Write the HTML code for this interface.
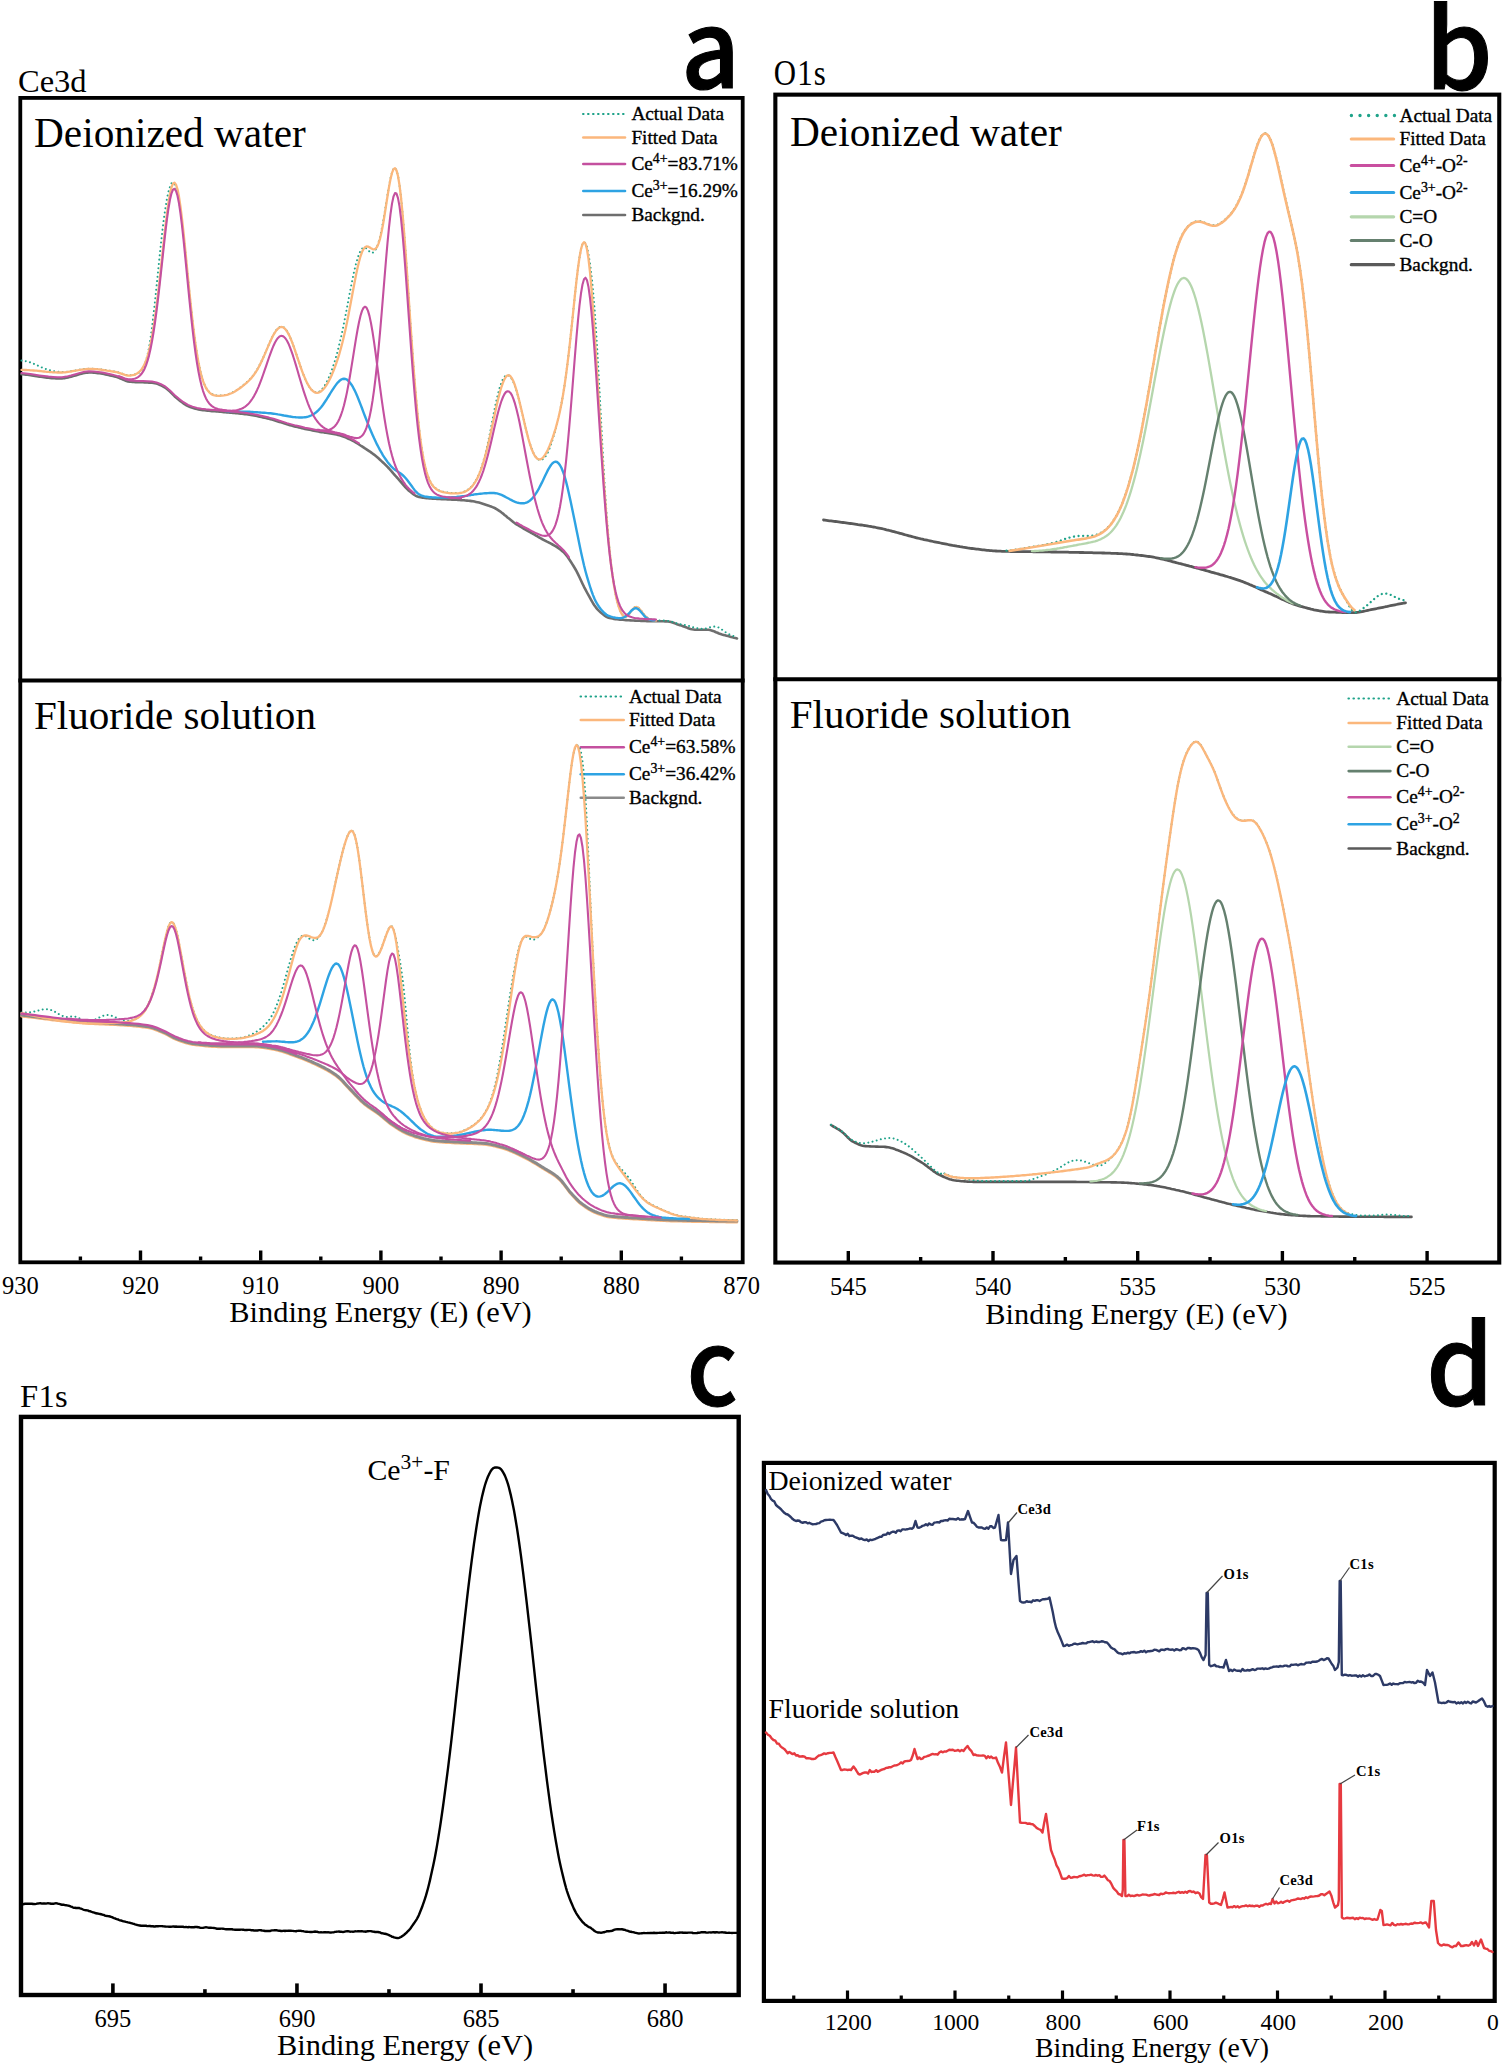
<!DOCTYPE html>
<html lang="en"><head><meta charset="utf-8"><title>XPS spectra</title>
<style>html,body{margin:0;padding:0;background:#fff}svg{display:block}text{fill:#000}</style></head>
<body>
<svg width="1503" height="2064" viewBox="0 0 1503 2064">
<rect width="1503" height="2064" fill="#fff"/>
<rect x="20.299999999999997" y="97.9" width="722.4000000000001" height="1164.4" fill="none" stroke="#000" stroke-width="3.8"/>
<line x1="18.4" y1="680.4" x2="744.6" y2="680.4" stroke="#000" stroke-width="4"/>
<text x="18" y="91.5" font-size="32.5" text-anchor="start" font-family="'Liberation Serif','Times New Roman',serif">Ce3d</text>
<text transform="translate(681.3,88.3) scale(0.93,0.98)" font-size="110" font-family="'Noto Sans CJK SC','Liberation Sans',sans-serif" font-weight="500" stroke="#000" stroke-width="1.2">a</text>
<text x="34" y="147.3" font-size="41.3" text-anchor="start" font-family="'Liberation Serif','Times New Roman',serif">Deionized water</text>
<text x="34" y="728.5" font-size="41.1" text-anchor="start" font-family="'Liberation Serif','Times New Roman',serif">Fluoride solution</text>
<line x1="140.5" y1="1260.5" x2="140.5" y2="1250.5" stroke="#000" stroke-width="3.4"/>
<line x1="260.7" y1="1260.5" x2="260.7" y2="1250.5" stroke="#000" stroke-width="3.4"/>
<line x1="380.9" y1="1260.5" x2="380.9" y2="1250.5" stroke="#000" stroke-width="3.4"/>
<line x1="501.09999999999997" y1="1260.5" x2="501.09999999999997" y2="1250.5" stroke="#000" stroke-width="3.4"/>
<line x1="621.3" y1="1260.5" x2="621.3" y2="1250.5" stroke="#000" stroke-width="3.4"/>
<line x1="80.39999999999999" y1="1260.5" x2="80.39999999999999" y2="1256.5" stroke="#000" stroke-width="3.4"/>
<line x1="200.6" y1="1260.5" x2="200.6" y2="1256.5" stroke="#000" stroke-width="3.4"/>
<line x1="320.8" y1="1260.5" x2="320.8" y2="1256.5" stroke="#000" stroke-width="3.4"/>
<line x1="441.0" y1="1260.5" x2="441.0" y2="1256.5" stroke="#000" stroke-width="3.4"/>
<line x1="561.1999999999999" y1="1260.5" x2="561.1999999999999" y2="1256.5" stroke="#000" stroke-width="3.4"/>
<line x1="681.4" y1="1260.5" x2="681.4" y2="1256.5" stroke="#000" stroke-width="3.4"/>
<text x="20.3" y="1294" font-size="24.5" text-anchor="middle" font-family="'Liberation Serif','Times New Roman',serif">930</text>
<text x="140.5" y="1294" font-size="24.5" text-anchor="middle" font-family="'Liberation Serif','Times New Roman',serif">920</text>
<text x="260.7" y="1294" font-size="24.5" text-anchor="middle" font-family="'Liberation Serif','Times New Roman',serif">910</text>
<text x="380.9" y="1294" font-size="24.5" text-anchor="middle" font-family="'Liberation Serif','Times New Roman',serif">900</text>
<text x="501.1" y="1294" font-size="24.5" text-anchor="middle" font-family="'Liberation Serif','Times New Roman',serif">890</text>
<text x="621.3" y="1294" font-size="24.5" text-anchor="middle" font-family="'Liberation Serif','Times New Roman',serif">880</text>
<text x="741.5" y="1294" font-size="24.5" text-anchor="middle" font-family="'Liberation Serif','Times New Roman',serif">870</text>
<text x="380.5" y="1322" font-size="30.4" text-anchor="middle" font-family="'Liberation Serif','Times New Roman',serif">Binding Energy (E) (eV)</text>
<line x1="583.0" y1="114" x2="626.3" y2="114" stroke="#1fa38a" stroke-width="2.0" stroke-dasharray="0.6 4.4" stroke-linecap="round"/>
<text x="631.4" y="120.1" font-size="19.3" text-anchor="start" font-family="'Liberation Serif','Times New Roman',serif" stroke="#000" stroke-width="0.35">Actual Data</text>
<line x1="583.3" y1="137.5" x2="625.0" y2="137.5" stroke="#fbb77c" stroke-width="2.6" stroke-linecap="round"/>
<text x="631.4" y="143.6" font-size="19.3" text-anchor="start" font-family="'Liberation Serif','Times New Roman',serif" stroke="#000" stroke-width="0.35">Fitted Data</text>
<line x1="583.3" y1="164" x2="625.0" y2="164" stroke="#c4509f" stroke-width="2.6" stroke-linecap="round"/>
<text x="631.4" y="170.1" font-size="19.3" text-anchor="start" font-family="'Liberation Serif','Times New Roman',serif" stroke="#000" stroke-width="0.35">Ce<tspan font-size="0.72em" dy="-0.5em">4+</tspan><tspan dy="0.36em" font-size="1em">&#8203;</tspan>=83.71%</text>
<line x1="583.3" y1="191" x2="625.0" y2="191" stroke="#2ea3e3" stroke-width="2.6" stroke-linecap="round"/>
<text x="631.4" y="197.1" font-size="19.3" text-anchor="start" font-family="'Liberation Serif','Times New Roman',serif" stroke="#000" stroke-width="0.35">Ce<tspan font-size="0.72em" dy="-0.5em">3+</tspan><tspan dy="0.36em" font-size="1em">&#8203;</tspan>=16.29%</text>
<line x1="583.3" y1="215" x2="625.0" y2="215" stroke="#6e6e6e" stroke-width="2.6" stroke-linecap="round"/>
<text x="631.4" y="221.1" font-size="19.3" text-anchor="start" font-family="'Liberation Serif','Times New Roman',serif" stroke="#000" stroke-width="0.35">Backgnd.</text>
<line x1="580.5" y1="696.5" x2="625" y2="696.5" stroke="#1fa38a" stroke-width="2.0" stroke-dasharray="0.6 4.4" stroke-linecap="round"/>
<text x="629" y="702.6" font-size="19.3" text-anchor="start" font-family="'Liberation Serif','Times New Roman',serif" stroke="#000" stroke-width="0.35">Actual Data</text>
<line x1="580.8" y1="720" x2="623.7" y2="720" stroke="#fbb77c" stroke-width="2.6" stroke-linecap="round"/>
<text x="629" y="726.1" font-size="19.3" text-anchor="start" font-family="'Liberation Serif','Times New Roman',serif" stroke="#000" stroke-width="0.35">Fitted Data</text>
<line x1="580.8" y1="747.2" x2="623.7" y2="747.2" stroke="#c4509f" stroke-width="2.6" stroke-linecap="round"/>
<text x="629" y="753.3000000000001" font-size="19.3" text-anchor="start" font-family="'Liberation Serif','Times New Roman',serif" stroke="#000" stroke-width="0.35">Ce<tspan font-size="0.72em" dy="-0.5em">4+</tspan><tspan dy="0.36em" font-size="1em">&#8203;</tspan>=63.58%</text>
<line x1="580.8" y1="774.2" x2="623.7" y2="774.2" stroke="#2ea3e3" stroke-width="2.6" stroke-linecap="round"/>
<text x="629" y="780.3000000000001" font-size="19.3" text-anchor="start" font-family="'Liberation Serif','Times New Roman',serif" stroke="#000" stroke-width="0.35">Ce<tspan font-size="0.72em" dy="-0.5em">3+</tspan><tspan dy="0.36em" font-size="1em">&#8203;</tspan>=36.42%</text>
<line x1="580.8" y1="797.7" x2="623.7" y2="797.7" stroke="#8a8a8a" stroke-width="2.6" stroke-linecap="round"/>
<text x="629" y="803.8000000000001" font-size="19.3" text-anchor="start" font-family="'Liberation Serif','Times New Roman',serif" stroke="#000" stroke-width="0.35">Backgnd.</text>
<path d="M21.5,374.1 L23.0,374.2 L24.5,374.4 L26.0,374.6 L27.5,374.8 L29.0,375.0 L30.5,375.2 L32.0,375.4 L33.5,375.7 L35.0,375.9 L36.5,376.1 L38.0,376.4 L39.5,376.6 L41.0,376.8 L42.5,377.0 L44.0,377.2 L45.5,377.4 L47.0,377.6 L48.5,377.8 L50.0,378.0 L51.5,378.1 L53.0,378.2 L54.5,378.3 L56.0,378.4 L57.5,378.5 L59.0,378.5 L60.5,378.5 L62.0,378.4 L63.5,378.3 L65.0,378.1 L66.5,377.8 L68.0,377.4 L69.5,377.1 L71.0,376.7 L72.5,376.2 L74.0,375.8 L75.5,375.4 L77.0,374.9 L78.5,374.5 L80.0,374.1 L81.5,373.7 L83.0,373.3 L84.5,373.0 L86.0,372.8 L87.5,372.6 L89.0,372.5 L90.5,372.5 L92.0,372.5 L93.5,372.6 L95.0,372.7 L96.5,372.9 L98.0,373.1 L99.5,373.3 L101.0,373.5 L102.5,373.8 L104.0,374.1 L105.5,374.4 L107.0,374.7 L108.5,375.0 L110.0,375.4 L111.5,375.7 L113.0,376.0 L114.5,376.4 L116.0,376.8 L117.5,377.2 L119.0,377.8 L120.5,378.5 L122.0,379.1 L123.5,379.8 L125.0,380.4 L126.5,380.9 L128.0,381.4 L129.5,381.6 L131.0,381.8 L132.5,381.9 L134.0,382.0 L135.5,382.1 L137.0,382.1 L138.5,382.2 L140.0,382.2 L141.5,382.3 L143.0,382.3 L144.5,382.4 L146.0,382.4 L147.5,382.5 L149.0,382.6 L150.5,382.7 L152.0,382.8 L153.5,382.9 L155.0,383.2 L156.5,383.6 L158.0,384.1 L159.5,384.7 L161.0,385.4 L162.5,386.2 L164.0,387.0 L165.5,387.9 L167.0,388.9 L168.5,390.2 L170.0,391.6 L171.5,393.2 L173.0,394.7 L174.5,396.2 L176.0,397.5 L177.5,398.7 L179.0,399.9 L180.5,401.2 L182.0,402.3 L183.5,403.4 L185.0,404.5 L186.5,405.4 L188.0,406.1 L189.5,406.7 L191.0,407.3 L192.5,407.8 L194.0,408.3 L195.5,408.8 L197.0,409.1 L198.5,409.5 L200.0,409.7 L201.5,409.9 L203.0,410.1 L204.5,410.3 L206.0,410.5 L207.5,410.7 L209.0,410.8 L210.5,410.9 L212.0,411.1 L213.5,411.2 L215.0,411.3 L216.5,411.4 L218.0,411.5 L219.5,411.7 L221.0,411.8 L222.5,411.9 L224.0,412.1 L225.5,412.2 L227.0,412.4 L228.5,412.5 L230.0,412.6 L231.5,412.8 L233.0,412.9 L234.5,413.0 L236.0,413.2 L237.5,413.3 L239.0,413.5 L240.5,413.6 L242.0,413.8 L243.5,413.9 L245.0,414.1 L246.5,414.3 L248.0,414.5 L249.5,414.8 L251.0,415.0 L252.5,415.3 L254.0,415.5 L255.5,415.8 L257.0,416.1 L258.5,416.4 L260.0,416.8 L261.5,417.1 L263.0,417.4 L264.5,417.8 L266.0,418.1 L267.5,418.5 L269.0,418.8 L270.5,419.2 L272.0,419.6 L273.5,420.0 L275.0,420.4 L276.5,420.9 L278.0,421.4 L279.5,421.9 L281.0,422.3 L282.5,422.8 L284.0,423.3 L285.5,423.8 L287.0,424.3 L288.5,424.7 L290.0,425.2 L291.5,425.6 L293.0,426.0 L294.5,426.4 L296.0,426.8 L297.5,427.1 L299.0,427.5 L300.5,427.8 L302.0,428.2 L303.5,428.5 L305.0,428.9 L306.5,429.2 L308.0,429.5 L309.5,429.8 L311.0,430.1 L312.5,430.4 L314.0,430.7 L315.5,431.0 L317.0,431.3 L318.5,431.6 L320.0,431.9 L321.5,432.1 L323.0,432.3 L324.5,432.6 L326.0,432.8 L327.5,433.0 L329.0,433.2 L330.5,433.5 L332.0,433.7 L333.5,434.0 L335.0,434.3 L336.5,434.6 L338.0,434.9 L339.5,435.3 L341.0,435.7 L342.5,436.2 L344.0,436.8 L345.5,437.4 L347.0,438.0 L348.5,438.7 L350.0,439.4 L351.5,440.1 L353.0,440.9 L354.5,441.7 L356.0,442.6 L357.5,443.5 L359.0,444.5 L360.5,445.5 L362.0,446.4 L363.5,447.4 L365.0,448.4 L366.5,449.3 L368.0,450.3 L369.5,451.3 L371.0,452.4 L372.5,453.5 L374.0,454.6 L375.5,455.8 L377.0,457.0 L378.5,458.3 L380.0,459.7 L381.5,461.1 L383.0,462.5 L384.5,463.9 L386.0,465.4 L387.5,466.9 L389.0,468.5 L390.5,470.2 L392.0,471.8 L393.5,473.6 L395.0,475.3 L396.5,477.0 L398.0,478.6 L399.5,480.3 L401.0,482.1 L402.5,483.9 L404.0,485.7 L405.5,487.4 L407.0,488.9 L408.5,490.4 L410.0,491.6 L411.5,492.8 L413.0,493.9 L414.5,495.0 L416.0,495.9 L417.5,496.6 L419.0,497.0 L420.5,497.3 L422.0,497.6 L423.5,497.8 L425.0,498.0 L426.5,498.1 L428.0,498.2 L429.5,498.4 L431.0,498.5 L432.5,498.6 L434.0,498.7 L435.5,498.8 L437.0,498.9 L438.5,498.9 L440.0,499.0 L441.5,499.1 L443.0,499.1 L444.5,499.2 L446.0,499.3 L447.5,499.4 L449.0,499.4 L450.5,499.5 L452.0,499.6 L453.5,499.7 L455.0,499.8 L456.5,499.8 L458.0,499.9 L459.5,500.0 L461.0,500.1 L462.5,500.2 L464.0,500.3 L465.5,500.5 L467.0,500.6 L468.5,500.8 L470.0,500.9 L471.5,501.1 L473.0,501.3 L474.5,501.6 L476.0,501.9 L477.5,502.2 L479.0,502.6 L480.5,503.0 L482.0,503.4 L483.5,503.9 L485.0,504.4 L486.5,504.9 L488.0,505.4 L489.5,506.0 L491.0,506.5 L492.5,507.1 L494.0,507.7 L495.5,508.5 L497.0,509.3 L498.5,510.3 L500.0,511.3 L501.5,512.5 L503.0,513.6 L504.5,514.9 L506.0,516.1 L507.5,517.4 L509.0,518.6 L510.5,519.8 L512.0,521.0 L513.5,522.2 L515.0,523.3 L516.5,524.3 L518.0,525.2 L519.5,526.1 L521.0,527.0 L522.5,527.9 L524.0,528.8 L525.5,529.7 L527.0,530.5 L528.5,531.4 L530.0,532.2 L531.5,533.0 L533.0,533.9 L534.5,534.7 L536.0,535.6 L537.5,536.4 L539.0,537.3 L540.5,538.2 L542.0,539.0 L543.5,539.8 L545.0,540.6 L546.5,541.4 L548.0,542.1 L549.5,542.9 L551.0,543.7 L552.5,544.5 L554.0,545.3 L555.5,546.2 L557.0,547.2 L558.5,548.2 L560.0,549.3 L561.5,550.4 L563.0,551.7 L564.5,553.2 L566.0,554.9 L567.5,556.8 L569.0,559.0 L570.5,561.2 L572.0,563.6 L573.5,566.0 L575.0,568.5 L576.5,571.2 L578.0,574.1 L579.5,577.3 L581.0,580.5 L582.5,583.7 L584.0,586.8 L585.5,589.7 L587.0,592.5 L588.5,595.2 L590.0,597.9 L591.5,600.6 L593.0,603.2 L594.5,605.5 L596.0,607.6 L597.5,609.4 L599.0,610.9 L600.5,612.3 L602.0,613.6 L603.5,614.8 L605.0,615.9 L606.5,616.8 L608.0,617.5 L609.5,618.0 L611.0,618.3 L612.5,618.6 L614.0,618.9 L615.5,619.1 L617.0,619.3 L618.5,619.4 L620.0,619.6 L621.5,619.7 L623.0,619.8 L624.5,620.0 L626.0,620.1 L627.5,620.2 L629.0,620.3 L630.5,620.4 L632.0,620.5 L633.5,620.5 L635.0,620.6 L636.5,620.7 L638.0,620.8 L639.5,620.8 L641.0,620.9 L642.5,620.9 L644.0,621.0 L645.5,621.0 L647.0,621.1 L648.5,621.1 L650.0,621.1 L651.5,621.1 L653.0,621.2 L654.5,621.2 L656.0,621.2 L657.5,621.2 L659.0,621.3 L660.5,621.3 L662.0,621.3 L663.5,621.3 L665.0,621.4 L666.5,621.4 L668.0,621.5 L669.5,621.7 L671.0,622.0 L672.5,622.5 L674.0,623.0 L675.5,623.6 L677.0,624.2 L678.5,624.7 L680.0,625.2 L681.5,625.6 L683.0,626.2 L684.5,626.8 L686.0,627.3 L687.5,627.9 L689.0,628.4 L690.5,628.9 L692.0,629.3 L693.5,629.5 L695.0,629.7 L696.5,629.7 L698.0,629.7 L699.5,629.7 L701.0,629.7 L702.5,629.7 L704.0,629.7 L705.5,629.7 L707.0,629.7 L708.5,629.8 L710.0,630.0 L711.5,630.4 L713.0,630.9 L714.5,631.5 L716.0,632.2 L717.5,632.8 L719.0,633.5 L720.5,634.0 L722.0,634.5 L723.5,634.9 L725.0,635.3 L726.5,635.7 L728.0,636.1 L729.5,636.5 L731.0,636.9 L732.5,637.3 L734.0,637.7 L735.5,638.0 L737.0,638.4" fill="none" stroke="#6e6e6e" stroke-width="2.6" stroke-linejoin="round" stroke-linecap="round"/>
<path d="M21.5,360.6 L23.0,360.7 L24.5,360.9 L26.0,361.2 L27.5,361.6 L29.0,362.0 L30.5,362.5 L32.0,363.1 L33.5,363.7 L35.0,364.4 L36.5,365.1 L38.0,365.7 L39.5,366.4 L41.0,367.1 L42.5,367.7 L44.0,368.3 L45.5,368.9 L47.0,369.4 L48.5,369.9 L50.0,370.3 L51.5,370.7 L53.0,371.0 L54.5,371.3 L56.0,371.5 L57.5,371.7 L59.0,371.8 L60.5,371.9 L62.0,372.0 L63.5,371.9 L65.0,371.8 L66.5,371.7 L68.0,371.5 L69.5,371.3 L71.0,371.1 L72.5,370.9 L74.0,370.6 L75.5,370.4 L77.0,370.1 L78.5,369.8 L80.0,369.6 L81.5,369.4 L83.0,369.2 L84.5,369.0 L86.0,368.8 L87.5,368.7 L89.0,368.7 L90.5,368.7 L92.0,368.7 L93.5,368.7 L95.0,368.8 L96.5,368.9 L98.0,369.1 L99.5,369.2 L101.0,369.4 L102.5,369.6 L104.0,369.8 L105.5,370.0 L107.0,370.3 L108.5,370.5 L110.0,370.7 L111.5,371.0 L113.0,371.2 L114.5,371.5 L116.0,371.7 L117.5,372.1 L119.0,372.6 L120.5,373.1 L122.0,373.6 L123.5,374.1 L125.0,374.6 L126.5,375.0 L128.0,375.2 L129.5,375.3 L131.0,375.2 L132.5,375.0 L134.0,374.7 L135.5,374.3 L137.0,373.8 L138.5,373.0 L140.0,372.0 L141.5,370.4 L143.0,368.2 L144.5,365.1 L146.0,360.8 L147.5,355.0 L149.0,347.5 L150.5,338.2 L152.0,327.2 L153.5,314.7 L155.0,301.1 L156.5,286.7 L158.0,272.0 L159.5,257.3 L161.0,243.1 L162.5,229.8 L164.0,217.7 L165.5,207.3 L167.0,198.5 L168.5,191.6 L170.0,186.5 L171.5,183.3 L173.0,182.5 L174.5,183.7 L176.0,187.1 L177.5,192.7 L179.0,200.4 L180.5,210.2 L182.0,221.8 L183.5,234.8 L185.0,248.9 L186.5,263.7 L188.0,278.5 L189.5,293.2 L191.0,307.4 L192.5,320.8 L194.0,333.1 L195.5,344.2 L197.0,354.0 L198.5,362.5 L200.0,369.7 L201.5,375.7 L203.0,380.6 L204.5,384.5 L206.0,387.6 L207.5,390.0 L209.0,391.8 L210.5,393.2 L212.0,394.1 L213.5,394.8 L215.0,395.2 L216.5,395.4 L218.0,395.5 L219.5,395.5 L221.0,395.4 L222.5,395.3 L224.0,395.1 L225.5,394.8 L227.0,394.5 L228.5,394.1 L230.0,393.5 L231.5,392.9 L233.0,392.2 L234.5,391.4 L236.0,390.5 L237.5,389.5 L239.0,388.5 L240.5,387.4 L242.0,386.3 L243.5,385.1 L245.0,383.9 L246.5,382.6 L248.0,381.2 L249.5,379.7 L251.0,378.1 L252.5,376.3 L254.0,374.4 L255.5,372.2 L257.0,369.8 L258.5,367.2 L260.0,364.3 L261.5,361.3 L263.0,358.0 L264.5,354.6 L266.0,351.1 L267.5,347.6 L269.0,344.1 L270.5,340.7 L272.0,337.5 L273.5,334.5 L275.0,332.0 L276.5,329.9 L278.0,328.3 L279.5,327.2 L281.0,326.7 L282.5,326.8 L284.0,327.6 L285.5,329.0 L287.0,331.1 L288.5,333.7 L290.0,336.9 L291.5,340.5 L293.0,344.4 L294.5,348.7 L296.0,353.1 L297.5,357.6 L299.0,362.1 L300.5,366.5 L302.0,370.7 L303.5,374.7 L305.0,378.4 L306.5,381.8 L308.0,384.7 L309.5,387.2 L311.0,389.2 L312.5,390.7 L314.0,391.8 L315.5,392.3 L317.0,392.4 L318.5,392.0 L320.0,391.2 L321.5,389.8 L323.0,388.1 L324.5,385.9 L326.0,383.4 L327.5,380.5 L329.0,377.2 L330.5,373.5 L332.0,369.5 L333.5,365.1 L335.0,360.4 L336.5,355.2 L338.0,349.6 L339.5,343.6 L341.0,337.2 L342.5,330.4 L344.0,323.1 L345.5,315.5 L347.0,307.7 L348.5,299.7 L350.0,291.7 L351.5,284.0 L353.0,276.6 L354.5,269.9 L356.0,263.8 L357.5,258.5 L359.0,254.2 L360.5,250.9 L362.0,248.7 L363.5,247.6 L365.0,247.6 L366.5,248.5 L368.0,250.0 L369.5,251.5 L371.0,252.6 L372.5,252.8 L374.0,251.9 L375.5,250.0 L377.0,246.8 L378.5,242.6 L380.0,237.1 L381.5,230.3 L383.0,222.5 L384.5,213.7 L386.0,204.3 L387.5,194.9 L389.0,186.1 L390.5,178.4 L392.0,172.4 L393.5,168.8 L395.0,167.9 L396.5,170.2 L398.0,175.8 L399.5,184.9 L401.0,197.4 L402.5,212.9 L404.0,230.9 L405.5,251.0 L407.0,272.4 L408.5,294.6 L410.0,316.8 L411.5,338.8 L413.0,359.9 L414.5,379.7 L416.0,397.7 L417.5,413.9 L419.0,427.9 L420.5,439.9 L422.0,450.1 L423.5,458.7 L425.0,465.8 L426.5,471.5 L428.0,476.2 L429.5,479.9 L431.0,482.8 L432.5,485.1 L434.0,486.9 L435.5,488.2 L437.0,489.3 L438.5,490.2 L440.0,490.8 L441.5,491.3 L443.0,491.8 L444.5,492.1 L446.0,492.4 L447.5,492.6 L449.0,492.8 L450.5,493.0 L452.0,493.1 L453.5,493.1 L455.0,493.1 L456.5,493.1 L458.0,493.0 L459.5,492.8 L461.0,492.6 L462.5,492.2 L464.0,491.8 L465.5,491.1 L467.0,490.3 L468.5,489.3 L470.0,488.1 L471.5,486.6 L473.0,484.9 L474.5,482.8 L476.0,480.3 L477.5,477.5 L479.0,474.1 L480.5,470.3 L482.0,465.8 L483.5,460.9 L485.0,455.3 L486.5,449.1 L488.0,442.3 L489.5,435.1 L491.0,427.4 L492.5,419.6 L494.0,411.9 L495.5,404.6 L497.0,397.8 L498.5,391.7 L500.0,386.5 L501.5,382.2 L503.0,379.0 L504.5,376.7 L506.0,375.4 L507.5,375.1 L509.0,375.6 L510.5,377.0 L512.0,379.2 L513.5,382.3 L515.0,386.2 L516.5,390.8 L518.0,396.0 L519.5,401.8 L521.0,408.0 L522.5,414.4 L524.0,420.8 L525.5,427.1 L527.0,433.2 L528.5,438.8 L530.0,443.9 L531.5,448.3 L533.0,452.1 L534.5,455.1 L536.0,457.3 L537.5,458.9 L539.0,459.8 L540.5,460.0 L542.0,459.7 L543.5,458.7 L545.0,457.2 L546.5,455.0 L548.0,452.1 L549.5,448.5 L551.0,444.4 L552.5,439.8 L554.0,434.8 L555.5,429.5 L557.0,423.8 L558.5,417.6 L560.0,410.8 L561.5,403.3 L563.0,394.8 L564.5,385.4 L566.0,374.9 L567.5,363.4 L569.0,350.9 L570.5,337.4 L572.0,323.2 L573.5,308.6 L575.0,294.1 L576.5,280.3 L578.0,267.9 L579.5,257.4 L581.0,249.3 L582.5,244.2 L584.0,242.1 L585.5,243.1 L587.0,247.1 L588.5,253.9 L590.0,263.3 L591.5,275.3 L593.0,290.0 L594.5,308.0 L596.0,329.3 L597.5,353.8 L599.0,380.7 L600.5,409.0 L602.0,437.5 L603.5,464.8 L605.0,490.1 L606.5,512.6 L608.0,532.2 L609.5,549.0 L611.0,563.2 L612.5,575.1 L614.0,585.2 L615.5,593.5 L617.0,600.4 L618.5,605.8 L620.0,610.1 L621.5,613.3 L623.0,615.4 L624.5,616.4 L626.0,616.4 L627.5,615.6 L629.0,614.0 L630.5,611.9 L632.0,609.8 L633.5,608.1 L635.0,607.0 L636.5,606.7 L638.0,607.3 L639.5,608.7 L641.0,610.5 L642.5,612.5 L644.0,614.4 L645.5,616.1 L647.0,617.4 L648.5,618.4 L650.0,619.1 L651.5,619.6 L653.0,619.9 L654.5,620.1 L656.0,620.3 L657.5,620.3 L659.0,620.4 L660.5,620.5 L662.0,620.6 L663.5,620.6 L665.0,620.7 L666.5,620.8 L668.0,620.9 L669.5,621.1 L671.0,621.4 L672.5,621.9 L674.0,622.4 L675.5,622.9 L677.0,623.4 L678.5,623.9 L680.0,624.2 L681.5,624.4 L683.0,624.7 L684.5,625.0 L686.0,625.3 L687.5,625.6 L689.0,626.0 L690.5,626.4 L692.0,626.9 L693.5,627.4 L695.0,627.8 L696.5,628.1 L698.0,628.4 L699.5,628.6 L701.0,628.7 L702.5,628.8 L704.0,628.7 L705.5,628.5 L707.0,628.2 L708.5,627.7 L710.0,627.3 L711.5,627.0 L713.0,626.7 L714.5,626.6 L716.0,626.7 L717.5,627.0 L719.0,627.7 L720.5,628.6 L722.0,629.6 L723.5,630.7 L725.0,631.8 L726.5,632.8 L728.0,633.8 L729.5,634.5 L731.0,635.2 L732.5,635.7 L734.0,636.2 L735.5,636.6 L737.0,637.0" fill="none" stroke="#1fa38a" stroke-width="2.0" stroke-linejoin="round" stroke-linecap="round" stroke-dasharray="0.01 4.3"/>
<path d="M21.5,369.9 L23.0,369.9 L24.5,370.0 L26.0,370.0 L27.5,370.1 L29.0,370.2 L30.5,370.3 L32.0,370.4 L33.5,370.5 L35.0,370.6 L36.5,370.7 L38.0,370.9 L39.5,371.0 L41.0,371.2 L42.5,371.4 L44.0,371.5 L45.5,371.7 L47.0,371.8 L48.5,371.9 L50.0,372.1 L51.5,372.2 L53.0,372.3 L54.5,372.4 L56.0,372.4 L57.5,372.5 L59.0,372.5 L60.5,372.5 L62.0,372.5 L63.5,372.4 L65.0,372.3 L66.5,372.1 L68.0,371.9 L69.5,371.7 L71.0,371.5 L72.5,371.2 L74.0,370.9 L75.5,370.7 L77.0,370.4 L78.5,370.2 L80.0,369.9 L81.5,369.7 L83.0,369.5 L84.5,369.3 L86.0,369.1 L87.5,369.0 L89.0,369.0 L90.5,369.0 L92.0,369.0 L93.5,369.0 L95.0,369.1 L96.5,369.2 L98.0,369.4 L99.5,369.5 L101.0,369.7 L102.5,369.9 L104.0,370.1 L105.5,370.3 L107.0,370.6 L108.5,370.8 L110.0,371.0 L111.5,371.3 L113.0,371.5 L114.5,371.8 L116.0,372.0 L117.5,372.4 L119.0,372.9 L120.5,373.4 L122.0,373.9 L123.5,374.4 L125.0,374.9 L126.5,375.3 L128.0,375.5 L129.5,375.6 L131.0,375.4 L132.5,375.2 L134.0,374.8 L135.5,374.3 L137.0,373.5 L138.5,372.5 L140.0,371.2 L141.5,369.5 L143.0,367.2 L144.5,364.4 L146.0,360.8 L147.5,356.3 L149.0,350.9 L150.5,344.3 L152.0,336.6 L153.5,327.6 L155.0,317.5 L156.5,306.3 L158.0,294.1 L159.5,281.0 L161.0,267.2 L162.5,253.2 L164.0,239.2 L165.5,225.7 L167.0,213.3 L168.5,202.5 L170.0,193.7 L171.5,187.3 L173.0,183.6 L174.5,182.6 L176.0,184.6 L177.5,189.3 L179.0,196.8 L180.5,206.8 L182.0,218.9 L183.5,232.5 L185.0,247.2 L186.5,262.5 L188.0,277.8 L189.5,292.8 L191.0,307.2 L192.5,320.8 L194.0,333.2 L195.5,344.4 L197.0,354.2 L198.5,362.8 L200.0,370.0 L201.5,376.0 L203.0,380.9 L204.5,384.8 L206.0,387.9 L207.5,390.3 L209.0,392.1 L210.5,393.5 L212.0,394.4 L213.5,395.1 L215.0,395.5 L216.5,395.7 L218.0,395.8 L219.5,395.8 L221.0,395.7 L222.5,395.6 L224.0,395.4 L225.5,395.1 L227.0,394.8 L228.5,394.4 L230.0,393.8 L231.5,393.2 L233.0,392.5 L234.5,391.7 L236.0,390.8 L237.5,389.8 L239.0,388.8 L240.5,387.7 L242.0,386.6 L243.5,385.4 L245.0,384.2 L246.5,382.9 L248.0,381.5 L249.5,380.0 L251.0,378.4 L252.5,376.6 L254.0,374.7 L255.5,372.5 L257.0,370.1 L258.5,367.5 L260.0,364.6 L261.5,361.6 L263.0,358.3 L264.5,354.9 L266.0,351.4 L267.5,347.9 L269.0,344.4 L270.5,341.0 L272.0,337.8 L273.5,334.8 L275.0,332.3 L276.5,330.2 L278.0,328.6 L279.5,327.5 L281.0,327.0 L282.5,327.1 L284.0,327.9 L285.5,329.3 L287.0,331.4 L288.5,334.0 L290.0,337.1 L291.5,340.7 L293.0,344.7 L294.5,348.9 L296.0,353.3 L297.5,357.8 L299.0,362.2 L300.5,366.6 L302.0,370.8 L303.5,374.8 L305.0,378.4 L306.5,381.7 L308.0,384.6 L309.5,387.1 L311.0,389.2 L312.5,390.8 L314.0,391.9 L315.5,392.6 L317.0,392.8 L318.5,392.6 L320.0,392.0 L321.5,391.0 L323.0,389.6 L324.5,387.9 L326.0,385.8 L327.5,383.4 L329.0,380.7 L330.5,377.7 L332.0,374.4 L333.5,370.8 L335.0,366.9 L336.5,362.7 L338.0,358.2 L339.5,353.3 L341.0,347.9 L342.5,342.2 L344.0,336.0 L345.5,329.4 L347.0,322.3 L348.5,314.8 L350.0,306.9 L351.5,298.8 L353.0,290.7 L354.5,282.7 L356.0,275.1 L357.5,268.0 L359.0,261.7 L360.5,256.3 L362.0,252.1 L363.5,249.1 L365.0,247.2 L366.5,246.4 L368.0,246.6 L369.5,247.3 L371.0,248.3 L372.5,249.1 L374.0,249.4 L375.5,248.8 L377.0,247.0 L378.5,243.6 L380.0,238.8 L381.5,232.3 L383.0,224.5 L384.5,215.5 L386.0,205.9 L387.5,196.2 L389.0,187.1 L390.5,179.1 L392.0,172.9 L393.5,169.1 L395.0,168.1 L396.5,170.4 L398.0,176.0 L399.5,185.1 L401.0,197.5 L402.5,213.0 L404.0,231.1 L405.5,251.1 L407.0,272.6 L408.5,294.8 L410.0,317.1 L411.5,339.0 L413.0,360.2 L414.5,379.9 L416.0,398.0 L417.5,414.2 L419.0,428.2 L420.5,440.2 L422.0,450.4 L423.5,459.0 L425.0,466.1 L426.5,471.8 L428.0,476.5 L429.5,480.2 L431.0,483.1 L432.5,485.4 L434.0,487.2 L435.5,488.5 L437.0,489.6 L438.5,490.5 L440.0,491.1 L441.5,491.6 L443.0,492.1 L444.5,492.4 L446.0,492.7 L447.5,492.9 L449.0,493.1 L450.5,493.3 L452.0,493.4 L453.5,493.4 L455.0,493.4 L456.5,493.4 L458.0,493.3 L459.5,493.1 L461.0,492.9 L462.5,492.5 L464.0,492.1 L465.5,491.4 L467.0,490.6 L468.5,489.6 L470.0,488.4 L471.5,487.0 L473.0,485.2 L474.5,483.1 L476.0,480.7 L477.5,477.9 L479.0,474.6 L480.5,470.9 L482.0,466.6 L483.5,461.9 L485.0,456.7 L486.5,451.1 L488.0,445.0 L489.5,438.5 L491.0,431.7 L492.5,424.7 L494.0,417.7 L495.5,410.7 L497.0,404.0 L498.5,397.7 L500.0,391.9 L501.5,386.8 L503.0,382.5 L504.5,379.1 L506.0,376.7 L507.5,375.4 L509.0,375.3 L510.5,376.3 L512.0,378.4 L513.5,381.5 L515.0,385.5 L516.5,390.3 L518.0,395.7 L519.5,401.7 L521.0,408.0 L522.5,414.5 L524.0,421.0 L525.5,427.4 L527.0,433.4 L528.5,439.1 L530.0,444.2 L531.5,448.6 L533.0,452.3 L534.5,455.3 L536.0,457.4 L537.5,458.8 L539.0,459.4 L540.5,459.3 L542.0,458.5 L543.5,457.0 L545.0,454.9 L546.5,452.4 L548.0,449.4 L549.5,446.0 L551.0,442.2 L552.5,438.1 L554.0,433.6 L555.5,428.8 L557.0,423.4 L558.5,417.5 L560.0,410.9 L561.5,403.5 L563.0,395.1 L564.5,385.7 L566.0,375.2 L567.5,363.7 L569.0,351.2 L570.5,337.7 L572.0,323.5 L573.5,308.9 L575.0,294.3 L576.5,280.5 L578.0,268.0 L579.5,257.4 L581.0,249.3 L582.5,244.0 L584.0,242.1 L585.5,243.8 L587.0,249.3 L588.5,258.8 L590.0,272.2 L591.5,289.1 L593.0,309.0 L594.5,331.1 L596.0,354.9 L597.5,379.5 L599.0,404.4 L600.5,429.1 L602.0,453.2 L603.5,476.2 L605.0,497.7 L606.5,517.3 L608.0,535.0 L609.5,550.5 L611.0,564.1 L612.5,575.7 L614.0,585.6 L615.5,593.9 L617.0,600.7 L618.5,606.1 L620.0,610.4 L621.5,613.6 L623.0,615.7 L624.5,616.7 L626.0,616.7 L627.5,615.9 L629.0,614.3 L630.5,612.2 L632.0,610.1 L633.5,608.4 L635.0,607.3 L636.5,607.0 L638.0,607.6 L639.5,609.0 L641.0,610.8 L642.5,612.8 L644.0,614.7 L645.5,616.4 L647.0,617.7 L648.5,618.7 L650.0,619.4 L651.5,619.9 L653.0,620.2 L654.5,620.4 L656.0,620.6" fill="none" stroke="#fbb77c" stroke-width="2.3" stroke-linejoin="round" stroke-linecap="round"/>
<path d="M225.5,411.1 L227.0,411.1 L228.5,411.2 L230.0,411.3 L231.5,411.3 L233.0,411.4 L234.5,411.4 L236.0,411.4 L237.5,411.5 L239.0,411.5 L240.5,411.6 L242.0,411.6 L243.5,411.6 L245.0,411.7 L246.5,411.7 L248.0,411.8 L249.5,411.8 L251.0,411.9 L252.5,412.0 L254.0,412.1 L255.5,412.1 L257.0,412.2 L258.5,412.4 L260.0,412.5 L261.5,412.6 L263.0,412.7 L264.5,412.8 L266.0,412.9 L267.5,413.1 L269.0,413.2 L270.5,413.3 L272.0,413.5 L273.5,413.7 L275.0,413.9 L276.5,414.1 L278.0,414.4 L279.5,414.6 L281.0,414.9 L282.5,415.2 L284.0,415.5 L285.5,415.7 L287.0,416.0 L288.5,416.3 L290.0,416.5 L291.5,416.8 L293.0,417.0 L294.5,417.1 L296.0,417.3 L297.5,417.4 L299.0,417.5 L300.5,417.5 L302.0,417.5 L303.5,417.4 L305.0,417.2 L306.5,417.0 L308.0,416.6 L309.5,416.1 L311.0,415.5 L312.5,414.8 L314.0,413.9 L315.5,412.8 L317.0,411.5 L318.5,410.1 L320.0,408.5 L321.5,406.7 L323.0,404.7 L324.5,402.5 L326.0,400.3 L327.5,397.9 L329.0,395.5 L330.5,393.0 L332.0,390.6 L333.5,388.3 L335.0,386.1 L336.5,384.1 L338.0,382.3 L339.5,380.8 L341.0,379.7 L342.5,379.0 L344.0,378.8 L345.5,379.0 L347.0,379.7 L348.5,381.0 L350.0,382.6 L351.5,384.7 L353.0,387.2 L354.5,390.1 L356.0,393.3 L357.5,396.8 L359.0,400.5 L360.5,404.4 L362.0,408.3 L363.5,412.3 L365.0,416.2 L366.5,420.1 L368.0,423.9 L369.5,427.7 L371.0,431.3 L372.5,434.7 L374.0,438.1 L375.5,441.3 L377.0,444.4 L378.5,447.3 L380.0,450.1 L381.5,452.7 L383.0,455.3 L384.5,457.6 L386.0,459.8 L387.5,461.9 L389.0,463.8 L390.5,465.6 L392.0,467.2 L393.5,468.6 L395.0,469.8 L396.5,470.8 L398.0,471.8 L399.5,472.7 L401.0,473.8 L402.5,475.0 L404.0,476.4 L405.5,478.0 L407.0,479.8 L408.5,481.7 L410.0,483.7 L411.5,485.7 L413.0,487.9 L414.5,489.9 L416.0,491.7 L417.5,493.2 L419.0,494.3 L420.5,495.1 L422.0,495.7 L423.5,496.2 L425.0,496.6 L426.5,496.8 L428.0,497.0 L429.5,497.2 L431.0,497.3 L432.5,497.4 L434.0,497.5 L435.5,497.5 L437.0,497.6 L438.5,497.6 L440.0,497.6 L441.5,497.6 L443.0,497.6 L444.5,497.6 L446.0,497.5 L447.5,497.5 L449.0,497.5 L450.5,497.4 L452.0,497.3 L453.5,497.2 L455.0,497.1 L456.5,497.0 L458.0,496.8 L459.5,496.7 L461.0,496.5 L462.5,496.3 L464.0,496.1 L465.5,495.9 L467.0,495.7 L468.5,495.4 L470.0,495.2 L471.5,494.9 L473.0,494.7 L474.5,494.4 L476.0,494.2 L477.5,494.1 L479.0,493.9 L480.5,493.7 L482.0,493.6 L483.5,493.4 L485.0,493.3 L486.5,493.2 L488.0,493.1 L489.5,493.0 L491.0,493.0 L492.5,493.0 L494.0,493.0 L495.5,493.2 L497.0,493.4 L498.5,493.8 L500.0,494.3 L501.5,494.9 L503.0,495.6 L504.5,496.4 L506.0,497.2 L507.5,498.0 L509.0,498.8 L510.5,499.7 L512.0,500.4 L513.5,501.2 L515.0,501.8 L516.5,502.4 L518.0,502.8 L519.5,503.1 L521.0,503.3 L522.5,503.3 L524.0,503.2 L525.5,502.9 L527.0,502.3 L528.5,501.6 L530.0,500.5 L531.5,499.2 L533.0,497.5 L534.5,495.6 L536.0,493.4 L537.5,491.0 L539.0,488.3 L540.5,485.4 L542.0,482.4 L543.5,479.2 L545.0,476.0 L546.5,472.9 L548.0,469.9 L549.5,467.3 L551.0,465.0 L552.5,463.3 L554.0,462.1 L555.5,461.7 L557.0,462.0 L558.5,463.2 L560.0,465.2 L561.5,468.0 L563.0,471.7 L564.5,476.1 L566.0,481.4 L567.5,487.4 L569.0,493.9 L570.5,500.8 L572.0,507.9 L573.5,515.2 L575.0,522.5 L576.5,529.9 L578.0,537.3 L579.5,544.7 L581.0,551.9 L582.5,558.8 L584.0,565.3 L585.5,571.2 L587.0,576.6 L588.5,581.7 L590.0,586.5 L591.5,591.0 L593.0,595.1 L594.5,598.7 L596.0,601.9 L597.5,604.5 L599.0,606.7 L600.5,608.7 L602.0,610.5 L603.5,612.1 L605.0,613.5 L606.5,614.7 L608.0,615.6 L609.5,616.2 L611.0,616.7 L612.5,617.1 L614.0,617.4 L615.5,617.7 L617.0,617.9 L618.5,618.1 L620.0,618.1 L621.5,618.0 L623.0,617.6 L624.5,617.0 L626.0,616.1 L627.5,614.9 L629.0,613.4 L630.5,611.7 L632.0,610.2 L633.5,609.0 L635.0,608.3 L636.5,608.3 L638.0,609.0 L639.5,610.3 L641.0,612.0 L642.5,613.8 L644.0,615.6 L645.5,617.1 L647.0,618.2 L648.5,619.1 L650.0,619.6 L651.5,620.0 L653.0,620.2 L654.5,620.3" fill="none" stroke="#2ea3e3" stroke-width="2.4" stroke-linejoin="round" stroke-linecap="round"/>
<path d="M21.5,372.9 L26.0,373.4 L30.5,374.0 L35.0,374.7 L39.5,375.4 L44.0,376.0 L48.5,376.6 L53.0,377.0 L57.5,377.3 L62.0,377.2 L66.5,376.6 L71.0,375.5 L75.5,374.2 L80.0,372.9 L84.5,371.8 L89.0,371.3 L93.5,371.4 L98.0,371.9 L102.5,372.6 L107.0,373.5 L111.5,374.5 L116.0,375.6 L120.5,377.3 L125.0,379.2 L129.5,380.4 L134.0,380.8 L138.5,381.0 L143.0,381.1 L147.5,381.3 L152.0,381.6 L156.5,382.4 L161.0,384.2 L165.5,386.7 L170.0,390.4 L174.5,395.0 L179.0,398.7 L183.5,402.2 L188.0,404.9 L192.5,406.6 L197.0,407.9 L201.5,408.7 L206.0,409.3 L210.5,409.7 L215.0,410.1 L219.5,410.5 L224.0,410.9 L228.5,411.3 L233.0,411.7 L237.5,412.1 L242.0,412.6 L246.5,413.1 L251.0,413.8 L255.5,414.6 L260.0,415.6 L264.5,416.6 L269.0,417.6 L273.5,418.8 L278.0,420.2 L282.5,421.6 L287.0,423.1 L291.5,424.4 L296.0,425.6 L300.5,426.6 L305.0,427.7 L309.5,428.6 L314.0,429.5 L318.5,430.4 L323.0,431.1 L327.5,431.8 L332.0,432.5 L336.5,433.4 L341.0,434.5 L345.5,436.2 L350.0,438.2 L354.5,440.5 L359.0,443.3" fill="none" stroke="#c4509f" stroke-width="2.0" stroke-linejoin="round" stroke-linecap="round"/>
<path d="M119.0,376.1 L120.5,376.7 L122.0,377.3 L123.5,377.9 L125.0,378.5 L126.5,378.9 L128.0,379.2 L129.5,379.4 L131.0,379.3 L132.5,379.1 L134.0,378.8 L135.5,378.4 L137.0,377.7 L138.5,376.8 L140.0,375.5 L141.5,373.8 L143.0,371.7 L144.5,368.9 L146.0,365.3 L147.5,360.9 L149.0,355.6 L150.5,349.1 L152.0,341.4 L153.5,332.5 L155.0,322.5 L156.5,311.3 L158.0,299.2 L159.5,286.2 L161.0,272.5 L162.5,258.6 L164.0,244.7 L165.5,231.2 L167.0,218.9 L168.5,208.2 L170.0,199.6 L171.5,193.3 L173.0,189.6 L174.5,188.8 L176.0,190.9 L177.5,195.7 L179.0,203.4 L180.5,213.5 L182.0,225.7 L183.5,239.5 L185.0,254.4 L186.5,269.9 L188.0,285.4 L189.5,300.6 L191.0,315.2 L192.5,329.0 L194.0,341.6 L195.5,353.0 L197.0,363.1 L198.5,371.9 L200.0,379.3 L201.5,385.6 L203.0,390.8 L204.5,395.0 L206.0,398.4 L207.5,401.1 L209.0,403.2 L210.5,404.9 L212.0,406.1 L213.5,407.1 L215.0,407.9 L216.5,408.4 L218.0,408.9 L219.5,409.3 L221.0,409.6 L222.5,409.9 L224.0,410.1 L225.5,410.3 L227.0,410.6 L228.5,410.7 L230.0,410.9 L231.5,411.1" fill="none" stroke="#c4509f" stroke-width="2.1" stroke-linejoin="round" stroke-linecap="round"/>
<path d="M225.5,410.6 L227.0,410.7 L228.5,410.7 L230.0,410.7 L231.5,410.7 L233.0,410.6 L234.5,410.5 L236.0,410.3 L237.5,410.0 L239.0,409.6 L240.5,409.1 L242.0,408.5 L243.5,407.7 L245.0,406.8 L246.5,405.6 L248.0,404.2 L249.5,402.6 L251.0,400.7 L252.5,398.5 L254.0,396.1 L255.5,393.3 L257.0,390.2 L258.5,386.8 L260.0,383.1 L261.5,379.2 L263.0,375.0 L264.5,370.7 L266.0,366.3 L267.5,361.9 L269.0,357.5 L270.5,353.3 L272.0,349.3 L273.5,345.7 L275.0,342.5 L276.5,339.9 L278.0,337.9 L279.5,336.5 L281.0,335.9 L282.5,336.0 L284.0,336.9 L285.5,338.5 L287.0,340.8 L288.5,343.7 L290.0,347.3 L291.5,351.3 L293.0,355.7 L294.5,360.5 L296.0,365.4 L297.5,370.5 L299.0,375.7 L300.5,380.8 L302.0,385.8 L303.5,390.6 L305.0,395.2 L306.5,399.5 L308.0,403.6 L309.5,407.3 L311.0,410.7 L312.5,413.7 L314.0,416.5 L315.5,418.9 L317.0,421.0 L318.5,422.9 L320.0,424.5 L321.5,425.9 L323.0,427.1 L324.5,428.1 L326.0,428.9 L327.5,429.7 L329.0,430.3 L330.5,430.9 L332.0,431.4 L333.5,431.9 L335.0,432.4 L336.5,432.8 L338.0,433.2 L339.5,433.7" fill="none" stroke="#c4509f" stroke-width="2.1" stroke-linejoin="round" stroke-linecap="round"/>
<path d="M317.0,429.7 L318.5,429.9 L320.0,430.1 L321.5,430.2 L323.0,430.3 L324.5,430.3 L326.0,430.2 L327.5,430.0 L329.0,429.7 L330.5,429.2 L332.0,428.5 L333.5,427.4 L335.0,426.0 L336.5,424.1 L338.0,421.7 L339.5,418.7 L341.0,415.0 L342.5,410.5 L344.0,405.2 L345.5,399.1 L347.0,392.1 L348.5,384.3 L350.0,375.8 L351.5,366.7 L353.0,357.3 L354.5,347.8 L356.0,338.6 L357.5,330.0 L359.0,322.2 L360.5,315.8 L362.0,310.9 L363.5,307.8 L365.0,306.7 L366.5,307.7 L368.0,310.9 L369.5,316.1 L371.0,323.2 L372.5,331.8 L374.0,341.6 L375.5,352.4 L377.0,363.8 L378.5,375.4 L380.0,386.9 L381.5,398.1 L383.0,408.7 L384.5,418.5 L386.0,427.6 L387.5,435.8 L389.0,443.2 L390.5,449.7 L392.0,455.5 L393.5,460.6 L395.0,465.0 L396.5,468.8 L398.0,472.1 L399.5,475.1 L401.0,477.9 L402.5,480.4 L404.0,482.7 L405.5,484.8 L407.0,486.7 L408.5,488.3 L410.0,489.7 L411.5,491.0 L413.0,492.3 L414.5,493.4" fill="none" stroke="#c4509f" stroke-width="2.1" stroke-linejoin="round" stroke-linecap="round"/>
<path d="M330.5,431.8 L332.0,432.0 L333.5,432.2 L335.0,432.5 L336.5,432.7 L338.0,433.0 L339.5,433.3 L341.0,433.7 L342.5,434.1 L344.0,434.6 L345.5,435.1 L347.0,435.7 L348.5,436.2 L350.0,436.7 L351.5,437.1 L353.0,437.5 L354.5,437.9 L356.0,438.1 L357.5,438.0 L359.0,437.7 L360.5,437.0 L362.0,435.8 L363.5,434.0 L365.0,431.3 L366.5,427.7 L368.0,423.1 L369.5,417.1 L371.0,409.8 L372.5,400.9 L374.0,390.4 L375.5,378.3 L377.0,364.5 L378.5,349.2 L380.0,332.6 L381.5,315.0 L383.0,296.7 L384.5,278.2 L386.0,260.0 L387.5,242.9 L389.0,227.3 L390.5,214.1 L392.0,203.6 L393.5,196.5 L395.0,193.1 L396.5,193.6 L398.0,198.1 L399.5,206.4 L401.0,218.4 L402.5,233.5 L404.0,251.1 L405.5,270.6 L407.0,291.3 L408.5,312.6 L410.0,333.7 L411.5,354.4 L413.0,374.2 L414.5,392.7 L416.0,409.6 L417.5,424.6 L419.0,437.7 L420.5,448.9 L422.0,458.5 L423.5,466.5 L425.0,473.1 L426.5,478.5 L428.0,482.8 L429.5,486.2 L431.0,488.8 L432.5,490.9 L434.0,492.5 L435.5,493.7 L437.0,494.6 L438.5,495.3 L440.0,495.8 L441.5,496.2 L443.0,496.5 L444.5,496.7 L446.0,497.0 L447.5,497.2 L449.0,497.3 L450.5,497.5 L452.0,497.6 L453.5,497.8 L455.0,497.9 L456.5,498.0 L458.0,498.1 L459.5,498.3 L461.0,498.4" fill="none" stroke="#c4509f" stroke-width="2.1" stroke-linejoin="round" stroke-linecap="round"/>
<path d="M449.0,497.8 L450.5,497.8 L452.0,497.9 L453.5,497.8 L455.0,497.8 L456.5,497.8 L458.0,497.7 L459.5,497.5 L461.0,497.3 L462.5,497.0 L464.0,496.6 L465.5,496.1 L467.0,495.5 L468.5,494.7 L470.0,493.7 L471.5,492.5 L473.0,491.0 L474.5,489.2 L476.0,487.1 L477.5,484.6 L479.0,481.7 L480.5,478.3 L482.0,474.5 L483.5,470.3 L485.0,465.5 L486.5,460.3 L488.0,454.7 L489.5,448.7 L491.0,442.4 L492.5,435.9 L494.0,429.3 L495.5,422.9 L497.0,416.6 L498.5,410.8 L500.0,405.5 L501.5,400.8 L503.0,397.0 L504.5,394.0 L506.0,392.0 L507.5,391.2 L509.0,391.5 L510.5,392.9 L512.0,395.4 L513.5,399.1 L515.0,403.7 L516.5,409.2 L518.0,415.4 L519.5,422.3 L521.0,429.8 L522.5,437.6 L524.0,445.6 L525.5,453.7 L527.0,461.7 L528.5,469.6 L530.0,477.2 L531.5,484.4 L533.0,491.3 L534.5,497.7 L536.0,503.6 L537.5,509.0 L539.0,513.9 L540.5,518.4 L542.0,522.3 L543.5,525.8 L545.0,528.9 L546.5,531.6 L548.0,534.0 L549.5,536.1 L551.0,538.0 L552.5,539.7 L554.0,541.2 L555.5,542.7 L557.0,544.1 L558.5,545.5 L560.0,546.8 L561.5,548.2 L563.0,549.7 L564.5,551.3 L566.0,553.1 L567.5,555.1 L569.0,557.3" fill="none" stroke="#c4509f" stroke-width="2.1" stroke-linejoin="round" stroke-linecap="round"/>
<path d="M516.5,522.6 L518.0,523.5 L519.5,524.4 L521.0,525.2 L522.5,526.1 L524.0,526.9 L525.5,527.7 L527.0,528.5 L528.5,529.3 L530.0,530.1 L531.5,530.9 L533.0,531.6 L534.5,532.4 L536.0,533.1 L537.5,533.8 L539.0,534.4 L540.5,535.0 L542.0,535.5 L543.5,535.8 L545.0,535.9 L546.5,535.7 L548.0,535.3 L549.5,534.4 L551.0,533.0 L552.5,531.0 L554.0,528.3 L555.5,524.6 L557.0,519.9 L558.5,514.0 L560.0,506.7 L561.5,497.8 L563.0,487.3 L564.5,475.2 L566.0,461.6 L567.5,446.4 L569.0,429.8 L570.5,412.0 L572.0,393.4 L573.5,374.2 L575.0,355.1 L576.5,336.8 L578.0,320.1 L579.5,305.4 L581.0,293.3 L582.5,284.5 L584.0,279.2 L585.5,277.7 L587.0,280.3 L588.5,287.1 L590.0,298.0 L591.5,312.5 L593.0,330.1 L594.5,350.2 L596.0,371.9 L597.5,394.6 L599.0,417.6 L600.5,440.6 L602.0,463.0 L603.5,484.4 L605.0,504.2 L606.5,522.4 L608.0,538.6 L609.5,552.8 L611.0,565.0 L612.5,575.4 L614.0,584.2 L615.5,591.4 L617.0,597.4 L618.5,602.1 L620.0,605.9 L621.5,608.9 L623.0,611.2 L624.5,613.0 L626.0,614.4 L627.5,615.4 L629.0,616.2 L630.5,616.8 L632.0,617.3 L633.5,617.7 L635.0,618.0 L636.5,618.2 L638.0,618.4 L639.5,618.6 L641.0,618.7 L642.5,618.8 L644.0,619.0 L645.5,619.1 L647.0,619.1 L648.5,619.2 L650.0,619.3 L651.5,619.3 L653.0,619.4 L654.5,619.4 L656.0,619.5" fill="none" stroke="#c4509f" stroke-width="2.1" stroke-linejoin="round" stroke-linecap="round"/>
<path d="M21.5,1016.3 L23.0,1016.5 L24.5,1016.7 L26.0,1016.8 L27.5,1017.0 L29.0,1017.2 L30.5,1017.4 L32.0,1017.6 L33.5,1017.7 L35.0,1017.9 L36.5,1018.1 L38.0,1018.3 L39.5,1018.5 L41.0,1018.7 L42.5,1018.9 L44.0,1019.1 L45.5,1019.3 L47.0,1019.4 L48.5,1019.6 L50.0,1019.8 L51.5,1020.0 L53.0,1020.2 L54.5,1020.3 L56.0,1020.5 L57.5,1020.7 L59.0,1020.8 L60.5,1021.0 L62.0,1021.2 L63.5,1021.3 L65.0,1021.5 L66.5,1021.7 L68.0,1021.8 L69.5,1022.0 L71.0,1022.1 L72.5,1022.3 L74.0,1022.5 L75.5,1022.6 L77.0,1022.7 L78.5,1022.9 L80.0,1023.0 L81.5,1023.1 L83.0,1023.3 L84.5,1023.4 L86.0,1023.5 L87.5,1023.6 L89.0,1023.7 L90.5,1023.8 L92.0,1023.8 L93.5,1023.9 L95.0,1024.0 L96.5,1024.1 L98.0,1024.1 L99.5,1024.2 L101.0,1024.3 L102.5,1024.3 L104.0,1024.4 L105.5,1024.5 L107.0,1024.5 L108.5,1024.6 L110.0,1024.7 L111.5,1024.7 L113.0,1024.8 L114.5,1024.9 L116.0,1024.9 L117.5,1025.0 L119.0,1025.1 L120.5,1025.2 L122.0,1025.3 L123.5,1025.4 L125.0,1025.5 L126.5,1025.6 L128.0,1025.7 L129.5,1025.8 L131.0,1025.9 L132.5,1026.0 L134.0,1026.2 L135.5,1026.3 L137.0,1026.5 L138.5,1026.6 L140.0,1026.8 L141.5,1027.0 L143.0,1027.2 L144.5,1027.4 L146.0,1027.6 L147.5,1027.8 L149.0,1028.1 L150.5,1028.4 L152.0,1028.8 L153.5,1029.2 L155.0,1029.8 L156.5,1030.3 L158.0,1030.9 L159.5,1031.6 L161.0,1032.2 L162.5,1032.8 L164.0,1033.5 L165.5,1034.2 L167.0,1035.0 L168.5,1035.8 L170.0,1036.6 L171.5,1037.5 L173.0,1038.3 L174.5,1039.0 L176.0,1039.7 L177.5,1040.2 L179.0,1040.8 L180.5,1041.3 L182.0,1041.9 L183.5,1042.4 L185.0,1042.9 L186.5,1043.3 L188.0,1043.7 L189.5,1044.1 L191.0,1044.4 L192.5,1044.7 L194.0,1044.9 L195.5,1045.1 L197.0,1045.3 L198.5,1045.4 L200.0,1045.6 L201.5,1045.8 L203.0,1045.9 L204.5,1046.1 L206.0,1046.2 L207.5,1046.3 L209.0,1046.5 L210.5,1046.6 L212.0,1046.7 L213.5,1046.8 L215.0,1046.8 L216.5,1046.9 L218.0,1047.0 L219.5,1047.0 L221.0,1047.1 L222.5,1047.1 L224.0,1047.1 L225.5,1047.1 L227.0,1047.1 L228.5,1047.1 L230.0,1047.1 L231.5,1047.1 L233.0,1047.1 L234.5,1047.1 L236.0,1047.1 L237.5,1047.1 L239.0,1047.1 L240.5,1047.1 L242.0,1047.1 L243.5,1047.1 L245.0,1047.1 L246.5,1047.1 L248.0,1047.1 L249.5,1047.1 L251.0,1047.1 L252.5,1047.1 L254.0,1047.1 L255.5,1047.2 L257.0,1047.3 L258.5,1047.4 L260.0,1047.5 L261.5,1047.7 L263.0,1047.9 L264.5,1048.1 L266.0,1048.3 L267.5,1048.6 L269.0,1048.8 L270.5,1049.1 L272.0,1049.4 L273.5,1049.6 L275.0,1049.9 L276.5,1050.2 L278.0,1050.6 L279.5,1051.0 L281.0,1051.4 L282.5,1051.9 L284.0,1052.4 L285.5,1052.9 L287.0,1053.4 L288.5,1053.9 L290.0,1054.5 L291.5,1055.0 L293.0,1055.6 L294.5,1056.1 L296.0,1056.7 L297.5,1057.2 L299.0,1057.8 L300.5,1058.4 L302.0,1058.9 L303.5,1059.5 L305.0,1060.1 L306.5,1060.7 L308.0,1061.4 L309.5,1062.0 L311.0,1062.6 L312.5,1063.3 L314.0,1064.0 L315.5,1064.7 L317.0,1065.4 L318.5,1066.1 L320.0,1066.8 L321.5,1067.6 L323.0,1068.3 L324.5,1069.1 L326.0,1069.9 L327.5,1070.7 L329.0,1071.6 L330.5,1072.5 L332.0,1073.4 L333.5,1074.4 L335.0,1075.4 L336.5,1076.5 L338.0,1077.7 L339.5,1079.0 L341.0,1080.5 L342.5,1082.0 L344.0,1083.6 L345.5,1085.3 L347.0,1086.9 L348.5,1088.5 L350.0,1090.1 L351.5,1091.6 L353.0,1093.2 L354.5,1094.8 L356.0,1096.3 L357.5,1097.9 L359.0,1099.5 L360.5,1101.0 L362.0,1102.4 L363.5,1103.7 L365.0,1105.0 L366.5,1106.1 L368.0,1107.2 L369.5,1108.2 L371.0,1109.2 L372.5,1110.2 L374.0,1111.2 L375.5,1112.2 L377.0,1113.3 L378.5,1114.4 L380.0,1115.5 L381.5,1116.7 L383.0,1118.0 L384.5,1119.3 L386.0,1120.6 L387.5,1121.8 L389.0,1123.0 L390.5,1124.2 L392.0,1125.3 L393.5,1126.3 L395.0,1127.3 L396.5,1128.3 L398.0,1129.2 L399.5,1130.1 L401.0,1131.0 L402.5,1131.9 L404.0,1132.7 L405.5,1133.4 L407.0,1134.1 L408.5,1134.7 L410.0,1135.3 L411.5,1135.9 L413.0,1136.4 L414.5,1137.0 L416.0,1137.5 L417.5,1137.9 L419.0,1138.4 L420.5,1138.8 L422.0,1139.2 L423.5,1139.6 L425.0,1139.9 L426.5,1140.3 L428.0,1140.6 L429.5,1140.9 L431.0,1141.2 L432.5,1141.5 L434.0,1141.7 L435.5,1141.9 L437.0,1142.0 L438.5,1142.1 L440.0,1142.3 L441.5,1142.4 L443.0,1142.5 L444.5,1142.6 L446.0,1142.7 L447.5,1142.8 L449.0,1142.8 L450.5,1142.9 L452.0,1143.0 L453.5,1143.1 L455.0,1143.2 L456.5,1143.2 L458.0,1143.3 L459.5,1143.4 L461.0,1143.5 L462.5,1143.5 L464.0,1143.6 L465.5,1143.6 L467.0,1143.7 L468.5,1143.7 L470.0,1143.8 L471.5,1143.8 L473.0,1143.9 L474.5,1144.0 L476.0,1144.0 L477.5,1144.1 L479.0,1144.2 L480.5,1144.3 L482.0,1144.4 L483.5,1144.5 L485.0,1144.6 L486.5,1144.8 L488.0,1145.0 L489.5,1145.3 L491.0,1145.6 L492.5,1145.9 L494.0,1146.2 L495.5,1146.6 L497.0,1147.0 L498.5,1147.4 L500.0,1147.8 L501.5,1148.2 L503.0,1148.6 L504.5,1149.1 L506.0,1149.5 L507.5,1150.1 L509.0,1150.6 L510.5,1151.3 L512.0,1151.9 L513.5,1152.6 L515.0,1153.2 L516.5,1154.0 L518.0,1154.7 L519.5,1155.4 L521.0,1156.2 L522.5,1156.9 L524.0,1157.7 L525.5,1158.4 L527.0,1159.2 L528.5,1160.0 L530.0,1160.8 L531.5,1161.7 L533.0,1162.6 L534.5,1163.4 L536.0,1164.3 L537.5,1165.3 L539.0,1166.2 L540.5,1167.1 L542.0,1168.1 L543.5,1169.0 L545.0,1169.9 L546.5,1170.8 L548.0,1171.7 L549.5,1172.6 L551.0,1173.5 L552.5,1174.5 L554.0,1175.5 L555.5,1176.6 L557.0,1177.7 L558.5,1179.0 L560.0,1180.4 L561.5,1182.0 L563.0,1183.9 L564.5,1185.9 L566.0,1187.9 L567.5,1189.9 L569.0,1191.9 L570.5,1193.6 L572.0,1195.3 L573.5,1196.9 L575.0,1198.5 L576.5,1200.1 L578.0,1201.6 L579.5,1203.0 L581.0,1204.2 L582.5,1205.3 L584.0,1206.4 L585.5,1207.5 L587.0,1208.5 L588.5,1209.4 L590.0,1210.3 L591.5,1211.1 L593.0,1211.9 L594.5,1212.6 L596.0,1213.2 L597.5,1213.8 L599.0,1214.4 L600.5,1214.9 L602.0,1215.4 L603.5,1215.9 L605.0,1216.3 L606.5,1216.7 L608.0,1217.0 L609.5,1217.2 L611.0,1217.4 L612.5,1217.6 L614.0,1217.7 L615.5,1217.9 L617.0,1218.0 L618.5,1218.2 L620.0,1218.3 L621.5,1218.4 L623.0,1218.5 L624.5,1218.6 L626.0,1218.7 L627.5,1218.8 L629.0,1218.9 L630.5,1219.0 L632.0,1219.1 L633.5,1219.2 L635.0,1219.3 L636.5,1219.3 L638.0,1219.4 L639.5,1219.5 L641.0,1219.6 L642.5,1219.7 L644.0,1219.8 L645.5,1219.9 L647.0,1220.0 L648.5,1220.1 L650.0,1220.1 L651.5,1220.2 L653.0,1220.3 L654.5,1220.4 L656.0,1220.5 L657.5,1220.6 L659.0,1220.6 L660.5,1220.7 L662.0,1220.8 L663.5,1220.9 L665.0,1220.9 L666.5,1221.0 L668.0,1221.0 L669.5,1221.1 L671.0,1221.2 L672.5,1221.2 L674.0,1221.3 L675.5,1221.3 L677.0,1221.3 L678.5,1221.4 L680.0,1221.4 L681.5,1221.4 L683.0,1221.5 L684.5,1221.5 L686.0,1221.5 L687.5,1221.6 L689.0,1221.6 L690.5,1221.6 L692.0,1221.7 L693.5,1221.7 L695.0,1221.7 L696.5,1221.7 L698.0,1221.8 L699.5,1221.8 L701.0,1221.8 L702.5,1221.9 L704.0,1221.9 L705.5,1221.9 L707.0,1221.9 L708.5,1221.9 L710.0,1222.0 L711.5,1222.0 L713.0,1222.0 L714.5,1222.0 L716.0,1222.1 L717.5,1222.1 L719.0,1222.1 L720.5,1222.1 L722.0,1222.1 L723.5,1222.1 L725.0,1222.1 L726.5,1222.2 L728.0,1222.2 L729.5,1222.2 L731.0,1222.2 L732.5,1222.2 L734.0,1222.2 L735.5,1222.2 L737.0,1222.2" fill="none" stroke="#fbb77c" stroke-width="2.4" stroke-linejoin="round" stroke-linecap="round"/>
<path d="M21.5,1015.1 L23.0,1015.3 L24.5,1015.5 L26.0,1015.6 L27.5,1015.8 L29.0,1016.0 L30.5,1016.2 L32.0,1016.4 L33.5,1016.5 L35.0,1016.7 L36.5,1016.9 L38.0,1017.1 L39.5,1017.3 L41.0,1017.5 L42.5,1017.7 L44.0,1017.9 L45.5,1018.1 L47.0,1018.2 L48.5,1018.4 L50.0,1018.6 L51.5,1018.8 L53.0,1019.0 L54.5,1019.1 L56.0,1019.3 L57.5,1019.5 L59.0,1019.6 L60.5,1019.8 L62.0,1020.0 L63.5,1020.1 L65.0,1020.3 L66.5,1020.5 L68.0,1020.6 L69.5,1020.8 L71.0,1020.9 L72.5,1021.1 L74.0,1021.3 L75.5,1021.4 L77.0,1021.5 L78.5,1021.7 L80.0,1021.8 L81.5,1021.9 L83.0,1022.1 L84.5,1022.2 L86.0,1022.3 L87.5,1022.4 L89.0,1022.5 L90.5,1022.6 L92.0,1022.6 L93.5,1022.7 L95.0,1022.8 L96.5,1022.9 L98.0,1022.9 L99.5,1023.0 L101.0,1023.1 L102.5,1023.1 L104.0,1023.2 L105.5,1023.3 L107.0,1023.3 L108.5,1023.4 L110.0,1023.5 L111.5,1023.5 L113.0,1023.6 L114.5,1023.7 L116.0,1023.7 L117.5,1023.8 L119.0,1023.9 L120.5,1024.0 L122.0,1024.1 L123.5,1024.2 L125.0,1024.3 L126.5,1024.4 L128.0,1024.5 L129.5,1024.6 L131.0,1024.7 L132.5,1024.8 L134.0,1025.0 L135.5,1025.1 L137.0,1025.3 L138.5,1025.4 L140.0,1025.6 L141.5,1025.8 L143.0,1026.0 L144.5,1026.2 L146.0,1026.4 L147.5,1026.6 L149.0,1026.9 L150.5,1027.2 L152.0,1027.6 L153.5,1028.0 L155.0,1028.6 L156.5,1029.1 L158.0,1029.7 L159.5,1030.4 L161.0,1031.0 L162.5,1031.6 L164.0,1032.3 L165.5,1033.0 L167.0,1033.8 L168.5,1034.6 L170.0,1035.4 L171.5,1036.3 L173.0,1037.1 L174.5,1037.8 L176.0,1038.5 L177.5,1039.0 L179.0,1039.6 L180.5,1040.1 L182.0,1040.7 L183.5,1041.2 L185.0,1041.7 L186.5,1042.1 L188.0,1042.5 L189.5,1042.9 L191.0,1043.2 L192.5,1043.5 L194.0,1043.7 L195.5,1043.9 L197.0,1044.1 L198.5,1044.2 L200.0,1044.4 L201.5,1044.6 L203.0,1044.7 L204.5,1044.9 L206.0,1045.0 L207.5,1045.1 L209.0,1045.3 L210.5,1045.4 L212.0,1045.5 L213.5,1045.6 L215.0,1045.6 L216.5,1045.7 L218.0,1045.8 L219.5,1045.8 L221.0,1045.9 L222.5,1045.9 L224.0,1045.9 L225.5,1045.9 L227.0,1045.9 L228.5,1045.9 L230.0,1045.9 L231.5,1045.9 L233.0,1045.9 L234.5,1045.9 L236.0,1045.9 L237.5,1045.9 L239.0,1045.9 L240.5,1045.9 L242.0,1045.9 L243.5,1045.9 L245.0,1045.9 L246.5,1045.9 L248.0,1045.9 L249.5,1045.9 L251.0,1045.9 L252.5,1045.9 L254.0,1045.9 L255.5,1046.0 L257.0,1046.1 L258.5,1046.2 L260.0,1046.3 L261.5,1046.5 L263.0,1046.7 L264.5,1046.9 L266.0,1047.1 L267.5,1047.4 L269.0,1047.6 L270.5,1047.9 L272.0,1048.2 L273.5,1048.4 L275.0,1048.7 L276.5,1049.0 L278.0,1049.4 L279.5,1049.8 L281.0,1050.2 L282.5,1050.7 L284.0,1051.2 L285.5,1051.7 L287.0,1052.2 L288.5,1052.7 L290.0,1053.3 L291.5,1053.8 L293.0,1054.4 L294.5,1054.9 L296.0,1055.5 L297.5,1056.0 L299.0,1056.6 L300.5,1057.2 L302.0,1057.7 L303.5,1058.3 L305.0,1058.9 L306.5,1059.5 L308.0,1060.2 L309.5,1060.8 L311.0,1061.4 L312.5,1062.1 L314.0,1062.8 L315.5,1063.5 L317.0,1064.2 L318.5,1064.9 L320.0,1065.6 L321.5,1066.4 L323.0,1067.1 L324.5,1067.9 L326.0,1068.7 L327.5,1069.5 L329.0,1070.4 L330.5,1071.3 L332.0,1072.2 L333.5,1073.2 L335.0,1074.2 L336.5,1075.3 L338.0,1076.5 L339.5,1077.8 L341.0,1079.3 L342.5,1080.8 L344.0,1082.4 L345.5,1084.1 L347.0,1085.7 L348.5,1087.3 L350.0,1088.9 L351.5,1090.4 L353.0,1092.0 L354.5,1093.6 L356.0,1095.1 L357.5,1096.7 L359.0,1098.3 L360.5,1099.8 L362.0,1101.2 L363.5,1102.5 L365.0,1103.8 L366.5,1104.9 L368.0,1106.0 L369.5,1107.0 L371.0,1108.0 L372.5,1109.0 L374.0,1110.0 L375.5,1111.0 L377.0,1112.1 L378.5,1113.2 L380.0,1114.3 L381.5,1115.5 L383.0,1116.8 L384.5,1118.1 L386.0,1119.4 L387.5,1120.6 L389.0,1121.8 L390.5,1123.0 L392.0,1124.1 L393.5,1125.1 L395.0,1126.1 L396.5,1127.1 L398.0,1128.0 L399.5,1128.9 L401.0,1129.8 L402.5,1130.7 L404.0,1131.5 L405.5,1132.2 L407.0,1132.9 L408.5,1133.5 L410.0,1134.1 L411.5,1134.7 L413.0,1135.2 L414.5,1135.8 L416.0,1136.3 L417.5,1136.7 L419.0,1137.2 L420.5,1137.6 L422.0,1138.0 L423.5,1138.4 L425.0,1138.7 L426.5,1139.1 L428.0,1139.4 L429.5,1139.7 L431.0,1140.0 L432.5,1140.3 L434.0,1140.5 L435.5,1140.7 L437.0,1140.8 L438.5,1140.9 L440.0,1141.1 L441.5,1141.2 L443.0,1141.3 L444.5,1141.4 L446.0,1141.5 L447.5,1141.6 L449.0,1141.6 L450.5,1141.7 L452.0,1141.8 L453.5,1141.9 L455.0,1142.0 L456.5,1142.0 L458.0,1142.1 L459.5,1142.2 L461.0,1142.3 L462.5,1142.3 L464.0,1142.4 L465.5,1142.4 L467.0,1142.5 L468.5,1142.5 L470.0,1142.6 L471.5,1142.6 L473.0,1142.7 L474.5,1142.8 L476.0,1142.8 L477.5,1142.9 L479.0,1143.0 L480.5,1143.1 L482.0,1143.2 L483.5,1143.3 L485.0,1143.4 L486.5,1143.6 L488.0,1143.8 L489.5,1144.1 L491.0,1144.4 L492.5,1144.7 L494.0,1145.0 L495.5,1145.4 L497.0,1145.8 L498.5,1146.2 L500.0,1146.6 L501.5,1147.0 L503.0,1147.4 L504.5,1147.9 L506.0,1148.3 L507.5,1148.9 L509.0,1149.4 L510.5,1150.1 L512.0,1150.7 L513.5,1151.4 L515.0,1152.0 L516.5,1152.8 L518.0,1153.5 L519.5,1154.2 L521.0,1155.0 L522.5,1155.7 L524.0,1156.5 L525.5,1157.2 L527.0,1158.0 L528.5,1158.8 L530.0,1159.6 L531.5,1160.5 L533.0,1161.4 L534.5,1162.2 L536.0,1163.1 L537.5,1164.1 L539.0,1165.0 L540.5,1165.9 L542.0,1166.9 L543.5,1167.8 L545.0,1168.7 L546.5,1169.6 L548.0,1170.5 L549.5,1171.4 L551.0,1172.3 L552.5,1173.3 L554.0,1174.3 L555.5,1175.4 L557.0,1176.5 L558.5,1177.8 L560.0,1179.2 L561.5,1180.8 L563.0,1182.7 L564.5,1184.7 L566.0,1186.7 L567.5,1188.7 L569.0,1190.7 L570.5,1192.4 L572.0,1194.1 L573.5,1195.7 L575.0,1197.3 L576.5,1198.9 L578.0,1200.4 L579.5,1201.8 L581.0,1203.0 L582.5,1204.1 L584.0,1205.2 L585.5,1206.3 L587.0,1207.3 L588.5,1208.2 L590.0,1209.1 L591.5,1209.9 L593.0,1210.7 L594.5,1211.4 L596.0,1212.0 L597.5,1212.6 L599.0,1213.2 L600.5,1213.7 L602.0,1214.2 L603.5,1214.7 L605.0,1215.1 L606.5,1215.5 L608.0,1215.8 L609.5,1216.0 L611.0,1216.2 L612.5,1216.4 L614.0,1216.5 L615.5,1216.7 L617.0,1216.8 L618.5,1217.0 L620.0,1217.1 L621.5,1217.2 L623.0,1217.3 L624.5,1217.4 L626.0,1217.5 L627.5,1217.6 L629.0,1217.7 L630.5,1217.8 L632.0,1217.9 L633.5,1218.0 L635.0,1218.1 L636.5,1218.1 L638.0,1218.2 L639.5,1218.3 L641.0,1218.4 L642.5,1218.5 L644.0,1218.6 L645.5,1218.7 L647.0,1218.8 L648.5,1218.9 L650.0,1218.9 L651.5,1219.0 L653.0,1219.1 L654.5,1219.2 L656.0,1219.3 L657.5,1219.4 L659.0,1219.4 L660.5,1219.5 L662.0,1219.6 L663.5,1219.7 L665.0,1219.7 L666.5,1219.8 L668.0,1219.8 L669.5,1219.9 L671.0,1220.0 L672.5,1220.0 L674.0,1220.1 L675.5,1220.1 L677.0,1220.1 L678.5,1220.2 L680.0,1220.2 L681.5,1220.2 L683.0,1220.3 L684.5,1220.3 L686.0,1220.3 L687.5,1220.4 L689.0,1220.4 L690.5,1220.4 L692.0,1220.5 L693.5,1220.5 L695.0,1220.5 L696.5,1220.5 L698.0,1220.6 L699.5,1220.6 L701.0,1220.6 L702.5,1220.7 L704.0,1220.7 L705.5,1220.7 L707.0,1220.7 L708.5,1220.7 L710.0,1220.8 L711.5,1220.8 L713.0,1220.8 L714.5,1220.8 L716.0,1220.9 L717.5,1220.9 L719.0,1220.9 L720.5,1220.9 L722.0,1220.9 L723.5,1220.9 L725.0,1220.9 L726.5,1221.0 L728.0,1221.0 L729.5,1221.0 L731.0,1221.0 L732.5,1221.0 L734.0,1221.0 L735.5,1221.0 L737.0,1221.0" fill="none" stroke="#8a8a8a" stroke-width="3.0" stroke-linejoin="round" stroke-linecap="round"/>
<path d="M21.5,1012.4 L23.0,1012.5 L24.5,1012.6 L26.0,1012.6 L27.5,1012.6 L29.0,1012.5 L30.5,1012.3 L32.0,1012.1 L33.5,1011.8 L35.0,1011.4 L36.5,1011.0 L38.0,1010.6 L39.5,1010.2 L41.0,1009.8 L42.5,1009.5 L44.0,1009.2 L45.5,1009.1 L47.0,1009.2 L48.5,1009.3 L50.0,1009.7 L51.5,1010.2 L53.0,1010.8 L54.5,1011.6 L56.0,1012.4 L57.5,1013.3 L59.0,1014.2 L60.5,1015.0 L62.0,1015.7 L63.5,1016.3 L65.0,1016.7 L66.5,1016.9 L68.0,1016.9 L69.5,1016.7 L71.0,1016.5 L72.5,1016.4 L74.0,1016.4 L75.5,1016.7 L77.0,1017.2 L78.5,1017.9 L80.0,1018.7 L81.5,1019.6 L83.0,1020.4 L84.5,1020.9 L86.0,1021.3 L87.5,1021.5 L89.0,1021.5 L90.5,1021.2 L92.0,1020.8 L93.5,1020.3 L95.0,1019.6 L96.5,1018.9 L98.0,1018.2 L99.5,1017.4 L101.0,1016.7 L102.5,1016.0 L104.0,1015.5 L105.5,1015.2 L107.0,1015.0 L108.5,1015.1 L110.0,1015.3 L111.5,1015.7 L113.0,1016.3 L114.5,1016.9 L116.0,1017.6 L117.5,1018.3 L119.0,1018.9 L120.5,1019.5 L122.0,1019.9 L123.5,1020.3 L125.0,1020.6 L126.5,1020.7 L128.0,1020.7 L129.5,1020.6 L131.0,1020.3 L132.5,1019.9 L134.0,1019.4 L135.5,1018.8 L137.0,1018.0 L138.5,1017.0 L140.0,1015.9 L141.5,1014.5 L143.0,1012.9 L144.5,1011.0 L146.0,1008.7 L147.5,1005.9 L149.0,1002.8 L150.5,999.1 L152.0,994.9 L153.5,990.3 L155.0,985.0 L156.5,979.2 L158.0,972.9 L159.5,966.1 L161.0,958.9 L162.5,951.6 L164.0,944.3 L165.5,937.5 L167.0,931.4 L168.5,926.5 L170.0,923.2 L171.5,921.8 L173.0,922.5 L174.5,925.2 L176.0,929.8 L177.5,935.8 L179.0,943.0 L180.5,950.9 L182.0,959.2 L183.5,967.5 L185.0,975.5 L186.5,983.2 L188.0,990.4 L189.5,996.9 L191.0,1002.8 L192.5,1008.0 L194.0,1012.5 L195.5,1016.5 L197.0,1019.9 L198.5,1022.8 L200.0,1025.2 L201.5,1027.3 L203.0,1029.1 L204.5,1030.6 L206.0,1031.9 L207.5,1033.0 L209.0,1033.9 L210.5,1034.7 L212.0,1035.4 L213.5,1036.0 L215.0,1036.5 L216.5,1036.9 L218.0,1037.3 L219.5,1037.6 L221.0,1037.9 L222.5,1038.1 L224.0,1038.3 L225.5,1038.4 L227.0,1038.5 L228.5,1038.6 L230.0,1038.6 L231.5,1038.6 L233.0,1038.6 L234.5,1038.5 L236.0,1038.4 L237.5,1038.3 L239.0,1038.1 L240.5,1037.9 L242.0,1037.6 L243.5,1037.3 L245.0,1036.9 L246.5,1036.5 L248.0,1036.0 L249.5,1035.4 L251.0,1034.7 L252.5,1034.0 L254.0,1033.2 L255.5,1032.3 L257.0,1031.3 L258.5,1030.3 L260.0,1029.2 L261.5,1028.0 L263.0,1026.7 L264.5,1025.2 L266.0,1023.7 L267.5,1022.0 L269.0,1020.0 L270.5,1017.8 L272.0,1015.4 L273.5,1012.5 L275.0,1009.3 L276.5,1005.7 L278.0,1001.8 L279.5,997.5 L281.0,992.9 L282.5,988.0 L284.0,982.8 L285.5,977.5 L287.0,972.1 L288.5,966.8 L290.0,961.6 L291.5,956.6 L293.0,951.9 L294.5,947.7 L296.0,943.9 L297.5,940.9 L299.0,938.6 L300.5,936.9 L302.0,936.0 L303.5,935.7 L305.0,935.9 L306.5,936.6 L308.0,937.6 L309.5,938.8 L311.0,939.8 L312.5,940.3 L314.0,940.3 L315.5,939.8 L317.0,938.9 L318.5,937.5 L320.0,935.6 L321.5,933.1 L323.0,929.9 L324.5,926.1 L326.0,921.6 L327.5,916.6 L329.0,910.9 L330.5,904.9 L332.0,898.4 L333.5,891.7 L335.0,884.8 L336.5,877.8 L338.0,871.0 L339.5,864.4 L341.0,858.0 L342.5,852.0 L344.0,846.5 L345.5,841.4 L347.0,837.1 L348.5,833.6 L350.0,831.3 L351.5,830.4 L353.0,831.4 L354.5,834.6 L356.0,840.1 L357.5,847.8 L359.0,857.5 L360.5,868.8 L362.0,881.0 L363.5,893.7 L365.0,906.2 L366.5,918.0 L368.0,928.8 L369.5,938.1 L371.0,945.6 L372.5,951.2 L374.0,954.8 L375.5,956.2 L377.0,956.0 L378.5,954.3 L380.0,951.5 L381.5,948.0 L383.0,943.9 L384.5,939.6 L386.0,935.4 L387.5,931.4 L389.0,928.1 L390.5,926.2 L392.0,926.4 L393.5,929.1 L395.0,934.2 L396.5,941.2 L398.0,949.3 L399.5,957.8 L401.0,967.2 L402.5,978.1 L404.0,991.2 L405.5,1006.7 L407.0,1023.5 L408.5,1039.8 L410.0,1054.6 L411.5,1067.1 L413.0,1077.5 L414.5,1086.1 L416.0,1093.3 L417.5,1099.3 L419.0,1104.5 L420.5,1108.9 L422.0,1112.8 L423.5,1116.0 L425.0,1118.9 L426.5,1121.3 L428.0,1123.4 L429.5,1125.2 L431.0,1126.8 L432.5,1128.1 L434.0,1129.2 L435.5,1130.1 L437.0,1130.8 L438.5,1131.5 L440.0,1132.0 L441.5,1132.4 L443.0,1132.7 L444.5,1133.0 L446.0,1133.2 L447.5,1133.3 L449.0,1133.3 L450.5,1133.3 L452.0,1133.3 L453.5,1133.1 L455.0,1132.9 L456.5,1132.7 L458.0,1132.4 L459.5,1132.0 L461.0,1131.5 L462.5,1131.0 L464.0,1130.4 L465.5,1129.8 L467.0,1129.1 L468.5,1128.3 L470.0,1127.5 L471.5,1126.5 L473.0,1125.5 L474.5,1124.4 L476.0,1123.2 L477.5,1121.9 L479.0,1120.5 L480.5,1118.8 L482.0,1117.0 L483.5,1114.9 L485.0,1112.6 L486.5,1109.9 L488.0,1106.9 L489.5,1103.4 L491.0,1099.3 L492.5,1094.6 L494.0,1089.3 L495.5,1083.1 L497.0,1076.2 L498.5,1068.4 L500.0,1060.0 L501.5,1050.9 L503.0,1041.3 L504.5,1031.4 L506.0,1021.4 L507.5,1011.4 L509.0,1001.5 L510.5,991.9 L512.0,982.6 L513.5,973.8 L515.0,965.6 L516.5,958.1 L518.0,951.5 L519.5,945.9 L521.0,941.7 L522.5,938.7 L524.0,937.1 L525.5,936.6 L527.0,937.0 L528.5,937.8 L530.0,938.8 L531.5,939.5 L533.0,939.7 L534.5,939.5 L536.0,938.7 L537.5,937.7 L539.0,936.3 L540.5,934.7 L542.0,932.6 L543.5,930.0 L545.0,926.7 L546.5,922.8 L548.0,918.3 L549.5,913.3 L551.0,907.8 L552.5,901.8 L554.0,895.2 L555.5,887.9 L557.0,879.8 L558.5,870.8 L560.0,860.8 L561.5,849.9 L563.0,838.1 L564.5,825.4 L566.0,812.2 L567.5,798.7 L569.0,785.5 L570.5,773.0 L572.0,762.2 L573.5,753.7 L575.0,748.2 L576.5,745.6 L578.0,745.4 L579.5,747.4 L581.0,752.1 L582.5,761.0 L584.0,775.3 L585.5,796.4 L587.0,824.7 L588.5,857.2 L590.0,891.0 L591.5,924.1 L593.0,955.4 L594.5,984.5 L596.0,1011.3 L597.5,1035.9 L599.0,1058.2 L600.5,1078.0 L602.0,1095.3 L603.5,1110.1 L605.0,1122.5 L606.5,1132.7 L608.0,1140.8 L609.5,1147.3 L611.0,1152.4 L612.5,1156.3 L614.0,1159.5 L615.5,1162.0 L617.0,1164.1 L618.5,1166.0 L620.0,1167.7 L621.5,1169.3 L623.0,1170.9 L624.5,1172.6 L626.0,1174.3 L627.5,1176.2 L629.0,1178.2 L630.5,1180.3 L632.0,1182.5 L633.5,1184.8 L635.0,1187.2 L636.5,1189.5 L638.0,1191.8 L639.5,1193.9 L641.0,1195.9 L642.5,1197.6 L644.0,1199.2 L645.5,1200.6 L647.0,1201.8 L648.5,1202.9 L650.0,1203.8 L651.5,1204.7 L653.0,1205.4 L654.5,1206.2 L656.0,1206.9 L657.5,1207.5 L659.0,1208.2 L660.5,1208.9 L662.0,1209.6 L663.5,1210.2 L665.0,1210.9 L666.5,1211.5 L668.0,1212.1 L669.5,1212.7 L671.0,1213.3 L672.5,1213.8 L674.0,1214.3 L675.5,1214.7 L677.0,1215.1 L678.5,1215.5 L680.0,1215.8 L681.5,1216.0 L683.0,1216.3 L684.5,1216.5 L686.0,1216.7 L687.5,1216.9 L689.0,1217.1 L690.5,1217.3 L692.0,1217.5 L693.5,1217.7 L695.0,1217.9 L696.5,1218.1 L698.0,1218.2 L699.5,1218.4 L701.0,1218.5 L702.5,1218.7 L704.0,1218.8 L705.5,1218.9 L707.0,1219.0 L708.5,1219.1 L710.0,1219.2 L711.5,1219.3 L713.0,1219.4 L714.5,1219.4 L716.0,1219.5 L717.5,1219.6 L719.0,1219.7 L720.5,1219.7 L722.0,1219.8 L723.5,1219.8 L725.0,1219.9 L726.5,1219.9 L728.0,1220.0 L729.5,1220.0 L731.0,1220.1 L732.5,1220.1 L734.0,1220.1 L735.5,1220.2 L737.0,1220.2" fill="none" stroke="#1fa38a" stroke-width="2.0" stroke-linejoin="round" stroke-linecap="round" stroke-dasharray="0.01 4.3"/>
<path d="M21.5,1013.2 L23.0,1013.4 L24.5,1013.7 L26.0,1014.0 L27.5,1014.3 L29.0,1014.7 L30.5,1015.0 L32.0,1015.3 L33.5,1015.7 L35.0,1016.0 L36.5,1016.3 L38.0,1016.6 L39.5,1016.9 L41.0,1017.2 L42.5,1017.5 L44.0,1017.8 L45.5,1018.1 L47.0,1018.4 L48.5,1018.6 L50.0,1018.9 L51.5,1019.2 L53.0,1019.4 L54.5,1019.7 L56.0,1019.9 L57.5,1020.1 L59.0,1020.3 L60.5,1020.6 L62.0,1020.8 L63.5,1021.0 L65.0,1021.2 L66.5,1021.4 L68.0,1021.6 L69.5,1021.7 L71.0,1021.9 L72.5,1022.1 L74.0,1022.3 L75.5,1022.4 L77.0,1022.6 L78.5,1022.7 L80.0,1022.8 L81.5,1022.9 L83.0,1023.0 L84.5,1023.1 L86.0,1023.2 L87.5,1023.3 L89.0,1023.3 L90.5,1023.4 L92.0,1023.4 L93.5,1023.4 L95.0,1023.5 L96.5,1023.5 L98.0,1023.5 L99.5,1023.5 L101.0,1023.5 L102.5,1023.4 L104.0,1023.4 L105.5,1023.4 L107.0,1023.3 L108.5,1023.3 L110.0,1023.2 L111.5,1023.2 L113.0,1023.1 L114.5,1023.0 L116.0,1022.9 L117.5,1022.8 L119.0,1022.7 L120.5,1022.6 L122.0,1022.4 L123.5,1022.3 L125.0,1022.1 L126.5,1021.9 L128.0,1021.6 L129.5,1021.3 L131.0,1020.9 L132.5,1020.4 L134.0,1019.8 L135.5,1019.1 L137.0,1018.3 L138.5,1017.4 L140.0,1016.2 L141.5,1014.8 L143.0,1013.2 L144.5,1011.3 L146.0,1009.0 L147.5,1006.2 L149.0,1003.1 L150.5,999.4 L152.0,995.2 L153.5,990.6 L155.0,985.3 L156.5,979.5 L158.0,973.2 L159.5,966.4 L161.0,959.2 L162.5,951.9 L164.0,944.6 L165.5,937.8 L167.0,931.7 L168.5,926.8 L170.0,923.5 L171.5,922.1 L173.0,922.8 L174.5,925.5 L176.0,930.1 L177.5,936.1 L179.0,943.3 L180.5,951.2 L182.0,959.5 L183.5,967.8 L185.0,975.8 L186.5,983.5 L188.0,990.7 L189.5,997.2 L191.0,1003.1 L192.5,1008.3 L194.0,1012.8 L195.5,1016.8 L197.0,1020.2 L198.5,1023.1 L200.0,1025.5 L201.5,1027.6 L203.0,1029.4 L204.5,1030.9 L206.0,1032.2 L207.5,1033.3 L209.0,1034.2 L210.5,1035.0 L212.0,1035.7 L213.5,1036.3 L215.0,1036.8 L216.5,1037.2 L218.0,1037.6 L219.5,1037.9 L221.0,1038.2 L222.5,1038.4 L224.0,1038.6 L225.5,1038.7 L227.0,1038.8 L228.5,1038.9 L230.0,1038.9 L231.5,1038.9 L233.0,1038.9 L234.5,1038.8 L236.0,1038.7 L237.5,1038.6 L239.0,1038.4 L240.5,1038.3 L242.0,1038.1 L243.5,1037.8 L245.0,1037.5 L246.5,1037.2 L248.0,1036.9 L249.5,1036.5 L251.0,1036.1 L252.5,1035.6 L254.0,1035.1 L255.5,1034.5 L257.0,1033.9 L258.5,1033.3 L260.0,1032.6 L261.5,1031.8 L263.0,1030.9 L264.5,1029.8 L266.0,1028.6 L267.5,1027.2 L269.0,1025.6 L270.5,1023.7 L272.0,1021.5 L273.5,1019.0 L275.0,1016.2 L276.5,1013.0 L278.0,1009.5 L279.5,1005.7 L281.0,1001.5 L282.5,996.9 L284.0,992.0 L285.5,986.8 L287.0,981.4 L288.5,975.7 L290.0,970.0 L291.5,964.3 L293.0,958.7 L294.5,953.4 L296.0,948.6 L297.5,944.4 L299.0,940.9 L300.5,938.4 L302.0,936.7 L303.5,935.8 L305.0,935.4 L306.5,935.5 L308.0,935.8 L309.5,936.4 L311.0,937.1 L312.5,937.5 L314.0,937.9 L315.5,938.0 L317.0,937.7 L318.5,936.9 L320.0,935.4 L321.5,933.2 L323.0,930.2 L324.5,926.4 L326.0,922.0 L327.5,916.9 L329.0,911.3 L330.5,905.2 L332.0,898.7 L333.5,892.0 L335.0,885.1 L336.5,878.1 L338.0,871.3 L339.5,864.7 L341.0,858.3 L342.5,852.3 L344.0,846.8 L345.5,841.7 L347.0,837.4 L348.5,833.9 L350.0,831.6 L351.5,830.7 L353.0,831.7 L354.5,834.9 L356.0,840.4 L357.5,848.1 L359.0,857.8 L360.5,869.1 L362.0,881.3 L363.5,894.0 L365.0,906.5 L366.5,918.3 L368.0,929.1 L369.5,938.4 L371.0,945.9 L372.5,951.5 L374.0,955.1 L375.5,956.5 L377.0,956.3 L378.5,954.6 L380.0,951.8 L381.5,948.3 L383.0,944.2 L384.5,939.9 L386.0,935.7 L387.5,931.7 L389.0,928.4 L390.5,926.5 L392.0,926.7 L393.5,929.5 L395.0,935.3 L396.5,943.9 L398.0,955.1 L399.5,968.0 L401.0,982.0 L402.5,996.3 L404.0,1010.6 L405.5,1024.3 L407.0,1037.2 L408.5,1049.3 L410.0,1060.3 L411.5,1070.2 L413.0,1079.1 L414.5,1086.9 L416.0,1093.7 L417.5,1099.7 L419.0,1104.8 L420.5,1109.2 L422.0,1113.1 L423.5,1116.3 L425.0,1119.2 L426.5,1121.6 L428.0,1123.7 L429.5,1125.5 L431.0,1127.1 L432.5,1128.4 L434.0,1129.5 L435.5,1130.4 L437.0,1131.1 L438.5,1131.8 L440.0,1132.3 L441.5,1132.7 L443.0,1133.0 L444.5,1133.3 L446.0,1133.5 L447.5,1133.6 L449.0,1133.6 L450.5,1133.6 L452.0,1133.6 L453.5,1133.4 L455.0,1133.2 L456.5,1133.0 L458.0,1132.7 L459.5,1132.3 L461.0,1131.8 L462.5,1131.3 L464.0,1130.7 L465.5,1130.1 L467.0,1129.4 L468.5,1128.6 L470.0,1127.8 L471.5,1126.8 L473.0,1125.8 L474.5,1124.7 L476.0,1123.5 L477.5,1122.2 L479.0,1120.8 L480.5,1119.2 L482.0,1117.4 L483.5,1115.3 L485.0,1113.0 L486.5,1110.5 L488.0,1107.6 L489.5,1104.3 L491.0,1100.6 L492.5,1096.4 L494.0,1091.7 L495.5,1086.4 L497.0,1080.4 L498.5,1073.8 L500.0,1066.5 L501.5,1058.6 L503.0,1050.0 L504.5,1040.7 L506.0,1031.0 L507.5,1020.9 L509.0,1010.6 L510.5,1000.1 L512.0,989.7 L513.5,979.5 L515.0,970.0 L516.5,961.3 L518.0,953.6 L519.5,947.3 L521.0,942.4 L522.5,939.0 L524.0,937.0 L525.5,936.0 L527.0,935.8 L528.5,936.0 L530.0,936.4 L531.5,936.8 L533.0,937.1 L534.5,937.2 L536.0,937.1 L537.5,936.7 L539.0,935.9 L540.5,934.6 L542.0,932.7 L543.5,930.2 L545.0,926.9 L546.5,923.1 L548.0,918.6 L549.5,913.6 L551.0,908.1 L552.5,902.1 L554.0,895.5 L555.5,888.2 L557.0,880.1 L558.5,871.1 L560.0,861.1 L561.5,850.2 L563.0,838.4 L564.5,825.7 L566.0,812.5 L567.5,799.0 L569.0,785.7 L570.5,773.1 L572.0,762.0 L573.5,753.2 L575.0,747.3 L576.5,745.0 L578.0,746.8 L579.5,752.8 L581.0,763.3 L582.5,778.1 L584.0,796.9 L585.5,819.2 L587.0,844.4 L588.5,871.6 L590.0,900.1 L591.5,929.1 L593.0,957.8 L594.5,985.6 L596.0,1011.9 L597.5,1036.3 L599.0,1058.5 L600.5,1078.3 L602.0,1095.6 L603.5,1110.4 L605.0,1122.8 L606.5,1133.0 L608.0,1141.2 L609.5,1147.7 L611.0,1152.8 L612.5,1156.9 L614.0,1160.1 L615.5,1162.8 L617.0,1165.2 L618.5,1167.4 L620.0,1169.5 L621.5,1171.5 L623.0,1173.5 L624.5,1175.5 L626.0,1177.5 L627.5,1179.5 L629.0,1181.4 L630.5,1183.4 L632.0,1185.3 L633.5,1187.3 L635.0,1189.3 L636.5,1191.2 L638.0,1193.1 L639.5,1194.9 L641.0,1196.6 L642.5,1198.3 L644.0,1199.7 L645.5,1201.0 L647.0,1202.2 L648.5,1203.2 L650.0,1204.1 L651.5,1205.0 L653.0,1205.7 L654.5,1206.5 L656.0,1207.2 L657.5,1207.8 L659.0,1208.5 L660.5,1209.2 L662.0,1209.9 L663.5,1210.5 L665.0,1211.2 L666.5,1211.8 L668.0,1212.4 L669.5,1213.0 L671.0,1213.6 L672.5,1214.1 L674.0,1214.6 L675.5,1215.0 L677.0,1215.4 L678.5,1215.8 L680.0,1216.1 L681.5,1216.3 L683.0,1216.6 L684.5,1216.8 L686.0,1217.0 L687.5,1217.2 L689.0,1217.4 L690.5,1217.6 L692.0,1217.8 L693.5,1218.0 L695.0,1218.2 L696.5,1218.4 L698.0,1218.5 L699.5,1218.7 L701.0,1218.8 L702.5,1219.0 L704.0,1219.1 L705.5,1219.2 L707.0,1219.3 L708.5,1219.4 L710.0,1219.5 L711.5,1219.6 L713.0,1219.7 L714.5,1219.7 L716.0,1219.8 L717.5,1219.9 L719.0,1220.0 L720.5,1220.0 L722.0,1220.1 L723.5,1220.1 L725.0,1220.2 L726.5,1220.2 L728.0,1220.3 L729.5,1220.3 L731.0,1220.4 L732.5,1220.4 L734.0,1220.4 L735.5,1220.5 L737.0,1220.5" fill="none" stroke="#fbb77c" stroke-width="2.3" stroke-linejoin="round" stroke-linecap="round"/>
<path d="M263.0,1041.7 L264.5,1041.6 L266.0,1041.6 L267.5,1041.5 L269.0,1041.5 L270.5,1041.5 L272.0,1041.4 L273.5,1041.4 L275.0,1041.4 L276.5,1041.3 L278.0,1041.4 L279.5,1041.5 L281.0,1041.6 L282.5,1041.7 L284.0,1041.8 L285.5,1042.0 L287.0,1042.1 L288.5,1042.2 L290.0,1042.3 L291.5,1042.3 L293.0,1042.3 L294.5,1042.1 L296.0,1041.8 L297.5,1041.4 L299.0,1040.8 L300.5,1040.1 L302.0,1039.1 L303.5,1037.9 L305.0,1036.4 L306.5,1034.6 L308.0,1032.5 L309.5,1030.1 L311.0,1027.3 L312.5,1024.1 L314.0,1020.6 L315.5,1016.7 L317.0,1012.5 L318.5,1008.0 L320.0,1003.3 L321.5,998.4 L323.0,993.4 L324.5,988.4 L326.0,983.6 L327.5,978.9 L329.0,974.7 L330.5,970.9 L332.0,967.8 L333.5,965.5 L335.0,964.0 L336.5,963.5 L338.0,964.1 L339.5,965.9 L341.0,968.8 L342.5,972.8 L344.0,977.7 L345.5,983.4 L347.0,989.8 L348.5,996.6 L350.0,1003.7 L351.5,1011.1 L353.0,1018.6 L354.5,1026.2 L356.0,1033.6 L357.5,1040.9 L359.0,1047.9 L360.5,1054.6 L362.0,1060.8 L363.5,1066.5 L365.0,1071.7 L366.5,1076.3 L368.0,1080.5 L369.5,1084.1 L371.0,1087.3 L372.5,1090.1 L374.0,1092.5 L375.5,1094.6 L377.0,1096.4 L378.5,1098.0 L380.0,1099.3 L381.5,1100.6 L383.0,1101.7 L384.5,1102.6 L386.0,1103.5 L387.5,1104.3 L389.0,1105.0 L390.5,1105.7 L392.0,1106.4 L393.5,1107.0 L395.0,1107.7 L396.5,1108.5 L398.0,1109.4 L399.5,1110.4 L401.0,1111.5 L402.5,1112.7 L404.0,1114.0 L405.5,1115.3 L407.0,1116.6 L408.5,1118.0 L410.0,1119.5 L411.5,1121.0 L413.0,1122.4 L414.5,1123.9 L416.0,1125.3 L417.5,1126.7 L419.0,1128.0 L420.5,1129.2 L422.0,1130.3 L423.5,1131.3 L425.0,1132.3 L426.5,1133.2 L428.0,1134.0 L429.5,1134.6 L431.0,1135.2 L432.5,1135.7 L434.0,1136.1 L435.5,1136.4 L437.0,1136.6 L438.5,1136.7 L440.0,1136.8 L441.5,1136.8 L443.0,1136.8 L444.5,1136.8 L446.0,1136.7 L447.5,1136.6 L449.0,1136.5 L450.5,1136.3 L452.0,1136.1 L453.5,1135.9 L455.0,1135.7 L456.5,1135.5 L458.0,1135.2 L459.5,1135.0 L461.0,1134.7 L462.5,1134.4 L464.0,1134.1 L465.5,1133.8 L467.0,1133.4 L468.5,1133.1 L470.0,1132.8 L471.5,1132.4 L473.0,1132.1 L474.5,1131.8 L476.0,1131.5 L477.5,1131.2 L479.0,1130.9 L480.5,1130.6 L482.0,1130.4 L483.5,1130.2 L485.0,1130.0 L486.5,1129.9 L488.0,1129.8 L489.5,1129.8 L491.0,1129.8 L492.5,1129.9 L494.0,1130.0 L495.5,1130.1 L497.0,1130.2 L498.5,1130.4 L500.0,1130.5 L501.5,1130.7 L503.0,1130.8 L504.5,1130.9 L506.0,1130.9 L507.5,1130.9 L509.0,1130.8 L510.5,1130.5 L512.0,1130.1 L513.5,1129.5 L515.0,1128.7 L516.5,1127.5 L518.0,1126.0 L519.5,1124.1 L521.0,1121.7 L522.5,1118.7 L524.0,1115.2 L525.5,1111.1 L527.0,1106.4 L528.5,1101.1 L530.0,1095.2 L531.5,1088.7 L533.0,1081.6 L534.5,1074.1 L536.0,1066.2 L537.5,1058.0 L539.0,1049.7 L540.5,1041.4 L542.0,1033.3 L543.5,1025.6 L545.0,1018.4 L546.5,1012.1 L548.0,1006.8 L549.5,1002.8 L551.0,1000.3 L552.5,999.4 L554.0,1000.2 L555.5,1002.7 L557.0,1007.0 L558.5,1012.8 L560.0,1020.2 L561.5,1028.9 L563.0,1038.8 L564.5,1049.6 L566.0,1060.9 L567.5,1072.4 L569.0,1084.0 L570.5,1095.3 L572.0,1106.3 L573.5,1116.9 L575.0,1127.0 L576.5,1136.5 L578.0,1145.3 L579.5,1153.3 L581.0,1160.6 L582.5,1167.1 L584.0,1172.8 L585.5,1177.9 L587.0,1182.3 L588.5,1186.0 L590.0,1189.1 L591.5,1191.7 L593.0,1193.6 L594.5,1195.0 L596.0,1196.0 L597.5,1196.5 L599.0,1196.6 L600.5,1196.4 L602.0,1195.9 L603.5,1195.1 L605.0,1194.0 L606.5,1192.8 L608.0,1191.4 L609.5,1189.9 L611.0,1188.4 L612.5,1187.0 L614.0,1185.7 L615.5,1184.7 L617.0,1183.9 L618.5,1183.4 L620.0,1183.3 L621.5,1183.6 L623.0,1184.2 L624.5,1185.2 L626.0,1186.5 L627.5,1188.1 L629.0,1189.9 L630.5,1191.9 L632.0,1194.0 L633.5,1196.2 L635.0,1198.3 L636.5,1200.4 L638.0,1202.5 L639.5,1204.4 L641.0,1206.2 L642.5,1207.9 L644.0,1209.4 L645.5,1210.7 L647.0,1211.9 L648.5,1212.9 L650.0,1213.8 L651.5,1214.5 L653.0,1215.2 L654.5,1215.7 L656.0,1216.2 L657.5,1216.5 L659.0,1216.9 L660.5,1217.1 L662.0,1217.4 L663.5,1217.6 L665.0,1217.7 L666.5,1217.9 L668.0,1218.0 L669.5,1218.1 L671.0,1218.2 L672.5,1218.3 L674.0,1218.4 L675.5,1218.5 L677.0,1218.6 L678.5,1218.7 L680.0,1218.7 L681.5,1218.8 L683.0,1218.8 L684.5,1218.9 L686.0,1218.9 L687.5,1219.0 L689.0,1219.1" fill="none" stroke="#2ea3e3" stroke-width="2.4" stroke-linejoin="round" stroke-linecap="round"/>
<path d="M21.5,1013.6 L26.0,1014.1 L30.5,1014.7 L35.0,1015.2 L39.5,1015.8 L44.0,1016.4 L48.5,1016.9 L53.0,1017.5 L57.5,1018.0 L62.0,1018.5 L66.5,1019.0 L71.0,1019.4 L75.5,1019.9 L80.0,1020.3 L84.5,1020.7 L89.0,1021.0 L93.5,1021.2 L98.0,1021.4 L102.5,1021.6 L107.0,1021.8 L111.5,1022.0 L116.0,1022.2 L120.5,1022.5 L125.0,1022.8 L129.5,1023.1 L134.0,1023.5 L138.5,1023.9 L143.0,1024.5 L147.5,1025.1 L152.0,1026.1 L156.5,1027.6 L161.0,1029.5 L165.5,1031.5 L170.0,1033.9 L174.5,1036.3 L179.0,1038.1 L183.5,1039.7 L188.0,1041.0 L192.5,1042.0 L197.0,1042.6 L201.5,1043.1 L206.0,1043.5 L210.5,1043.9 L215.0,1044.1 L219.5,1044.3 L224.0,1044.4 L228.5,1044.4 L233.0,1044.4 L237.5,1044.4 L242.0,1044.4 L246.5,1044.4 L251.0,1044.4 L255.5,1044.5 L260.0,1044.8 L264.5,1045.4 L269.0,1046.1 L273.5,1046.9 L278.0,1047.9 L282.5,1049.2 L287.0,1050.7 L291.5,1052.3 L296.0,1054.0" fill="none" stroke="#c4509f" stroke-width="2.2" stroke-linejoin="round" stroke-linecap="round"/>
<path d="M66.5,1018.5 L68.0,1018.7 L69.5,1018.8 L71.0,1018.9 L72.5,1019.0 L74.0,1019.2 L75.5,1019.3 L77.0,1019.4 L78.5,1019.5 L80.0,1019.6 L81.5,1019.7 L83.0,1019.7 L84.5,1019.8 L86.0,1019.9 L87.5,1019.9 L89.0,1020.0 L90.5,1020.0 L92.0,1020.0 L93.5,1020.0 L95.0,1020.1 L96.5,1020.1 L98.0,1020.1 L99.5,1020.1 L101.0,1020.0 L102.5,1020.0 L104.0,1020.0 L105.5,1020.0 L107.0,1019.9 L108.5,1019.9 L110.0,1019.8 L111.5,1019.8 L113.0,1019.7 L114.5,1019.6 L116.0,1019.5 L117.5,1019.5 L119.0,1019.4 L120.5,1019.3 L122.0,1019.1 L123.5,1019.0 L125.0,1018.8 L126.5,1018.7 L128.0,1018.5 L129.5,1018.2 L131.0,1017.9 L132.5,1017.6 L134.0,1017.2 L135.5,1016.7 L137.0,1016.1 L138.5,1015.4 L140.0,1014.6 L141.5,1013.5 L143.0,1012.1 L144.5,1010.5 L146.0,1008.5 L147.5,1006.2 L149.0,1003.3 L150.5,1000.0 L152.0,996.2 L153.5,991.8 L155.0,986.9 L156.5,981.4 L158.0,975.3 L159.5,968.8 L161.0,962.0 L162.5,954.9 L164.0,947.8 L165.5,941.1 L167.0,935.3 L168.5,930.5 L170.0,927.3 L171.5,926.0 L173.0,926.7 L174.5,929.5 L176.0,934.0 L177.5,940.1 L179.0,947.3 L180.5,955.1 L182.0,963.4 L183.5,971.6 L185.0,979.6 L186.5,987.3 L188.0,994.4 L189.5,1000.8 L191.0,1006.7 L192.5,1011.8 L194.0,1016.3 L195.5,1020.1 L197.0,1023.4 L198.5,1026.2 L200.0,1028.6 L201.5,1030.6 L203.0,1032.3 L204.5,1033.8 L206.0,1035.0 L207.5,1036.0 L209.0,1036.8 L210.5,1037.6 L212.0,1038.2 L213.5,1038.8 L215.0,1039.2 L216.5,1039.7 L218.0,1040.0 L219.5,1040.4 L221.0,1040.7 L222.5,1040.9 L224.0,1041.2 L225.5,1041.3 L227.0,1041.5 L228.5,1041.7 L230.0,1041.9 L231.5,1042.0 L233.0,1042.1 L234.5,1042.3 L236.0,1042.4 L237.5,1042.5 L239.0,1042.6 L240.5,1042.7 L242.0,1042.8 L243.5,1042.9 L245.0,1042.9 L246.5,1043.0 L248.0,1043.1 L249.5,1043.2 L251.0,1043.2 L252.5,1043.3 L254.0,1043.4 L255.5,1043.5 L257.0,1043.6 L258.5,1043.8 L260.0,1044.0 L261.5,1044.2 L263.0,1044.4 L264.5,1044.7 L266.0,1044.9 L267.5,1045.2 L269.0,1045.5 L270.5,1045.8 L272.0,1046.1 L273.5,1046.4 L275.0,1046.7 L276.5,1047.0 L278.0,1047.4" fill="none" stroke="#c4509f" stroke-width="2.1" stroke-linejoin="round" stroke-linecap="round"/>
<path d="M198.5,1042.3 L200.0,1042.4 L201.5,1042.6 L203.0,1042.7 L204.5,1042.8 L206.0,1042.9 L207.5,1043.0 L209.0,1043.1 L210.5,1043.2 L212.0,1043.2 L213.5,1043.3 L215.0,1043.3 L216.5,1043.4 L218.0,1043.4 L219.5,1043.4 L221.0,1043.3 L222.5,1043.3 L224.0,1043.3 L225.5,1043.2 L227.0,1043.1 L228.5,1043.1 L230.0,1043.0 L231.5,1042.9 L233.0,1042.8 L234.5,1042.8 L236.0,1042.7 L237.5,1042.6 L239.0,1042.4 L240.5,1042.3 L242.0,1042.2 L243.5,1042.1 L245.0,1041.9 L246.5,1041.8 L248.0,1041.6 L249.5,1041.4 L251.0,1041.2 L252.5,1040.9 L254.0,1040.7 L255.5,1040.4 L257.0,1040.1 L258.5,1039.8 L260.0,1039.4 L261.5,1039.0 L263.0,1038.4 L264.5,1037.8 L266.0,1037.0 L267.5,1036.0 L269.0,1034.9 L270.5,1033.5 L272.0,1031.8 L273.5,1029.8 L275.0,1027.5 L276.5,1024.9 L278.0,1021.9 L279.5,1018.6 L281.0,1015.0 L282.5,1011.1 L284.0,1006.8 L285.5,1002.3 L287.0,997.6 L288.5,992.7 L290.0,987.8 L291.5,983.0 L293.0,978.4 L294.5,974.3 L296.0,970.7 L297.5,967.9 L299.0,966.1 L300.5,965.4 L302.0,965.8 L303.5,967.5 L305.0,970.2 L306.5,974.0 L308.0,978.6 L309.5,983.9 L311.0,989.6 L312.5,995.5 L314.0,1001.7 L315.5,1007.8 L317.0,1013.8 L318.5,1019.6 L320.0,1025.1 L321.5,1030.3 L323.0,1035.2 L324.5,1039.7 L326.0,1043.9 L327.5,1047.7 L329.0,1051.3 L330.5,1054.5 L332.0,1057.4 L333.5,1060.1 L335.0,1062.6 L336.5,1064.9 L338.0,1067.2 L339.5,1069.4 L341.0,1071.6 L342.5,1073.8 L344.0,1075.9 L345.5,1078.0 L347.0,1080.1 L348.5,1082.0 L350.0,1083.9 L351.5,1085.6 L353.0,1087.4 L354.5,1089.2 L356.0,1091.0 L357.5,1092.7 L359.0,1094.4 L360.5,1096.0 L362.0,1097.6 L363.5,1099.1 L365.0,1100.4 L366.5,1101.7 L368.0,1102.8 L369.5,1104.0 L371.0,1105.0 L372.5,1106.1 L374.0,1107.2 L375.5,1108.2 L377.0,1109.3 L378.5,1110.5 L380.0,1111.7 L381.5,1113.0 L383.0,1114.3 L384.5,1115.7 L386.0,1117.0 L387.5,1118.3 L389.0,1119.5 L390.5,1120.7 L392.0,1121.9 L393.5,1122.9 L395.0,1124.0 L396.5,1125.0 L398.0,1126.0 L399.5,1126.9 L401.0,1127.8 L402.5,1128.7 L404.0,1129.5 L405.5,1130.3" fill="none" stroke="#c4509f" stroke-width="2.1" stroke-linejoin="round" stroke-linecap="round"/>
<path d="M242.0,1044.0 L243.5,1043.9 L245.0,1043.9 L246.5,1043.9 L248.0,1043.8 L249.5,1043.8 L251.0,1043.8 L252.5,1043.8 L254.0,1043.7 L255.5,1043.8 L257.0,1043.8 L258.5,1043.9 L260.0,1044.0 L261.5,1044.1 L263.0,1044.3 L264.5,1044.5 L266.0,1044.6 L267.5,1044.8 L269.0,1045.0 L270.5,1045.2 L272.0,1045.5 L273.5,1045.7 L275.0,1045.9 L276.5,1046.1 L278.0,1046.4 L279.5,1046.7 L281.0,1047.1 L282.5,1047.4 L284.0,1047.8 L285.5,1048.2 L287.0,1048.7 L288.5,1049.1 L290.0,1049.6 L291.5,1050.0 L293.0,1050.4 L294.5,1050.8 L296.0,1051.2 L297.5,1051.6 L299.0,1052.0 L300.5,1052.3 L302.0,1052.7 L303.5,1053.1 L305.0,1053.4 L306.5,1053.8 L308.0,1054.1 L309.5,1054.4 L311.0,1054.7 L312.5,1055.0 L314.0,1055.2 L315.5,1055.3 L317.0,1055.4 L318.5,1055.3 L320.0,1055.0 L321.5,1054.6 L323.0,1054.0 L324.5,1053.0 L326.0,1051.7 L327.5,1050.0 L329.0,1047.8 L330.5,1045.1 L332.0,1041.7 L333.5,1037.6 L335.0,1032.8 L336.5,1027.3 L338.0,1021.0 L339.5,1014.1 L341.0,1006.6 L342.5,998.6 L344.0,990.2 L345.5,981.6 L347.0,973.1 L348.5,965.0 L350.0,957.6 L351.5,951.6 L353.0,947.4 L354.5,945.3 L356.0,945.8 L357.5,948.8 L359.0,954.3 L360.5,961.8 L362.0,971.0 L363.5,981.4 L365.0,992.5 L366.5,1003.8 L368.0,1015.1 L369.5,1026.1 L371.0,1036.6 L372.5,1046.5 L374.0,1055.6 L375.5,1063.9 L377.0,1071.5 L378.5,1078.3 L380.0,1084.4 L381.5,1089.9 L383.0,1094.7 L384.5,1098.9 L386.0,1102.7 L387.5,1106.0 L389.0,1108.9 L390.5,1111.4 L392.0,1113.6 L393.5,1115.6 L395.0,1117.3 L396.5,1119.0 L398.0,1120.5 L399.5,1121.9 L401.0,1123.2 L402.5,1124.4 L404.0,1125.5 L405.5,1126.5 L407.0,1127.4 L408.5,1128.3 L410.0,1129.1 L411.5,1129.9 L413.0,1130.6 L414.5,1131.3 L416.0,1132.0 L417.5,1132.6 L419.0,1133.2 L420.5,1133.7 L422.0,1134.2 L423.5,1134.8 L425.0,1135.2 L426.5,1135.7 L428.0,1136.1 L429.5,1136.5 L431.0,1136.9 L432.5,1137.2 L434.0,1137.5 L435.5,1137.7 L437.0,1138.0 L438.5,1138.2 L440.0,1138.3 L441.5,1138.5 L443.0,1138.7 L444.5,1138.8 L446.0,1139.0 L447.5,1139.1 L449.0,1139.2 L450.5,1139.4 L452.0,1139.5 L453.5,1139.6 L455.0,1139.7 L456.5,1139.8 L458.0,1139.9 L459.5,1140.0 L461.0,1140.1 L462.5,1140.2 L464.0,1140.3 L465.5,1140.4 L467.0,1140.5 L468.5,1140.6 L470.0,1140.6" fill="none" stroke="#c4509f" stroke-width="2.1" stroke-linejoin="round" stroke-linecap="round"/>
<path d="M261.5,1044.6 L263.0,1044.7 L264.5,1044.9 L266.0,1045.1 L267.5,1045.3 L269.0,1045.6 L270.5,1045.8 L272.0,1046.1 L273.5,1046.3 L275.0,1046.5 L276.5,1046.8 L278.0,1047.1 L279.5,1047.5 L281.0,1047.9 L282.5,1048.3 L284.0,1048.8 L285.5,1049.3 L287.0,1049.8 L288.5,1050.3 L290.0,1050.8 L291.5,1051.3 L293.0,1051.8 L294.5,1052.3 L296.0,1052.8 L297.5,1053.3 L299.0,1053.8 L300.5,1054.3 L302.0,1054.8 L303.5,1055.3 L305.0,1055.8 L306.5,1056.4 L308.0,1056.9 L309.5,1057.5 L311.0,1058.1 L312.5,1058.6 L314.0,1059.2 L315.5,1059.8 L317.0,1060.4 L318.5,1061.0 L320.0,1061.6 L321.5,1062.3 L323.0,1062.9 L324.5,1063.5 L326.0,1064.1 L327.5,1064.8 L329.0,1065.5 L330.5,1066.2 L332.0,1066.9 L333.5,1067.7 L335.0,1068.5 L336.5,1069.4 L338.0,1070.3 L339.5,1071.4 L341.0,1072.5 L342.5,1073.8 L344.0,1075.0 L345.5,1076.3 L347.0,1077.5 L348.5,1078.6 L350.0,1079.7 L351.5,1080.6 L353.0,1081.5 L354.5,1082.3 L356.0,1083.0 L357.5,1083.6 L359.0,1084.0 L360.5,1084.0 L362.0,1083.8 L363.5,1083.1 L365.0,1081.8 L366.5,1080.0 L368.0,1077.5 L369.5,1074.2 L371.0,1070.1 L372.5,1065.0 L374.0,1059.0 L375.5,1051.9 L377.0,1043.9 L378.5,1034.8 L380.0,1024.8 L381.5,1014.1 L383.0,1002.9 L384.5,991.6 L386.0,980.5 L387.5,970.4 L389.0,962.1 L390.5,956.2 L392.0,953.5 L393.5,954.4 L395.0,958.9 L396.5,966.8 L398.0,977.2 L399.5,989.3 L401.0,1002.5 L402.5,1016.0 L404.0,1029.2 L405.5,1041.9 L407.0,1053.8 L408.5,1064.6 L410.0,1074.5 L411.5,1083.2 L413.0,1090.8 L414.5,1097.4 L416.0,1103.1 L417.5,1107.9 L419.0,1112.0 L420.5,1115.5 L422.0,1118.4 L423.5,1120.8 L425.0,1122.9 L426.5,1124.7 L428.0,1126.2 L429.5,1127.6 L431.0,1128.7 L432.5,1129.7 L434.0,1130.6 L435.5,1131.4 L437.0,1132.1 L438.5,1132.7 L440.0,1133.2 L441.5,1133.7 L443.0,1134.2 L444.5,1134.6 L446.0,1135.0 L447.5,1135.4 L449.0,1135.7 L450.5,1136.0 L452.0,1136.3 L453.5,1136.6 L455.0,1136.9 L456.5,1137.2 L458.0,1137.4 L459.5,1137.6 L461.0,1137.8 L462.5,1138.0 L464.0,1138.2 L465.5,1138.4 L467.0,1138.6 L468.5,1138.7 L470.0,1138.9 L471.5,1139.1 L473.0,1139.2 L474.5,1139.4 L476.0,1139.5 L477.5,1139.7 L479.0,1139.8 L480.5,1140.0 L482.0,1140.2 L483.5,1140.3 L485.0,1140.5 L486.5,1140.8 L488.0,1141.0 L489.5,1141.3 L491.0,1141.7 L492.5,1142.0 L494.0,1142.4 L495.5,1142.8 L497.0,1143.3 L498.5,1143.7 L500.0,1144.2 L501.5,1144.6 L503.0,1145.1 L504.5,1145.6 L506.0,1146.1 L507.5,1146.6 L509.0,1147.2 L510.5,1147.9 L512.0,1148.5 L513.5,1149.2 L515.0,1150.0 L516.5,1150.7 L518.0,1151.4 L519.5,1152.2 L521.0,1153.0 L522.5,1153.8 L524.0,1154.5" fill="none" stroke="#c4509f" stroke-width="2.1" stroke-linejoin="round" stroke-linecap="round"/>
<path d="M381.5,1113.6 L383.0,1114.8 L384.5,1116.1 L386.0,1117.3 L387.5,1118.6 L389.0,1119.8 L390.5,1120.9 L392.0,1122.0 L393.5,1123.0 L395.0,1123.9 L396.5,1124.9 L398.0,1125.8 L399.5,1126.7 L401.0,1127.6 L402.5,1128.4 L404.0,1129.1 L405.5,1129.8 L407.0,1130.5 L408.5,1131.1 L410.0,1131.6 L411.5,1132.2 L413.0,1132.7 L414.5,1133.2 L416.0,1133.6 L417.5,1134.0 L419.0,1134.4 L420.5,1134.8 L422.0,1135.1 L423.5,1135.5 L425.0,1135.8 L426.5,1136.1 L428.0,1136.4 L429.5,1136.6 L431.0,1136.8 L432.5,1137.0 L434.0,1137.1 L435.5,1137.2 L437.0,1137.3 L438.5,1137.3 L440.0,1137.4 L441.5,1137.4 L443.0,1137.4 L444.5,1137.4 L446.0,1137.3 L447.5,1137.3 L449.0,1137.3 L450.5,1137.2 L452.0,1137.1 L453.5,1137.1 L455.0,1137.0 L456.5,1136.9 L458.0,1136.8 L459.5,1136.6 L461.0,1136.5 L462.5,1136.3 L464.0,1136.1 L465.5,1135.9 L467.0,1135.6 L468.5,1135.3 L470.0,1135.0 L471.5,1134.7 L473.0,1134.2 L474.5,1133.7 L476.0,1133.2 L477.5,1132.5 L479.0,1131.7 L480.5,1130.8 L482.0,1129.7 L483.5,1128.3 L485.0,1126.8 L486.5,1124.9 L488.0,1122.8 L489.5,1120.3 L491.0,1117.3 L492.5,1113.9 L494.0,1110.0 L495.5,1105.4 L497.0,1100.3 L498.5,1094.5 L500.0,1088.1 L501.5,1081.1 L503.0,1073.5 L504.5,1065.3 L506.0,1056.8 L507.5,1048.0 L509.0,1039.0 L510.5,1030.1 L512.0,1021.5 L513.5,1013.5 L515.0,1006.3 L516.5,1000.3 L518.0,995.8 L519.5,993.0 L521.0,992.2 L522.5,993.4 L524.0,996.7 L525.5,1001.8 L527.0,1008.5 L528.5,1016.6 L530.0,1025.7 L531.5,1035.6 L533.0,1045.8 L534.5,1056.3 L536.0,1066.6 L537.5,1076.8 L539.0,1086.5 L540.5,1095.8 L542.0,1104.5 L543.5,1112.6 L545.0,1120.0 L546.5,1126.8 L548.0,1132.9 L549.5,1138.4 L551.0,1143.4 L552.5,1147.8 L554.0,1151.9 L555.5,1155.5 L557.0,1158.9 L558.5,1162.0 L560.0,1164.9 L561.5,1167.9 L563.0,1170.9 L564.5,1173.8 L566.0,1176.7 L567.5,1179.4 L569.0,1181.9 L570.5,1184.2 L572.0,1186.3 L573.5,1188.4 L575.0,1190.3 L576.5,1192.2 L578.0,1194.0 L579.5,1195.6 L581.0,1197.1 L582.5,1198.5 L584.0,1199.8 L585.5,1201.0 L587.0,1202.2 L588.5,1203.3 L590.0,1204.4 L591.5,1205.3 L593.0,1206.2 L594.5,1207.1 L596.0,1207.8 L597.5,1208.5 L599.0,1209.2 L600.5,1209.9 L602.0,1210.5 L603.5,1211.0 L605.0,1211.5 L606.5,1212.0 L608.0,1212.4 L609.5,1212.7 L611.0,1213.0 L612.5,1213.2 L614.0,1213.4 L615.5,1213.7 L617.0,1213.9 L618.5,1214.1 L620.0,1214.2 L621.5,1214.4 L623.0,1214.6 L624.5,1214.7 L626.0,1214.9 L627.5,1215.0 L629.0,1215.1 L630.5,1215.3 L632.0,1215.4 L633.5,1215.5 L635.0,1215.6 L636.5,1215.8 L638.0,1215.9 L639.5,1216.0 L641.0,1216.1 L642.5,1216.3 L644.0,1216.4 L645.5,1216.5 L647.0,1216.6 L648.5,1216.7 L650.0,1216.8 L651.5,1216.9 L653.0,1217.1 L654.5,1217.2 L656.0,1217.3 L657.5,1217.4 L659.0,1217.5 L660.5,1217.6" fill="none" stroke="#c4509f" stroke-width="2.1" stroke-linejoin="round" stroke-linecap="round"/>
<path d="M513.5,1149.5 L515.0,1150.1 L516.5,1150.8 L518.0,1151.5 L519.5,1152.1 L521.0,1152.8 L522.5,1153.5 L524.0,1154.2 L525.5,1154.9 L527.0,1155.6 L528.5,1156.2 L530.0,1156.9 L531.5,1157.6 L533.0,1158.2 L534.5,1158.7 L536.0,1159.2 L537.5,1159.5 L539.0,1159.6 L540.5,1159.3 L542.0,1158.8 L543.5,1157.6 L545.0,1155.9 L546.5,1153.3 L548.0,1149.7 L549.5,1145.0 L551.0,1138.8 L552.5,1131.1 L554.0,1121.6 L555.5,1110.2 L557.0,1096.7 L558.5,1081.1 L560.0,1063.5 L561.5,1044.0 L563.0,1022.9 L564.5,1000.5 L566.0,977.1 L567.5,953.2 L569.0,929.6 L570.5,906.8 L572.0,885.8 L573.5,867.4 L575.0,852.5 L576.5,841.8 L578.0,835.6 L579.5,834.4 L581.0,838.2 L582.5,847.0 L584.0,860.4 L585.5,878.0 L587.0,899.0 L588.5,922.6 L590.0,948.0 L591.5,974.4 L593.0,1001.1 L594.5,1027.2 L596.0,1052.3 L597.5,1075.8 L599.0,1097.5 L600.5,1117.1 L602.0,1134.4 L603.5,1149.5 L605.0,1162.4 L606.5,1173.3 L608.0,1182.3 L609.5,1189.6 L611.0,1195.4 L612.5,1200.1 L614.0,1203.7 L615.5,1206.6 L617.0,1208.7 L618.5,1210.4 L620.0,1211.7 L621.5,1212.6 L623.0,1213.4 L624.5,1213.9 L626.0,1214.4 L627.5,1214.7 L629.0,1215.0 L630.5,1215.2 L632.0,1215.4 L633.5,1215.6 L635.0,1215.8 L636.5,1215.9 L638.0,1216.1 L639.5,1216.2 L641.0,1216.4 L642.5,1216.5 L644.0,1216.7 L645.5,1216.8" fill="none" stroke="#c4509f" stroke-width="2.1" stroke-linejoin="round" stroke-linecap="round"/>
<rect x="775.3499999999999" y="94.64999999999999" width="723.9" height="1167.9" fill="none" stroke="#000" stroke-width="4.1"/>
<line x1="773.3" y1="679.2" x2="1501.2" y2="679.2" stroke="#000" stroke-width="4"/>
<text transform="translate(773.8,85.3) scale(0.95,1.08)" font-size="32.5" font-family="'Liberation Serif','Times New Roman',serif" letter-spacing="1.2">O1s</text>
<text transform="translate(1425,89.2) scale(0.98,1)" font-size="110" font-family="'Noto Sans CJK SC','Liberation Sans',sans-serif" font-weight="500" stroke="#000" stroke-width="1">b</text>
<text x="790" y="145.6" font-size="41.3" text-anchor="start" font-family="'Liberation Serif','Times New Roman',serif">Deionized water</text>
<text x="789.8" y="727.8" font-size="41" text-anchor="start" font-family="'Liberation Serif','Times New Roman',serif">Fluoride solution</text>
<line x1="848.3" y1="1261" x2="848.3" y2="1251" stroke="#000" stroke-width="3.4"/>
<line x1="993.0" y1="1261" x2="993.0" y2="1251" stroke="#000" stroke-width="3.4"/>
<line x1="1137.7" y1="1261" x2="1137.7" y2="1251" stroke="#000" stroke-width="3.4"/>
<line x1="1282.4" y1="1261" x2="1282.4" y2="1251" stroke="#000" stroke-width="3.4"/>
<line x1="1427.1" y1="1261" x2="1427.1" y2="1251" stroke="#000" stroke-width="3.4"/>
<line x1="920.65" y1="1261" x2="920.65" y2="1257" stroke="#000" stroke-width="3.4"/>
<line x1="1065.35" y1="1261" x2="1065.35" y2="1257" stroke="#000" stroke-width="3.4"/>
<line x1="1210.05" y1="1261" x2="1210.05" y2="1257" stroke="#000" stroke-width="3.4"/>
<line x1="1354.75" y1="1261" x2="1354.75" y2="1257" stroke="#000" stroke-width="3.4"/>
<text x="848.3" y="1295" font-size="24.5" text-anchor="middle" font-family="'Liberation Serif','Times New Roman',serif">545</text>
<text x="993.0" y="1295" font-size="24.5" text-anchor="middle" font-family="'Liberation Serif','Times New Roman',serif">540</text>
<text x="1137.7" y="1295" font-size="24.5" text-anchor="middle" font-family="'Liberation Serif','Times New Roman',serif">535</text>
<text x="1282.4" y="1295" font-size="24.5" text-anchor="middle" font-family="'Liberation Serif','Times New Roman',serif">530</text>
<text x="1427.1" y="1295" font-size="24.5" text-anchor="middle" font-family="'Liberation Serif','Times New Roman',serif">525</text>
<text x="1136.5" y="1324" font-size="30.4" text-anchor="middle" font-family="'Liberation Serif','Times New Roman',serif">Binding Energy (E) (eV)</text>
<line x1="1351.4" y1="115.5" x2="1395.2" y2="115.5" stroke="#1fa38a" stroke-width="3.4" stroke-dasharray="0.01 8.6" stroke-linecap="round"/>
<text x="1399.5" y="121.6" font-size="19.3" text-anchor="start" font-family="'Liberation Serif','Times New Roman',serif" stroke="#000" stroke-width="0.35">Actual Data</text>
<line x1="1351.3" y1="139" x2="1393.6000000000001" y2="139" stroke="#fbb77c" stroke-width="3.2" stroke-linecap="round"/>
<text x="1399.5" y="145.1" font-size="19.3" text-anchor="start" font-family="'Liberation Serif','Times New Roman',serif" stroke="#000" stroke-width="0.35">Fitted Data</text>
<line x1="1351.3" y1="165.5" x2="1393.6000000000001" y2="165.5" stroke="#c94fa0" stroke-width="3.2" stroke-linecap="round"/>
<text x="1399.5" y="171.6" font-size="19.3" text-anchor="start" font-family="'Liberation Serif','Times New Roman',serif" stroke="#000" stroke-width="0.35">Ce<tspan font-size="0.72em" dy="-0.5em">4+</tspan><tspan dy="0.36em" font-size="1em">&#8203;</tspan>-O<tspan font-size="0.72em" dy="-0.5em">2-</tspan><tspan dy="0.36em" font-size="1em">&#8203;</tspan></text>
<line x1="1351.3" y1="192.5" x2="1393.6000000000001" y2="192.5" stroke="#2ea3e3" stroke-width="3.2" stroke-linecap="round"/>
<text x="1399.5" y="198.6" font-size="19.3" text-anchor="start" font-family="'Liberation Serif','Times New Roman',serif" stroke="#000" stroke-width="0.35">Ce<tspan font-size="0.72em" dy="-0.5em">3+</tspan><tspan dy="0.36em" font-size="1em">&#8203;</tspan>-O<tspan font-size="0.72em" dy="-0.5em">2-</tspan><tspan dy="0.36em" font-size="1em">&#8203;</tspan></text>
<line x1="1351.3" y1="216.8" x2="1393.6000000000001" y2="216.8" stroke="#b5d6ad" stroke-width="3.2" stroke-linecap="round"/>
<text x="1399.5" y="222.9" font-size="19.3" text-anchor="start" font-family="'Liberation Serif','Times New Roman',serif" stroke="#000" stroke-width="0.35">C=O</text>
<line x1="1351.3" y1="240.5" x2="1393.6000000000001" y2="240.5" stroke="#65806f" stroke-width="3.2" stroke-linecap="round"/>
<text x="1399.5" y="246.6" font-size="19.3" text-anchor="start" font-family="'Liberation Serif','Times New Roman',serif" stroke="#000" stroke-width="0.35">C-O</text>
<line x1="1351.3" y1="264.7" x2="1393.6000000000001" y2="264.7" stroke="#5a5a5a" stroke-width="3.2" stroke-linecap="round"/>
<text x="1399.5" y="270.8" font-size="19.3" text-anchor="start" font-family="'Liberation Serif','Times New Roman',serif" stroke="#000" stroke-width="0.35">Backgnd.</text>
<line x1="1348.4" y1="698.5" x2="1391.7" y2="698.5" stroke="#1fa38a" stroke-width="2.0" stroke-dasharray="0.6 4.4" stroke-linecap="round"/>
<text x="1396.3" y="704.6" font-size="19.3" text-anchor="start" font-family="'Liberation Serif','Times New Roman',serif" stroke="#000" stroke-width="0.35">Actual Data</text>
<line x1="1348.7" y1="723" x2="1390.4" y2="723" stroke="#fbb77c" stroke-width="2.6" stroke-linecap="round"/>
<text x="1396.3" y="729.1" font-size="19.3" text-anchor="start" font-family="'Liberation Serif','Times New Roman',serif" stroke="#000" stroke-width="0.35">Fitted Data</text>
<line x1="1348.7" y1="746.7" x2="1390.4" y2="746.7" stroke="#b5d6ad" stroke-width="2.6" stroke-linecap="round"/>
<text x="1396.3" y="752.8000000000001" font-size="19.3" text-anchor="start" font-family="'Liberation Serif','Times New Roman',serif" stroke="#000" stroke-width="0.35">C=O</text>
<line x1="1348.7" y1="771.1" x2="1390.4" y2="771.1" stroke="#65806f" stroke-width="2.6" stroke-linecap="round"/>
<text x="1396.3" y="777.2" font-size="19.3" text-anchor="start" font-family="'Liberation Serif','Times New Roman',serif" stroke="#000" stroke-width="0.35">C-O</text>
<line x1="1348.7" y1="797.3" x2="1390.4" y2="797.3" stroke="#c94fa0" stroke-width="2.6" stroke-linecap="round"/>
<text x="1396.3" y="803.4" font-size="19.3" text-anchor="start" font-family="'Liberation Serif','Times New Roman',serif" stroke="#000" stroke-width="0.35">Ce<tspan font-size="0.72em" dy="-0.5em">4+</tspan><tspan dy="0.36em" font-size="1em">&#8203;</tspan>-O<tspan font-size="0.72em" dy="-0.5em">2-</tspan><tspan dy="0.36em" font-size="1em">&#8203;</tspan></text>
<line x1="1348.7" y1="824.3" x2="1390.4" y2="824.3" stroke="#2ea3e3" stroke-width="2.6" stroke-linecap="round"/>
<text x="1396.3" y="830.4" font-size="19.3" text-anchor="start" font-family="'Liberation Serif','Times New Roman',serif" stroke="#000" stroke-width="0.35">Ce<tspan font-size="0.72em" dy="-0.5em">3+</tspan><tspan dy="0.36em" font-size="1em">&#8203;</tspan>-O<tspan font-size="0.72em" dy="-0.5em">2</tspan><tspan dy="0.36em" font-size="1em">&#8203;</tspan></text>
<line x1="1348.7" y1="848.5" x2="1390.4" y2="848.5" stroke="#5a5a5a" stroke-width="2.6" stroke-linecap="round"/>
<text x="1396.3" y="854.6" font-size="19.3" text-anchor="start" font-family="'Liberation Serif','Times New Roman',serif" stroke="#000" stroke-width="0.35">Backgnd.</text>
<path d="M823.5,520.0 L825.0,520.2 L826.5,520.4 L828.0,520.6 L829.5,520.8 L831.0,520.9 L832.5,521.1 L834.0,521.3 L835.5,521.5 L837.0,521.7 L838.5,521.9 L840.0,522.1 L841.5,522.3 L843.0,522.5 L844.5,522.7 L846.0,522.9 L847.5,523.1 L849.0,523.3 L850.5,523.5 L852.0,523.7 L853.5,523.9 L855.0,524.1 L856.5,524.3 L858.0,524.6 L859.5,524.8 L861.0,525.0 L862.5,525.2 L864.0,525.5 L865.5,525.7 L867.0,525.9 L868.5,526.2 L870.0,526.4 L871.5,526.7 L873.0,527.0 L874.5,527.2 L876.0,527.5 L877.5,527.8 L879.0,528.1 L880.5,528.4 L882.0,528.7 L883.5,529.0 L885.0,529.4 L886.5,529.8 L888.0,530.1 L889.5,530.5 L891.0,530.9 L892.5,531.3 L894.0,531.7 L895.5,532.1 L897.0,532.5 L898.5,532.9 L900.0,533.3 L901.5,533.7 L903.0,534.1 L904.5,534.6 L906.0,535.0 L907.5,535.4 L909.0,535.8 L910.5,536.2 L912.0,536.6 L913.5,537.0 L915.0,537.4 L916.5,537.8 L918.0,538.2 L919.5,538.5 L921.0,538.9 L922.5,539.2 L924.0,539.6 L925.5,539.9 L927.0,540.2 L928.5,540.5 L930.0,540.8 L931.5,541.2 L933.0,541.5 L934.5,541.8 L936.0,542.1 L937.5,542.4 L939.0,542.7 L940.5,543.0 L942.0,543.3 L943.5,543.6 L945.0,543.9 L946.5,544.2 L948.0,544.5 L949.5,544.8 L951.0,545.1 L952.5,545.4 L954.0,545.6 L955.5,545.9 L957.0,546.2 L958.5,546.4 L960.0,546.7 L961.5,546.9 L963.0,547.2 L964.5,547.4 L966.0,547.6 L967.5,547.9 L969.0,548.1 L970.5,548.3 L972.0,548.5 L973.5,548.7 L975.0,548.9 L976.5,549.1 L978.0,549.2 L979.5,549.4 L981.0,549.6 L982.5,549.8 L984.0,549.9 L985.5,550.1 L987.0,550.3 L988.5,550.4 L990.0,550.6 L991.5,550.7 L993.0,550.8 L994.5,550.9 L996.0,551.0 L997.5,551.1 L999.0,551.2 L1000.5,551.2 L1002.0,551.3 L1003.5,551.3 L1005.0,551.3 L1006.5,551.4 L1008.0,551.4 L1009.5,551.4 L1011.0,551.5 L1012.5,551.5 L1014.0,551.5 L1015.5,551.5 L1017.0,551.6 L1018.5,551.6 L1020.0,551.6 L1021.5,551.6 L1023.0,551.6 L1024.5,551.7 L1026.0,551.7 L1027.5,551.7 L1029.0,551.7 L1030.5,551.7 L1032.0,551.7 L1033.5,551.8 L1035.0,551.8 L1036.5,551.8 L1038.0,551.8 L1039.5,551.8 L1041.0,551.8 L1042.5,551.9 L1044.0,551.9 L1045.5,551.9 L1047.0,551.9 L1048.5,551.9 L1050.0,551.9 L1051.5,552.0 L1053.0,552.0 L1054.5,552.0 L1056.0,552.0 L1057.5,552.1 L1059.0,552.1 L1060.5,552.1 L1062.0,552.1 L1063.5,552.2 L1065.0,552.2 L1066.5,552.2 L1068.0,552.2 L1069.5,552.3 L1071.0,552.3 L1072.5,552.3 L1074.0,552.4 L1075.5,552.4 L1077.0,552.4 L1078.5,552.4 L1080.0,552.5 L1081.5,552.5 L1083.0,552.5 L1084.5,552.6 L1086.0,552.6 L1087.5,552.6 L1089.0,552.7 L1090.5,552.7 L1092.0,552.7 L1093.5,552.8 L1095.0,552.8 L1096.5,552.8 L1098.0,552.9 L1099.5,552.9 L1101.0,552.9 L1102.5,553.0 L1104.0,553.0 L1105.5,553.1 L1107.0,553.1 L1108.5,553.2 L1110.0,553.2 L1111.5,553.3 L1113.0,553.3 L1114.5,553.4 L1116.0,553.4 L1117.5,553.5 L1119.0,553.6 L1120.5,553.6 L1122.0,553.7 L1123.5,553.8 L1125.0,553.9 L1126.5,554.0 L1128.0,554.1 L1129.5,554.2 L1131.0,554.4 L1132.5,554.5 L1134.0,554.7 L1135.5,554.8 L1137.0,555.0 L1138.5,555.2 L1140.0,555.3 L1141.5,555.5 L1143.0,555.7 L1144.5,555.9 L1146.0,556.1 L1147.5,556.3 L1149.0,556.5 L1150.5,556.7 L1152.0,556.9 L1153.5,557.2 L1155.0,557.5 L1156.5,557.8 L1158.0,558.1 L1159.5,558.4 L1161.0,558.8 L1162.5,559.1 L1164.0,559.5 L1165.5,559.9 L1167.0,560.2 L1168.5,560.6 L1170.0,561.0 L1171.5,561.4 L1173.0,561.8 L1174.5,562.2 L1176.0,562.6 L1177.5,563.0 L1179.0,563.4 L1180.5,563.7 L1182.0,564.1 L1183.5,564.5 L1185.0,564.9 L1186.5,565.3 L1188.0,565.7 L1189.5,566.1 L1191.0,566.4 L1192.5,566.9 L1194.0,567.3 L1195.5,567.7 L1197.0,568.1 L1198.5,568.5 L1200.0,568.9 L1201.5,569.3 L1203.0,569.7 L1204.5,570.2 L1206.0,570.6 L1207.5,571.0 L1209.0,571.4 L1210.5,571.9 L1212.0,572.3 L1213.5,572.7 L1215.0,573.1 L1216.5,573.5 L1218.0,573.9 L1219.5,574.4 L1221.0,574.8 L1222.5,575.2 L1224.0,575.6 L1225.5,576.1 L1227.0,576.5 L1228.5,577.0 L1230.0,577.4 L1231.5,577.9 L1233.0,578.3 L1234.5,578.8 L1236.0,579.3 L1237.5,579.8 L1239.0,580.3 L1240.5,580.9 L1242.0,581.4 L1243.5,582.0 L1245.0,582.6 L1246.5,583.2 L1248.0,583.8 L1249.5,584.5 L1251.0,585.1 L1252.5,585.8 L1254.0,586.4 L1255.5,587.1 L1257.0,587.8 L1258.5,588.5 L1260.0,589.2 L1261.5,589.9 L1263.0,590.5 L1264.5,591.2 L1266.0,591.9 L1267.5,592.5 L1269.0,593.2 L1270.5,593.8 L1272.0,594.5 L1273.5,595.2 L1275.0,595.9 L1276.5,596.6 L1278.0,597.3 L1279.5,598.0 L1281.0,598.7 L1282.5,599.4 L1284.0,600.1 L1285.5,600.8 L1287.0,601.4 L1288.5,602.1 L1290.0,602.7 L1291.5,603.3 L1293.0,603.9 L1294.5,604.5 L1296.0,605.0 L1297.5,605.4 L1299.0,605.9 L1300.5,606.3 L1302.0,606.7 L1303.5,607.1 L1305.0,607.5 L1306.5,607.9 L1308.0,608.3 L1309.5,608.7 L1311.0,609.1 L1312.5,609.4 L1314.0,609.8 L1315.5,610.1 L1317.0,610.4 L1318.5,610.7 L1320.0,611.0 L1321.5,611.2 L1323.0,611.4 L1324.5,611.6 L1326.0,611.8 L1327.5,611.9 L1329.0,612.0 L1330.5,612.1 L1332.0,612.1 L1333.5,612.2 L1335.0,612.2 L1336.5,612.3 L1338.0,612.3 L1339.5,612.4 L1341.0,612.4 L1342.5,612.5 L1344.0,612.5 L1345.5,612.5 L1347.0,612.6 L1348.5,612.6 L1350.0,612.6 L1351.5,612.6 L1353.0,612.6 L1354.5,612.6 L1356.0,612.5 L1357.5,612.3 L1359.0,612.2 L1360.5,611.9 L1362.0,611.6 L1363.5,611.3 L1365.0,611.0 L1366.5,610.7 L1368.0,610.3 L1369.5,610.0 L1371.0,609.7 L1372.5,609.4 L1374.0,609.1 L1375.5,608.8 L1377.0,608.5 L1378.5,608.2 L1380.0,607.9 L1381.5,607.6 L1383.0,607.3 L1384.5,607.0 L1386.0,606.7 L1387.5,606.4 L1389.0,606.0 L1390.5,605.7 L1392.0,605.4 L1393.5,605.1 L1395.0,604.8 L1396.5,604.5 L1398.0,604.2 L1399.5,603.9 L1401.0,603.6 L1402.5,603.3 L1404.0,603.0 L1405.5,602.8" fill="none" stroke="#5a5a5a" stroke-width="2.8" stroke-linejoin="round" stroke-linecap="round"/>
<path d="M1006.5,550.6 L1008.0,550.5 L1009.5,550.4 L1011.0,550.3 L1012.5,550.1 L1014.0,549.9 L1015.5,549.6 L1017.0,549.4 L1018.5,549.1 L1020.0,548.9 L1021.5,548.6 L1023.0,548.4 L1024.5,548.2 L1026.0,547.9 L1027.5,547.7 L1029.0,547.4 L1030.5,547.2 L1032.0,547.0 L1033.5,546.7 L1035.0,546.5 L1036.5,546.2 L1038.0,546.0 L1039.5,545.7 L1041.0,545.5 L1042.5,545.2 L1044.0,544.9 L1045.5,544.6 L1047.0,544.3 L1048.5,544.0 L1050.0,543.7 L1051.5,543.3 L1053.0,542.9 L1054.5,542.5 L1056.0,542.1 L1057.5,541.6 L1059.0,541.2 L1060.5,540.6 L1062.0,540.1 L1063.5,539.6 L1065.0,539.0 L1066.5,538.5 L1068.0,538.0 L1069.5,537.6 L1071.0,537.1 L1072.5,536.8 L1074.0,536.5 L1075.5,536.2 L1077.0,536.1 L1078.5,536.0 L1080.0,535.9 L1081.5,535.9 L1083.0,535.9 L1084.5,536.0 L1086.0,536.0 L1087.5,536.0 L1089.0,536.0 L1090.5,535.9 L1092.0,535.7 L1093.5,535.5 L1095.0,535.2 L1096.5,534.8 L1098.0,534.2 L1099.5,533.6 L1101.0,532.8 L1102.5,531.9 L1104.0,530.9 L1105.5,529.7 L1107.0,528.3 L1108.5,526.8 L1110.0,525.2 L1111.5,523.3 L1113.0,521.2 L1114.5,518.9 L1116.0,516.4 L1117.5,513.7 L1119.0,510.7 L1120.5,507.4 L1122.0,503.9 L1123.5,500.0 L1125.0,495.9 L1126.5,491.5 L1128.0,486.8 L1129.5,481.8 L1131.0,476.4 L1132.5,470.8 L1134.0,464.8 L1135.5,458.5 L1137.0,451.9 L1138.5,445.0 L1140.0,437.8 L1141.5,430.3 L1143.0,422.5 L1144.5,414.5 L1146.0,406.3 L1147.5,397.9 L1149.0,389.4 L1150.5,380.7 L1152.0,371.9 L1153.5,363.1 L1155.0,354.3 L1156.5,345.5 L1158.0,336.8 L1159.5,328.2 L1161.0,319.7 L1162.5,311.4 L1164.0,303.4 L1165.5,295.6 L1167.0,288.2 L1168.5,281.0 L1170.0,274.3 L1171.5,267.9 L1173.0,261.9 L1174.5,256.4 L1176.0,251.3 L1177.5,246.7 L1179.0,242.5 L1180.5,238.8 L1182.0,235.5 L1183.5,232.6 L1185.0,230.2 L1186.5,228.1 L1188.0,226.4 L1189.5,224.9 L1191.0,223.8 L1192.5,222.9 L1194.0,222.2 L1195.5,221.7 L1197.0,221.4 L1198.5,221.3 L1200.0,221.4 L1201.5,221.7 L1203.0,222.1 L1204.5,222.7 L1206.0,223.3 L1207.5,224.0 L1209.0,224.5 L1210.5,225.0 L1212.0,225.3 L1213.5,225.5 L1215.0,225.4 L1216.5,225.1 L1218.0,224.6 L1219.5,223.8 L1221.0,222.9 L1222.5,221.9 L1224.0,220.7 L1225.5,219.4 L1227.0,217.9 L1228.5,216.4 L1230.0,214.8 L1231.5,213.0 L1233.0,211.0 L1234.5,208.8 L1236.0,206.3 L1237.5,203.6 L1239.0,200.5 L1240.5,197.2 L1242.0,193.5 L1243.5,189.4 L1245.0,185.1 L1246.5,180.5 L1248.0,175.6 L1249.5,170.5 L1251.0,165.4 L1252.5,160.2 L1254.0,155.2 L1255.5,150.4 L1257.0,145.9 L1258.5,141.9 L1260.0,138.5 L1261.5,135.9 L1263.0,134.2 L1264.5,133.3 L1266.0,133.4 L1267.5,134.5 L1269.0,136.5 L1270.5,139.5 L1272.0,143.4 L1273.5,148.1 L1275.0,153.5 L1276.5,159.4 L1278.0,165.8 L1279.5,172.4 L1281.0,179.3 L1282.5,186.1 L1284.0,192.9 L1285.5,199.5 L1287.0,206.0 L1288.5,212.3 L1290.0,218.5 L1291.5,224.8 L1293.0,231.3 L1294.5,238.0 L1296.0,245.3 L1297.5,253.3 L1299.0,262.2 L1300.5,272.1 L1302.0,283.2 L1303.5,295.5 L1305.0,309.1 L1306.5,323.8 L1308.0,339.5 L1309.5,356.1 L1311.0,373.4 L1312.5,391.1 L1314.0,409.0 L1315.5,426.8 L1317.0,444.1 L1318.5,460.9 L1320.0,476.9 L1321.5,491.8 L1323.0,505.7 L1324.5,518.4 L1326.0,529.9 L1327.5,540.1 L1329.0,549.2 L1330.5,557.2 L1332.0,564.2 L1333.5,570.2 L1335.0,575.5 L1336.5,580.1 L1338.0,584.1 L1339.5,587.7 L1341.0,590.9 L1342.5,593.8 L1344.0,596.5 L1345.5,599.2 L1347.0,601.9 L1348.5,604.7 L1350.0,607.4 L1351.5,609.6 L1353.0,611.3 L1354.5,612.2 L1356.0,612.4 L1357.5,612.0 L1359.0,611.3 L1360.5,610.2 L1362.0,609.2 L1363.5,608.1 L1365.0,607.0 L1366.5,605.8 L1368.0,604.5 L1369.5,603.2 L1371.0,601.8 L1372.5,600.4 L1374.0,599.1 L1375.5,597.8 L1377.0,596.6 L1378.5,595.6 L1380.0,594.7 L1381.5,594.1 L1383.0,593.6 L1384.5,593.5 L1386.0,593.5 L1387.5,593.8 L1389.0,594.2 L1390.5,594.8 L1392.0,595.4 L1393.5,596.2 L1395.0,597.0 L1396.5,597.7 L1398.0,598.4 L1399.5,599.0 L1401.0,599.5 L1402.5,599.9 L1404.0,600.3 L1405.5,600.5" fill="none" stroke="#1fa38a" stroke-width="2.3" stroke-linejoin="round" stroke-linecap="round" stroke-dasharray="0.01 4.6"/>
<path d="M1009.5,550.7 L1011.0,550.6 L1012.5,550.4 L1014.0,550.2 L1015.5,549.9 L1017.0,549.7 L1018.5,549.4 L1020.0,549.2 L1021.5,548.9 L1023.0,548.7 L1024.5,548.5 L1026.0,548.2 L1027.5,548.0 L1029.0,547.7 L1030.5,547.5 L1032.0,547.3 L1033.5,547.0 L1035.0,546.8 L1036.5,546.5 L1038.0,546.3 L1039.5,546.0 L1041.0,545.8 L1042.5,545.5 L1044.0,545.3 L1045.5,545.0 L1047.0,544.8 L1048.5,544.5 L1050.0,544.3 L1051.5,544.0 L1053.0,543.7 L1054.5,543.5 L1056.0,543.2 L1057.5,542.9 L1059.0,542.7 L1060.5,542.4 L1062.0,542.2 L1063.5,541.9 L1065.0,541.7 L1066.5,541.4 L1068.0,541.2 L1069.5,540.9 L1071.0,540.7 L1072.5,540.5 L1074.0,540.3 L1075.5,540.0 L1077.0,539.8 L1078.5,539.6 L1080.0,539.4 L1081.5,539.1 L1083.0,538.9 L1084.5,538.7 L1086.0,538.4 L1087.5,538.1 L1089.0,537.8 L1090.5,537.5 L1092.0,537.1 L1093.5,536.7 L1095.0,536.2 L1096.5,535.6 L1098.0,534.9 L1099.5,534.2 L1101.0,533.3 L1102.5,532.4 L1104.0,531.3 L1105.5,530.1 L1107.0,528.7 L1108.5,527.2 L1110.0,525.5 L1111.5,523.6 L1113.0,521.5 L1114.5,519.2 L1116.0,516.7 L1117.5,514.0 L1119.0,511.0 L1120.5,507.7 L1122.0,504.2 L1123.5,500.3 L1125.0,496.2 L1126.5,491.8 L1128.0,487.1 L1129.5,482.1 L1131.0,476.7 L1132.5,471.1 L1134.0,465.1 L1135.5,458.8 L1137.0,452.2 L1138.5,445.3 L1140.0,438.1 L1141.5,430.6 L1143.0,422.8 L1144.5,414.8 L1146.0,406.6 L1147.5,398.2 L1149.0,389.7 L1150.5,381.0 L1152.0,372.2 L1153.5,363.4 L1155.0,354.6 L1156.5,345.8 L1158.0,337.1 L1159.5,328.5 L1161.0,320.0 L1162.5,311.7 L1164.0,303.7 L1165.5,295.9 L1167.0,288.5 L1168.5,281.3 L1170.0,274.6 L1171.5,268.2 L1173.0,262.2 L1174.5,256.7 L1176.0,251.6 L1177.5,247.0 L1179.0,242.8 L1180.5,239.1 L1182.0,235.8 L1183.5,232.9 L1185.0,230.5 L1186.5,228.4 L1188.0,226.7 L1189.5,225.2 L1191.0,224.1 L1192.5,223.2 L1194.0,222.5 L1195.5,222.0 L1197.0,221.7 L1198.5,221.6 L1200.0,221.7 L1201.5,222.0 L1203.0,222.4 L1204.5,223.0 L1206.0,223.6 L1207.5,224.3 L1209.0,224.8 L1210.5,225.3 L1212.0,225.6 L1213.5,225.8 L1215.0,225.7 L1216.5,225.4 L1218.0,224.9 L1219.5,224.1 L1221.0,223.2 L1222.5,222.2 L1224.0,221.0 L1225.5,219.7 L1227.0,218.2 L1228.5,216.7 L1230.0,215.1 L1231.5,213.3 L1233.0,211.3 L1234.5,209.1 L1236.0,206.6 L1237.5,203.9 L1239.0,200.8 L1240.5,197.5 L1242.0,193.8 L1243.5,189.7 L1245.0,185.4 L1246.5,180.8 L1248.0,175.9 L1249.5,170.8 L1251.0,165.7 L1252.5,160.5 L1254.0,155.5 L1255.5,150.7 L1257.0,146.2 L1258.5,142.2 L1260.0,138.8 L1261.5,136.2 L1263.0,134.5 L1264.5,133.6 L1266.0,133.7 L1267.5,134.8 L1269.0,136.8 L1270.5,139.8 L1272.0,143.7 L1273.5,148.4 L1275.0,153.8 L1276.5,159.7 L1278.0,166.1 L1279.5,172.7 L1281.0,179.6 L1282.5,186.4 L1284.0,193.2 L1285.5,199.8 L1287.0,206.3 L1288.5,212.6 L1290.0,218.8 L1291.5,225.1 L1293.0,231.6 L1294.5,238.3 L1296.0,245.6 L1297.5,253.6 L1299.0,262.5 L1300.5,272.4 L1302.0,283.5 L1303.5,295.8 L1305.0,309.4 L1306.5,324.1 L1308.0,339.8 L1309.5,356.4 L1311.0,373.7 L1312.5,391.4 L1314.0,409.3 L1315.5,427.1 L1317.0,444.4 L1318.5,461.2 L1320.0,477.2 L1321.5,492.1 L1323.0,506.0 L1324.5,518.7 L1326.0,530.2 L1327.5,540.4 L1329.0,549.5 L1330.5,557.5 L1332.0,564.5 L1333.5,570.5 L1335.0,575.8 L1336.5,580.4 L1338.0,584.4 L1339.5,588.0 L1341.0,591.1 L1342.5,593.9 L1344.0,596.5 L1345.5,598.9 L1347.0,601.2 L1348.5,603.4 L1350.0,605.5 L1351.5,607.3 L1353.0,608.9 L1354.5,610.1" fill="none" stroke="#fbb77c" stroke-width="2.6" stroke-linejoin="round" stroke-linecap="round"/>
<path d="M1032.0,551.2 L1033.5,551.1 L1035.0,551.0 L1036.5,550.9 L1038.0,550.8 L1039.5,550.7 L1041.0,550.6 L1042.5,550.5 L1044.0,550.3 L1045.5,550.2 L1047.0,550.0 L1048.5,549.8 L1050.0,549.7 L1051.5,549.5 L1053.0,549.2 L1054.5,549.0 L1056.0,548.8 L1057.5,548.5 L1059.0,548.3 L1060.5,548.0 L1062.0,547.8 L1063.5,547.5 L1065.0,547.2 L1066.5,547.0 L1068.0,546.7 L1069.5,546.4 L1071.0,546.1 L1072.5,545.8 L1074.0,545.5 L1075.5,545.3 L1077.0,545.0 L1078.5,544.7 L1080.0,544.4 L1081.5,544.2 L1083.0,543.9 L1084.5,543.6 L1086.0,543.3 L1087.5,543.0 L1089.0,542.7 L1090.5,542.4 L1092.0,542.0 L1093.5,541.7 L1095.0,541.3 L1096.5,540.8 L1098.0,540.3 L1099.5,539.7 L1101.0,539.1 L1102.5,538.3 L1104.0,537.5 L1105.5,536.6 L1107.0,535.5 L1108.5,534.3 L1110.0,533.0 L1111.5,531.5 L1113.0,529.8 L1114.5,527.9 L1116.0,525.8 L1117.5,523.5 L1119.0,521.0 L1120.5,518.2 L1122.0,515.1 L1123.5,511.8 L1125.0,508.2 L1126.5,504.4 L1128.0,500.2 L1129.5,495.7 L1131.0,490.9 L1132.5,485.8 L1134.0,480.4 L1135.5,474.7 L1137.0,468.7 L1138.5,462.3 L1140.0,455.7 L1141.5,448.8 L1143.0,441.7 L1144.5,434.3 L1146.0,426.7 L1147.5,418.9 L1149.0,411.0 L1150.5,402.9 L1152.0,394.7 L1153.5,386.5 L1155.0,378.3 L1156.5,370.2 L1158.0,362.1 L1159.5,354.1 L1161.0,346.3 L1162.5,338.7 L1164.0,331.4 L1165.5,324.4 L1167.0,317.7 L1168.5,311.4 L1170.0,305.6 L1171.5,300.2 L1173.0,295.3 L1174.5,291.0 L1176.0,287.2 L1177.5,284.1 L1179.0,281.6 L1180.5,279.7 L1182.0,278.5 L1183.5,278.0 L1185.0,278.2 L1186.5,279.1 L1188.0,280.6 L1189.5,282.9 L1191.0,285.8 L1192.5,289.3 L1194.0,293.5 L1195.5,298.3 L1197.0,303.7 L1198.5,309.6 L1200.0,316.0 L1201.5,322.8 L1203.0,330.1 L1204.5,337.7 L1206.0,345.7 L1207.5,353.9 L1209.0,362.4 L1210.5,371.0 L1212.0,379.8 L1213.5,388.7 L1215.0,397.7 L1216.5,406.6 L1218.0,415.5 L1219.5,424.4 L1221.0,433.1 L1222.5,441.7 L1224.0,450.1 L1225.5,458.4 L1227.0,466.4 L1228.5,474.2 L1230.0,481.7 L1231.5,489.0 L1233.0,496.0 L1234.5,502.7 L1236.0,509.1 L1237.5,515.3 L1239.0,521.1 L1240.5,526.6 L1242.0,531.9 L1243.5,536.9 L1245.0,541.6 L1246.5,546.0 L1248.0,550.2 L1249.5,554.1 L1251.0,557.8 L1252.5,561.2 L1254.0,564.5 L1255.5,567.5 L1257.0,570.3 L1258.5,572.9 L1260.0,575.4 L1261.5,577.6 L1263.0,579.7 L1264.5,581.7 L1266.0,583.5 L1267.5,585.2 L1269.0,586.8 L1270.5,588.2 L1272.0,589.6 L1273.5,590.9 L1275.0,592.2 L1276.5,593.4 L1278.0,594.5 L1279.5,595.6 L1281.0,596.7 L1282.5,597.7 L1284.0,598.6 L1285.5,599.5 L1287.0,600.4 L1288.5,601.2 L1290.0,601.9 L1291.5,602.7 L1293.0,603.4" fill="none" stroke="#b5d6ad" stroke-width="2.3" stroke-linejoin="round" stroke-linecap="round"/>
<path d="M1161.0,558.2 L1162.5,558.4 L1164.0,558.6 L1165.5,558.7 L1167.0,558.8 L1168.5,558.8 L1170.0,558.7 L1171.5,558.6 L1173.0,558.3 L1174.5,557.9 L1176.0,557.4 L1177.5,556.7 L1179.0,555.7 L1180.5,554.6 L1182.0,553.2 L1183.5,551.5 L1185.0,549.5 L1186.5,547.2 L1188.0,544.5 L1189.5,541.5 L1191.0,538.1 L1192.5,534.2 L1194.0,529.9 L1195.5,525.2 L1197.0,520.0 L1198.5,514.3 L1200.0,508.3 L1201.5,501.8 L1203.0,495.0 L1204.5,487.9 L1206.0,480.4 L1207.5,472.8 L1209.0,465.0 L1210.5,457.1 L1212.0,449.3 L1213.5,441.6 L1215.0,434.1 L1216.5,426.9 L1218.0,420.1 L1219.5,413.9 L1221.0,408.2 L1222.5,403.3 L1224.0,399.2 L1225.5,395.9 L1227.0,393.6 L1228.5,392.2 L1230.0,391.8 L1231.5,392.4 L1233.0,394.1 L1234.5,396.7 L1236.0,400.3 L1237.5,404.8 L1239.0,410.1 L1240.5,416.3 L1242.0,423.1 L1243.5,430.5 L1245.0,438.4 L1246.5,446.8 L1248.0,455.4 L1249.5,464.2 L1251.0,473.2 L1252.5,482.1 L1254.0,490.9 L1255.5,499.6 L1257.0,508.1 L1258.5,516.2 L1260.0,524.0 L1261.5,531.4 L1263.0,538.5 L1264.5,545.0 L1266.0,551.1 L1267.5,556.8 L1269.0,562.0 L1270.5,566.8 L1272.0,571.1 L1273.5,575.1 L1275.0,578.7 L1276.5,582.0 L1278.0,585.0 L1279.5,587.6 L1281.0,590.0 L1282.5,592.2 L1284.0,594.1 L1285.5,595.9 L1287.0,597.4 L1288.5,598.8 L1290.0,600.1 L1291.5,601.2 L1293.0,602.2 L1294.5,603.1 L1296.0,603.9 L1297.5,604.6 L1299.0,605.2 L1300.5,605.8" fill="none" stroke="#65806f" stroke-width="2.4" stroke-linejoin="round" stroke-linecap="round"/>
<path d="M1195.5,567.1 L1197.0,567.4 L1198.5,567.6 L1200.0,567.7 L1201.5,567.8 L1203.0,567.8 L1204.5,567.7 L1206.0,567.6 L1207.5,567.2 L1209.0,566.7 L1210.5,566.1 L1212.0,565.2 L1213.5,564.0 L1215.0,562.6 L1216.5,560.8 L1218.0,558.6 L1219.5,556.0 L1221.0,552.9 L1222.5,549.3 L1224.0,545.1 L1225.5,540.3 L1227.0,534.9 L1228.5,528.7 L1230.0,521.7 L1231.5,514.0 L1233.0,505.4 L1234.5,496.0 L1236.0,485.8 L1237.5,474.8 L1239.0,462.9 L1240.5,450.3 L1242.0,437.1 L1243.5,423.2 L1245.0,408.8 L1246.5,393.9 L1248.0,378.8 L1249.5,363.6 L1251.0,348.4 L1252.5,333.4 L1254.0,318.8 L1255.5,304.7 L1257.0,291.4 L1258.5,279.0 L1260.0,267.7 L1261.5,257.8 L1263.0,249.2 L1264.5,242.2 L1266.0,236.9 L1267.5,233.4 L1269.0,231.7 L1270.5,231.9 L1272.0,234.1 L1273.5,238.0 L1275.0,243.9 L1276.5,251.5 L1278.0,260.7 L1279.5,271.4 L1281.0,283.5 L1282.5,296.7 L1284.0,311.0 L1285.5,326.1 L1287.0,341.9 L1288.5,358.0 L1290.0,374.4 L1291.5,390.9 L1293.0,407.3 L1294.5,423.5 L1296.0,439.2 L1297.5,454.4 L1299.0,469.0 L1300.5,482.9 L1302.0,496.0 L1303.5,508.4 L1305.0,519.9 L1306.5,530.5 L1308.0,540.3 L1309.5,549.3 L1311.0,557.4 L1312.5,564.8 L1314.0,571.4 L1315.5,577.3 L1317.0,582.5 L1318.5,587.0 L1320.0,591.0 L1321.5,594.5 L1323.0,597.5 L1324.5,600.1 L1326.0,602.3 L1327.5,604.1 L1329.0,605.6 L1330.5,606.9 L1332.0,607.9 L1333.5,608.8 L1335.0,609.5 L1336.5,610.1 L1338.0,610.6 L1339.5,611.1 L1341.0,611.4 L1342.5,611.7 L1344.0,611.9 L1345.5,612.0" fill="none" stroke="#c94fa0" stroke-width="2.4" stroke-linejoin="round" stroke-linecap="round"/>
<path d="M1257.0,587.3 L1258.5,587.8 L1260.0,588.1 L1261.5,588.4 L1263.0,588.5 L1264.5,588.3 L1266.0,588.0 L1267.5,587.3 L1269.0,586.2 L1270.5,584.7 L1272.0,582.6 L1273.5,579.9 L1275.0,576.6 L1276.5,572.4 L1278.0,567.4 L1279.5,561.6 L1281.0,554.8 L1282.5,547.1 L1284.0,538.5 L1285.5,529.2 L1287.0,519.2 L1288.5,508.8 L1290.0,498.2 L1291.5,487.6 L1293.0,477.3 L1294.5,467.6 L1296.0,458.9 L1297.5,451.4 L1299.0,445.4 L1300.5,441.1 L1302.0,438.7 L1303.5,438.4 L1305.0,440.1 L1306.5,443.8 L1308.0,449.3 L1309.5,456.6 L1311.0,465.3 L1312.5,475.2 L1314.0,486.0 L1315.5,497.3 L1317.0,508.9 L1318.5,520.4 L1320.0,531.7 L1321.5,542.4 L1323.0,552.4 L1324.5,561.6 L1326.0,570.0 L1327.5,577.3 L1329.0,583.8 L1330.5,589.3 L1332.0,594.0 L1333.5,597.9 L1335.0,601.1 L1336.5,603.7 L1338.0,605.9 L1339.5,607.5 L1341.0,608.8 L1342.5,609.8 L1344.0,610.6 L1345.5,611.2 L1347.0,611.6 L1348.5,611.9 L1350.0,612.1" fill="none" stroke="#2ea3e3" stroke-width="2.6" stroke-linejoin="round" stroke-linecap="round"/>
<path d="M831.0,1125.0 L832.5,1126.0 L834.0,1126.8 L835.5,1127.7 L837.0,1128.6 L838.5,1129.4 L840.0,1130.4 L841.5,1131.5 L843.0,1132.7 L844.5,1134.2 L846.0,1135.7 L847.5,1137.2 L849.0,1138.6 L850.5,1140.0 L852.0,1141.1 L853.5,1141.9 L855.0,1142.7 L856.5,1143.4 L858.0,1144.1 L859.5,1144.8 L861.0,1145.3 L862.5,1145.7 L864.0,1146.0 L865.5,1146.1 L867.0,1146.3 L868.5,1146.3 L870.0,1146.4 L871.5,1146.5 L873.0,1146.5 L874.5,1146.5 L876.0,1146.6 L877.5,1146.6 L879.0,1146.7 L880.5,1146.7 L882.0,1146.8 L883.5,1146.8 L885.0,1146.9 L886.5,1147.1 L888.0,1147.3 L889.5,1147.5 L891.0,1147.9 L892.5,1148.3 L894.0,1148.8 L895.5,1149.4 L897.0,1149.9 L898.5,1150.5 L900.0,1151.1 L901.5,1151.8 L903.0,1152.4 L904.5,1153.0 L906.0,1153.6 L907.5,1154.4 L909.0,1155.1 L910.5,1155.9 L912.0,1156.7 L913.5,1157.6 L915.0,1158.5 L916.5,1159.4 L918.0,1160.3 L919.5,1161.2 L921.0,1162.1 L922.5,1163.0 L924.0,1164.0 L925.5,1165.1 L927.0,1166.2 L928.5,1167.4 L930.0,1168.5 L931.5,1169.6 L933.0,1170.8 L934.5,1171.8 L936.0,1172.9 L937.5,1173.8 L939.0,1174.6 L940.5,1175.3 L942.0,1176.0 L943.5,1176.7 L945.0,1177.4 L946.5,1178.0 L948.0,1178.6 L949.5,1179.2 L951.0,1179.6 L952.5,1180.0 L954.0,1180.3 L955.5,1180.5 L957.0,1180.7 L958.5,1180.8 L960.0,1181.0 L961.5,1181.2 L963.0,1181.3 L964.5,1181.4 L966.0,1181.5 L967.5,1181.6 L969.0,1181.7 L970.5,1181.8 L972.0,1181.8 L973.5,1181.9 L975.0,1181.9 L976.5,1181.9 L978.0,1181.9 L979.5,1181.9 L981.0,1181.9 L982.5,1181.9 L984.0,1181.9 L985.5,1181.9 L987.0,1181.9 L988.5,1181.9 L990.0,1181.9 L991.5,1181.9 L993.0,1181.9 L994.5,1181.9 L996.0,1181.9 L997.5,1181.9 L999.0,1181.9 L1000.5,1181.9 L1002.0,1181.9 L1003.5,1181.9 L1005.0,1181.9 L1006.5,1181.9 L1008.0,1181.9 L1009.5,1181.9 L1011.0,1181.9 L1012.5,1181.9 L1014.0,1181.9 L1015.5,1181.9 L1017.0,1181.9 L1018.5,1181.9 L1020.0,1181.9 L1021.5,1181.9 L1023.0,1181.9 L1024.5,1181.9 L1026.0,1181.9 L1027.5,1181.9 L1029.0,1181.9 L1030.5,1181.9 L1032.0,1181.9 L1033.5,1181.9 L1035.0,1181.9 L1036.5,1181.9 L1038.0,1181.9 L1039.5,1181.9 L1041.0,1181.9 L1042.5,1181.9 L1044.0,1181.9 L1045.5,1181.9 L1047.0,1181.9 L1048.5,1181.9 L1050.0,1181.9 L1051.5,1181.9 L1053.0,1181.9 L1054.5,1181.9 L1056.0,1181.9 L1057.5,1181.9 L1059.0,1181.9 L1060.5,1181.9 L1062.0,1181.9 L1063.5,1181.9 L1065.0,1181.9 L1066.5,1181.9 L1068.0,1181.9 L1069.5,1181.9 L1071.0,1181.9 L1072.5,1181.9 L1074.0,1181.9 L1075.5,1181.9 L1077.0,1182.0 L1078.5,1182.0 L1080.0,1182.0 L1081.5,1182.0 L1083.0,1182.0 L1084.5,1182.0 L1086.0,1182.0 L1087.5,1182.0 L1089.0,1182.0 L1090.5,1182.1 L1092.0,1182.1 L1093.5,1182.1 L1095.0,1182.1 L1096.5,1182.1 L1098.0,1182.2 L1099.5,1182.2 L1101.0,1182.2 L1102.5,1182.2 L1104.0,1182.2 L1105.5,1182.3 L1107.0,1182.3 L1108.5,1182.3 L1110.0,1182.3 L1111.5,1182.4 L1113.0,1182.4 L1114.5,1182.4 L1116.0,1182.4 L1117.5,1182.5 L1119.0,1182.5 L1120.5,1182.5 L1122.0,1182.6 L1123.5,1182.6 L1125.0,1182.7 L1126.5,1182.8 L1128.0,1182.9 L1129.5,1183.0 L1131.0,1183.1 L1132.5,1183.2 L1134.0,1183.3 L1135.5,1183.5 L1137.0,1183.6 L1138.5,1183.7 L1140.0,1183.9 L1141.5,1184.0 L1143.0,1184.2 L1144.5,1184.4 L1146.0,1184.5 L1147.5,1184.7 L1149.0,1184.9 L1150.5,1185.0 L1152.0,1185.2 L1153.5,1185.4 L1155.0,1185.7 L1156.5,1185.9 L1158.0,1186.2 L1159.5,1186.4 L1161.0,1186.7 L1162.5,1187.0 L1164.0,1187.3 L1165.5,1187.6 L1167.0,1187.9 L1168.5,1188.2 L1170.0,1188.5 L1171.5,1188.9 L1173.0,1189.2 L1174.5,1189.5 L1176.0,1189.9 L1177.5,1190.2 L1179.0,1190.5 L1180.5,1190.9 L1182.0,1191.2 L1183.5,1191.6 L1185.0,1192.0 L1186.5,1192.4 L1188.0,1192.8 L1189.5,1193.2 L1191.0,1193.6 L1192.5,1194.0 L1194.0,1194.4 L1195.5,1194.9 L1197.0,1195.3 L1198.5,1195.7 L1200.0,1196.1 L1201.5,1196.6 L1203.0,1197.0 L1204.5,1197.4 L1206.0,1197.8 L1207.5,1198.2 L1209.0,1198.6 L1210.5,1199.0 L1212.0,1199.4 L1213.5,1199.8 L1215.0,1200.2 L1216.5,1200.6 L1218.0,1201.0 L1219.5,1201.4 L1221.0,1201.8 L1222.5,1202.2 L1224.0,1202.6 L1225.5,1203.0 L1227.0,1203.4 L1228.5,1203.8 L1230.0,1204.1 L1231.5,1204.5 L1233.0,1204.9 L1234.5,1205.2 L1236.0,1205.6 L1237.5,1205.9 L1239.0,1206.3 L1240.5,1206.6 L1242.0,1207.0 L1243.5,1207.3 L1245.0,1207.6 L1246.5,1208.0 L1248.0,1208.3 L1249.5,1208.6 L1251.0,1208.9 L1252.5,1209.3 L1254.0,1209.6 L1255.5,1209.9 L1257.0,1210.2 L1258.5,1210.4 L1260.0,1210.7 L1261.5,1211.0 L1263.0,1211.2 L1264.5,1211.5 L1266.0,1211.7 L1267.5,1212.0 L1269.0,1212.2 L1270.5,1212.5 L1272.0,1212.7 L1273.5,1213.0 L1275.0,1213.2 L1276.5,1213.5 L1278.0,1213.7 L1279.5,1213.9 L1281.0,1214.1 L1282.5,1214.3 L1284.0,1214.4 L1285.5,1214.6 L1287.0,1214.8 L1288.5,1214.9 L1290.0,1215.0 L1291.5,1215.1 L1293.0,1215.2 L1294.5,1215.3 L1296.0,1215.4 L1297.5,1215.5 L1299.0,1215.6 L1300.5,1215.7 L1302.0,1215.8 L1303.5,1215.9 L1305.0,1215.9 L1306.5,1216.0 L1308.0,1216.1 L1309.5,1216.1 L1311.0,1216.2 L1312.5,1216.2 L1314.0,1216.2 L1315.5,1216.3 L1317.0,1216.3 L1318.5,1216.3 L1320.0,1216.3 L1321.5,1216.4 L1323.0,1216.4 L1324.5,1216.4 L1326.0,1216.4 L1327.5,1216.4 L1329.0,1216.4 L1330.5,1216.5 L1332.0,1216.5 L1333.5,1216.5 L1335.0,1216.5 L1336.5,1216.5 L1338.0,1216.5 L1339.5,1216.6 L1341.0,1216.6 L1342.5,1216.6 L1344.0,1216.6 L1345.5,1216.6 L1347.0,1216.6 L1348.5,1216.6 L1350.0,1216.6 L1351.5,1216.7 L1353.0,1216.7 L1354.5,1216.7 L1356.0,1216.7 L1357.5,1216.7 L1359.0,1216.7 L1360.5,1216.7 L1362.0,1216.7 L1363.5,1216.7 L1365.0,1216.8 L1366.5,1216.8 L1368.0,1216.8 L1369.5,1216.8 L1371.0,1216.8 L1372.5,1216.8 L1374.0,1216.8 L1375.5,1216.8 L1377.0,1216.8 L1378.5,1216.8 L1380.0,1216.8 L1381.5,1216.8 L1383.0,1216.8 L1384.5,1216.9 L1386.0,1216.9 L1387.5,1216.9 L1389.0,1216.9 L1390.5,1216.9 L1392.0,1216.9 L1393.5,1216.9 L1395.0,1216.9 L1396.5,1216.9 L1398.0,1216.9 L1399.5,1216.9 L1401.0,1216.9 L1402.5,1216.9 L1404.0,1216.9 L1405.5,1216.9 L1407.0,1216.9 L1408.5,1216.9 L1410.0,1216.9 L1411.5,1216.9" fill="none" stroke="#5a5a5a" stroke-width="2.6" stroke-linejoin="round" stroke-linecap="round"/>
<path d="M831.0,1124.7 L832.5,1125.6 L834.0,1126.5 L835.5,1127.3 L837.0,1128.2 L838.5,1129.0 L840.0,1130.0 L841.5,1131.0 L843.0,1132.2 L844.5,1133.6 L846.0,1135.0 L847.5,1136.5 L849.0,1137.9 L850.5,1139.1 L852.0,1140.1 L853.5,1140.8 L855.0,1141.4 L856.5,1142.0 L858.0,1142.5 L859.5,1142.9 L861.0,1143.2 L862.5,1143.3 L864.0,1143.3 L865.5,1143.1 L867.0,1142.9 L868.5,1142.6 L870.0,1142.3 L871.5,1141.9 L873.0,1141.5 L874.5,1141.1 L876.0,1140.7 L877.5,1140.2 L879.0,1139.8 L880.5,1139.4 L882.0,1139.0 L883.5,1138.7 L885.0,1138.4 L886.5,1138.1 L888.0,1138.0 L889.5,1138.0 L891.0,1138.1 L892.5,1138.3 L894.0,1138.6 L895.5,1139.1 L897.0,1139.6 L898.5,1140.3 L900.0,1141.0 L901.5,1141.7 L903.0,1142.5 L904.5,1143.4 L906.0,1144.4 L907.5,1145.4 L909.0,1146.5 L910.5,1147.7 L912.0,1149.0 L913.5,1150.3 L915.0,1151.6 L916.5,1153.0 L918.0,1154.4 L919.5,1155.7 L921.0,1157.1 L922.5,1158.5 L924.0,1159.9 L925.5,1161.4 L927.0,1162.8 L928.5,1164.3 L930.0,1165.8 L931.5,1167.2 L933.0,1168.6 L934.5,1170.0 L936.0,1171.2 L937.5,1172.3 L939.0,1173.3 L940.5,1174.2 L942.0,1172.2 L943.5,1173.0 L945.0,1173.8 L946.5,1174.5 L948.0,1175.2 L949.5,1175.8 L951.0,1176.3 L952.5,1176.7 L954.0,1177.1 L955.5,1177.3 L957.0,1177.6 L958.5,1177.8 L960.0,1178.0 L961.5,1178.2 L963.0,1178.5 L964.5,1178.7 L966.0,1178.9 L967.5,1179.1 L969.0,1179.4 L970.5,1179.6 L972.0,1179.8 L973.5,1180.1 L975.0,1180.3 L976.5,1180.5 L978.0,1180.8 L979.5,1181.0 L981.0,1181.1 L982.5,1181.1 L984.0,1181.1 L985.5,1181.1 L987.0,1181.1 L988.5,1181.1 L990.0,1181.1 L991.5,1181.1 L993.0,1181.1 L994.5,1181.1 L996.0,1181.1 L997.5,1181.1 L999.0,1181.1 L1000.5,1181.1 L1002.0,1181.1 L1003.5,1181.1 L1005.0,1181.1 L1006.5,1181.1 L1008.0,1181.1 L1009.5,1181.1 L1011.0,1181.1 L1012.5,1181.1 L1014.0,1181.1 L1015.5,1181.1 L1017.0,1181.1 L1018.5,1181.1 L1020.0,1181.1 L1021.5,1181.1 L1023.0,1181.1 L1024.5,1181.1 L1026.0,1181.1 L1027.5,1181.0 L1029.0,1180.5 L1030.5,1180.0 L1032.0,1179.4 L1033.5,1178.9 L1035.0,1178.4 L1036.5,1177.8 L1038.0,1177.3 L1039.5,1176.8 L1041.0,1176.2 L1042.5,1175.7 L1044.0,1175.1 L1045.5,1174.6 L1047.0,1174.0 L1048.5,1173.4 L1050.0,1172.8 L1051.5,1172.1 L1053.0,1171.4 L1054.5,1170.6 L1056.0,1169.8 L1057.5,1168.9 L1059.0,1168.0 L1060.5,1167.1 L1062.0,1166.2 L1063.5,1165.2 L1065.0,1164.3 L1066.5,1163.4 L1068.0,1162.6 L1069.5,1161.9 L1071.0,1161.3 L1072.5,1160.8 L1074.0,1160.4 L1075.5,1160.2 L1077.0,1160.2 L1078.5,1160.2 L1080.0,1160.4 L1081.5,1160.7 L1083.0,1161.1 L1084.5,1161.6 L1086.0,1162.1 L1087.5,1162.7 L1089.0,1163.2 L1090.5,1163.8 L1092.0,1164.4 L1093.5,1164.9 L1095.0,1165.4 L1096.5,1165.7 L1098.0,1165.8 L1099.5,1165.8 L1101.0,1165.4 L1102.5,1164.8 L1104.0,1163.9 L1105.5,1162.8 L1107.0,1161.6 L1108.5,1160.2 L1110.0,1158.8 L1111.5,1157.4 L1113.0,1155.8 L1114.5,1154.1 L1116.0,1152.2 L1117.5,1150.1 L1119.0,1147.7 L1120.5,1145.0 L1122.0,1141.9 L1123.5,1138.4 L1125.0,1134.4 L1126.5,1129.8 L1128.0,1124.4 L1129.5,1118.3 L1131.0,1111.3 L1132.5,1103.7 L1134.0,1095.3 L1135.5,1086.4 L1137.0,1077.1 L1138.5,1067.7 L1140.0,1058.1 L1141.5,1048.4 L1143.0,1038.7 L1144.5,1028.8 L1146.0,1018.8 L1147.5,1008.4 L1149.0,997.8 L1150.5,986.7 L1152.0,975.3 L1153.5,963.5 L1155.0,951.5 L1156.5,939.3 L1158.0,927.0 L1159.5,914.7 L1161.0,902.6 L1162.5,890.7 L1164.0,879.1 L1165.5,867.8 L1167.0,856.6 L1168.5,845.6 L1170.0,834.9 L1171.5,824.3 L1173.0,814.0 L1174.5,804.2 L1176.0,794.9 L1177.5,786.3 L1179.0,778.7 L1180.5,771.9 L1182.0,766.0 L1183.5,761.0 L1185.0,756.7 L1186.5,753.1 L1188.0,750.0 L1189.5,747.3 L1191.0,745.1 L1192.5,743.3 L1194.0,742.1 L1195.5,741.5 L1197.0,741.6 L1198.5,742.5 L1200.0,744.0 L1201.5,746.1 L1203.0,748.7 L1204.5,751.5 L1206.0,754.3 L1207.5,757.2 L1209.0,760.0 L1210.5,762.9 L1212.0,766.0 L1213.5,769.2 L1215.0,772.8 L1216.5,776.8 L1218.0,781.0 L1219.5,785.2 L1221.0,789.4 L1222.5,793.4 L1224.0,797.2 L1225.5,800.7 L1227.0,804.0 L1228.5,807.0 L1230.0,809.7 L1231.5,812.2 L1233.0,814.5 L1234.5,816.3 L1236.0,817.7 L1237.5,818.8 L1239.0,819.6 L1240.5,820.1 L1242.0,820.4 L1243.5,820.5 L1245.0,820.4 L1246.5,820.2 L1248.0,820.0 L1249.5,819.9 L1251.0,819.9 L1252.5,820.3 L1254.0,821.1 L1255.5,822.4 L1257.0,824.1 L1258.5,826.3 L1260.0,828.8 L1261.5,831.5 L1263.0,834.5 L1264.5,837.7 L1266.0,841.3 L1267.5,845.1 L1269.0,849.3 L1270.5,853.9 L1272.0,859.0 L1273.5,864.5 L1275.0,870.4 L1276.5,876.7 L1278.0,883.2 L1279.5,890.1 L1281.0,897.2 L1282.5,904.5 L1284.0,912.1 L1285.5,919.9 L1287.0,927.9 L1288.5,936.1 L1290.0,944.6 L1291.5,953.3 L1293.0,962.4 L1294.5,971.7 L1296.0,981.4 L1297.5,991.3 L1299.0,1001.5 L1300.5,1012.0 L1302.0,1022.6 L1303.5,1033.4 L1305.0,1044.3 L1306.5,1055.3 L1308.0,1066.2 L1309.5,1077.0 L1311.0,1087.6 L1312.5,1098.1 L1314.0,1108.2 L1315.5,1118.0 L1317.0,1127.3 L1318.5,1136.2 L1320.0,1144.6 L1321.5,1152.5 L1323.0,1159.9 L1324.5,1166.7 L1326.0,1173.0 L1327.5,1178.7 L1329.0,1183.8 L1330.5,1188.5 L1332.0,1192.6 L1333.5,1196.3 L1335.0,1199.5 L1336.5,1202.3 L1338.0,1204.7 L1339.5,1206.7 L1341.0,1208.4 L1342.5,1209.8 L1344.0,1211.0 L1345.5,1211.9 L1347.0,1212.7 L1348.5,1213.3 L1350.0,1213.7 L1351.5,1214.1 L1353.0,1214.5 L1354.5,1214.7 L1356.0,1214.9 L1357.5,1215.1 L1359.0,1215.2 L1360.5,1215.4 L1362.0,1215.5 L1363.5,1215.5 L1365.0,1215.6 L1366.5,1215.6 L1368.0,1215.6 L1369.5,1215.6 L1371.0,1215.6 L1372.5,1215.6 L1374.0,1215.5 L1375.5,1215.4 L1377.0,1215.3 L1378.5,1215.1 L1380.0,1215.0 L1381.5,1214.9 L1383.0,1214.8 L1384.5,1214.7 L1386.0,1214.6 L1387.5,1214.6 L1389.0,1214.6 L1390.5,1214.7 L1392.0,1214.8 L1393.5,1214.9 L1395.0,1215.1 L1396.5,1215.2 L1398.0,1215.4 L1399.5,1215.6 L1401.0,1215.7 L1402.5,1215.8 L1404.0,1215.9 L1405.5,1216.0 L1407.0,1216.1 L1408.5,1216.1 L1410.0,1216.1 L1411.5,1216.1" fill="none" stroke="#1fa38a" stroke-width="2.0" stroke-linejoin="round" stroke-linecap="round" stroke-dasharray="0.01 4.3"/>
<path d="M945.0,1174.3 L946.5,1174.9 L948.0,1175.5 L949.5,1176.1 L951.0,1176.5 L952.5,1176.9 L954.0,1177.2 L955.5,1177.3 L957.0,1177.5 L958.5,1177.6 L960.0,1177.8 L961.5,1177.9 L963.0,1178.0 L964.5,1178.1 L966.0,1178.2 L967.5,1178.2 L969.0,1178.3 L970.5,1178.3 L972.0,1178.3 L973.5,1178.3 L975.0,1178.3 L976.5,1178.2 L978.0,1178.2 L979.5,1178.1 L981.0,1178.0 L982.5,1178.0 L984.0,1177.9 L985.5,1177.8 L987.0,1177.8 L988.5,1177.7 L990.0,1177.6 L991.5,1177.5 L993.0,1177.5 L994.5,1177.4 L996.0,1177.3 L997.5,1177.2 L999.0,1177.1 L1000.5,1177.0 L1002.0,1176.9 L1003.5,1176.8 L1005.0,1176.7 L1006.5,1176.6 L1008.0,1176.5 L1009.5,1176.4 L1011.0,1176.3 L1012.5,1176.2 L1014.0,1176.1 L1015.5,1175.9 L1017.0,1175.8 L1018.5,1175.7 L1020.0,1175.6 L1021.5,1175.4 L1023.0,1175.3 L1024.5,1175.2 L1026.0,1175.1 L1027.5,1174.9 L1029.0,1174.8 L1030.5,1174.6 L1032.0,1174.5 L1033.5,1174.3 L1035.0,1174.2 L1036.5,1174.1 L1038.0,1173.9 L1039.5,1173.7 L1041.0,1173.6 L1042.5,1173.4 L1044.0,1173.3 L1045.5,1173.1 L1047.0,1172.9 L1048.5,1172.8 L1050.0,1172.6 L1051.5,1172.4 L1053.0,1172.3 L1054.5,1172.1 L1056.0,1171.9 L1057.5,1171.7 L1059.0,1171.6 L1060.5,1171.4 L1062.0,1171.2 L1063.5,1171.0 L1065.0,1170.8 L1066.5,1170.6 L1068.0,1170.4 L1069.5,1170.2 L1071.0,1170.0 L1072.5,1169.8 L1074.0,1169.6 L1075.5,1169.4 L1077.0,1169.2 L1078.5,1169.0 L1080.0,1168.8 L1081.5,1168.5 L1083.0,1168.3 L1084.5,1168.0 L1086.0,1167.8 L1087.5,1167.5 L1089.0,1167.1 L1090.5,1166.6 L1092.0,1166.1 L1093.5,1165.5 L1095.0,1164.9 L1096.5,1164.2 L1098.0,1163.6 L1099.5,1163.1 L1101.0,1162.5 L1102.5,1162.0 L1104.0,1161.4 L1105.5,1160.8 L1107.0,1160.1 L1108.5,1159.2 L1110.0,1158.3 L1111.5,1157.1 L1113.0,1155.8 L1114.5,1154.2 L1116.0,1152.4 L1117.5,1150.3 L1119.0,1148.0 L1120.5,1145.2 L1122.0,1142.2 L1123.5,1138.7 L1125.0,1134.7 L1126.5,1130.1 L1128.0,1124.7 L1129.5,1118.6 L1131.0,1111.6 L1132.5,1104.0 L1134.0,1095.6 L1135.5,1086.7 L1137.0,1077.4 L1138.5,1068.0 L1140.0,1058.4 L1141.5,1048.7 L1143.0,1039.0 L1144.5,1029.1 L1146.0,1019.1 L1147.5,1008.7 L1149.0,998.1 L1150.5,987.0 L1152.0,975.6 L1153.5,963.8 L1155.0,951.8 L1156.5,939.6 L1158.0,927.3 L1159.5,915.0 L1161.0,902.9 L1162.5,891.0 L1164.0,879.4 L1165.5,868.1 L1167.0,856.9 L1168.5,845.9 L1170.0,835.2 L1171.5,824.6 L1173.0,814.3 L1174.5,804.5 L1176.0,795.2 L1177.5,786.6 L1179.0,779.0 L1180.5,772.2 L1182.0,766.3 L1183.5,761.3 L1185.0,757.0 L1186.5,753.4 L1188.0,750.3 L1189.5,747.6 L1191.0,745.4 L1192.5,743.6 L1194.0,742.4 L1195.5,741.8 L1197.0,741.9 L1198.5,742.8 L1200.0,744.3 L1201.5,746.4 L1203.0,749.0 L1204.5,751.8 L1206.0,754.6 L1207.5,757.5 L1209.0,760.3 L1210.5,763.2 L1212.0,766.3 L1213.5,769.5 L1215.0,773.1 L1216.5,777.1 L1218.0,781.3 L1219.5,785.5 L1221.0,789.7 L1222.5,793.7 L1224.0,797.5 L1225.5,801.0 L1227.0,804.3 L1228.5,807.3 L1230.0,810.0 L1231.5,812.5 L1233.0,814.8 L1234.5,816.6 L1236.0,818.0 L1237.5,819.1 L1239.0,819.9 L1240.5,820.4 L1242.0,820.7 L1243.5,820.8 L1245.0,820.7 L1246.5,820.5 L1248.0,820.3 L1249.5,820.2 L1251.0,820.2 L1252.5,820.6 L1254.0,821.4 L1255.5,822.7 L1257.0,824.4 L1258.5,826.6 L1260.0,829.1 L1261.5,831.8 L1263.0,834.8 L1264.5,838.0 L1266.0,841.6 L1267.5,845.4 L1269.0,849.6 L1270.5,854.2 L1272.0,859.3 L1273.5,864.8 L1275.0,870.7 L1276.5,877.0 L1278.0,883.5 L1279.5,890.4 L1281.0,897.5 L1282.5,904.8 L1284.0,912.4 L1285.5,920.2 L1287.0,928.2 L1288.5,936.4 L1290.0,944.9 L1291.5,953.6 L1293.0,962.7 L1294.5,972.0 L1296.0,981.7 L1297.5,991.6 L1299.0,1001.8 L1300.5,1012.3 L1302.0,1022.9 L1303.5,1033.7 L1305.0,1044.6 L1306.5,1055.6 L1308.0,1066.5 L1309.5,1077.3 L1311.0,1087.9 L1312.5,1098.4 L1314.0,1108.5 L1315.5,1118.3 L1317.0,1127.6 L1318.5,1136.5 L1320.0,1144.9 L1321.5,1152.8 L1323.0,1160.2 L1324.5,1167.0 L1326.0,1173.3 L1327.5,1179.0 L1329.0,1184.1 L1330.5,1188.8 L1332.0,1192.9 L1333.5,1196.6 L1335.0,1199.8 L1336.5,1202.6 L1338.0,1205.0 L1339.5,1207.0 L1341.0,1208.7 L1342.5,1210.1 L1344.0,1211.3 L1345.5,1212.2 L1347.0,1213.0 L1348.5,1213.6" fill="none" stroke="#fbb77c" stroke-width="2.4" stroke-linejoin="round" stroke-linecap="round"/>
<path d="M1090.5,1181.5 L1092.0,1181.3 L1093.5,1181.2 L1095.0,1181.0 L1096.5,1180.8 L1098.0,1180.5 L1099.5,1180.1 L1101.0,1179.7 L1102.5,1179.3 L1104.0,1178.7 L1105.5,1178.0 L1107.0,1177.2 L1108.5,1176.2 L1110.0,1175.2 L1111.5,1173.9 L1113.0,1172.4 L1114.5,1170.7 L1116.0,1168.8 L1117.5,1166.6 L1119.0,1164.1 L1120.5,1161.3 L1122.0,1158.1 L1123.5,1154.6 L1125.0,1150.7 L1126.5,1146.4 L1128.0,1141.6 L1129.5,1136.4 L1131.0,1130.7 L1132.5,1124.5 L1134.0,1117.8 L1135.5,1110.5 L1137.0,1102.8 L1138.5,1094.5 L1140.0,1085.7 L1141.5,1076.4 L1143.0,1066.6 L1144.5,1056.4 L1146.0,1045.8 L1147.5,1034.9 L1149.0,1023.7 L1150.5,1012.2 L1152.0,1000.6 L1153.5,989.0 L1155.0,977.4 L1156.5,965.9 L1158.0,954.6 L1159.5,943.7 L1161.0,933.1 L1162.5,923.1 L1164.0,913.6 L1165.5,904.9 L1167.0,896.9 L1168.5,889.9 L1170.0,883.7 L1171.5,878.6 L1173.0,874.6 L1174.5,871.7 L1176.0,869.9 L1177.5,869.4 L1179.0,870.0 L1180.5,871.8 L1182.0,874.8 L1183.5,878.9 L1185.0,884.1 L1186.5,890.5 L1188.0,897.8 L1189.5,906.0 L1191.0,915.0 L1192.5,924.8 L1194.0,935.3 L1195.5,946.3 L1197.0,957.7 L1198.5,969.5 L1200.0,981.6 L1201.5,993.8 L1203.0,1006.1 L1204.5,1018.3 L1206.0,1030.4 L1207.5,1042.4 L1209.0,1054.0 L1210.5,1065.4 L1212.0,1076.4 L1213.5,1086.9 L1215.0,1097.0 L1216.5,1106.6 L1218.0,1115.8 L1219.5,1124.3 L1221.0,1132.4 L1222.5,1139.9 L1224.0,1146.9 L1225.5,1153.4 L1227.0,1159.4 L1228.5,1164.9 L1230.0,1169.9 L1231.5,1174.4 L1233.0,1178.6 L1234.5,1182.3 L1236.0,1185.7 L1237.5,1188.7 L1239.0,1191.5 L1240.5,1193.9 L1242.0,1196.1 L1243.5,1198.0 L1245.0,1199.8 L1246.5,1201.3 L1248.0,1202.7 L1249.5,1203.9 L1251.0,1205.0 L1252.5,1206.0 L1254.0,1206.8 L1255.5,1207.6 L1257.0,1208.3 L1258.5,1208.9 L1260.0,1209.5 L1261.5,1210.0 L1263.0,1210.4 L1264.5,1210.8 L1266.0,1211.2" fill="none" stroke="#b5d6ad" stroke-width="2.2" stroke-linejoin="round" stroke-linecap="round"/>
<path d="M1140.0,1183.4 L1141.5,1183.4 L1143.0,1183.4 L1144.5,1183.3 L1146.0,1183.2 L1147.5,1183.0 L1149.0,1182.8 L1150.5,1182.5 L1152.0,1182.1 L1153.5,1181.6 L1155.0,1181.0 L1156.5,1180.2 L1158.0,1179.3 L1159.5,1178.1 L1161.0,1176.8 L1162.5,1175.2 L1164.0,1173.3 L1165.5,1171.1 L1167.0,1168.5 L1168.5,1165.5 L1170.0,1162.1 L1171.5,1158.2 L1173.0,1153.8 L1174.5,1148.9 L1176.0,1143.5 L1177.5,1137.4 L1179.0,1130.8 L1180.5,1123.5 L1182.0,1115.6 L1183.5,1107.2 L1185.0,1098.1 L1186.5,1088.5 L1188.0,1078.3 L1189.5,1067.7 L1191.0,1056.6 L1192.5,1045.2 L1194.0,1033.5 L1195.5,1021.6 L1197.0,1009.7 L1198.5,997.8 L1200.0,986.0 L1201.5,974.5 L1203.0,963.4 L1204.5,952.8 L1206.0,942.9 L1207.5,933.7 L1209.0,925.5 L1210.5,918.3 L1212.0,912.1 L1213.5,907.2 L1215.0,903.6 L1216.5,901.3 L1218.0,900.4 L1219.5,900.8 L1221.0,902.6 L1222.5,905.8 L1224.0,910.3 L1225.5,916.1 L1227.0,923.1 L1228.5,931.2 L1230.0,940.2 L1231.5,950.2 L1233.0,961.0 L1234.5,972.3 L1236.0,984.2 L1237.5,996.5 L1239.0,1009.1 L1240.5,1021.8 L1242.0,1034.5 L1243.5,1047.2 L1245.0,1059.6 L1246.5,1071.8 L1248.0,1083.6 L1249.5,1094.9 L1251.0,1105.7 L1252.5,1116.0 L1254.0,1125.7 L1255.5,1134.8 L1257.0,1143.3 L1258.5,1151.2 L1260.0,1158.4 L1261.5,1165.0 L1263.0,1171.0 L1264.5,1176.5 L1266.0,1181.4 L1267.5,1185.8 L1269.0,1189.8 L1270.5,1193.3 L1272.0,1196.4 L1273.5,1199.1 L1275.0,1201.6 L1276.5,1203.7 L1278.0,1205.5 L1279.5,1207.1 L1281.0,1208.5 L1282.5,1209.6 L1284.0,1210.7 L1285.5,1211.5 L1287.0,1212.2 L1288.5,1212.9 L1290.0,1213.4 L1291.5,1213.8 L1293.0,1214.2 L1294.5,1214.5 L1296.0,1214.8 L1297.5,1215.0" fill="none" stroke="#65806f" stroke-width="2.4" stroke-linejoin="round" stroke-linecap="round"/>
<path d="M1192.5,1193.5 L1194.0,1193.8 L1195.5,1194.1 L1197.0,1194.2 L1198.5,1194.4 L1200.0,1194.4 L1201.5,1194.4 L1203.0,1194.2 L1204.5,1193.9 L1206.0,1193.5 L1207.5,1192.8 L1209.0,1191.9 L1210.5,1190.8 L1212.0,1189.4 L1213.5,1187.6 L1215.0,1185.5 L1216.5,1183.0 L1218.0,1179.9 L1219.5,1176.4 L1221.0,1172.3 L1222.5,1167.6 L1224.0,1162.3 L1225.5,1156.3 L1227.0,1149.6 L1228.5,1142.2 L1230.0,1134.1 L1231.5,1125.2 L1233.0,1115.7 L1234.5,1105.5 L1236.0,1094.7 L1237.5,1083.4 L1239.0,1071.6 L1240.5,1059.5 L1242.0,1047.2 L1243.5,1034.9 L1245.0,1022.6 L1246.5,1010.6 L1248.0,999.0 L1249.5,987.9 L1251.0,977.7 L1252.5,968.3 L1254.0,959.9 L1255.5,952.8 L1257.0,947.0 L1258.5,942.7 L1260.0,939.8 L1261.5,938.6 L1263.0,938.9 L1264.5,940.8 L1266.0,944.3 L1267.5,949.2 L1269.0,955.7 L1270.5,963.4 L1272.0,972.4 L1273.5,982.4 L1275.0,993.3 L1276.5,1004.9 L1278.0,1017.1 L1279.5,1029.7 L1281.0,1042.5 L1282.5,1055.4 L1284.0,1068.2 L1285.5,1080.8 L1287.0,1093.0 L1288.5,1104.8 L1290.0,1116.0 L1291.5,1126.6 L1293.0,1136.6 L1294.5,1145.8 L1296.0,1154.4 L1297.5,1162.2 L1299.0,1169.4 L1300.5,1175.8 L1302.0,1181.6 L1303.5,1186.7 L1305.0,1191.2 L1306.5,1195.2 L1308.0,1198.6 L1309.5,1201.6 L1311.0,1204.1 L1312.5,1206.3 L1314.0,1208.1 L1315.5,1209.7 L1317.0,1211.0 L1318.5,1212.0 L1320.0,1212.9 L1321.5,1213.6 L1323.0,1214.2 L1324.5,1214.7 L1326.0,1215.1 L1327.5,1215.4 L1329.0,1215.7 L1330.5,1215.9 L1332.0,1216.0" fill="none" stroke="#c94fa0" stroke-width="2.4" stroke-linejoin="round" stroke-linecap="round"/>
<path d="M1233.0,1204.3 L1234.5,1204.5 L1236.0,1204.6 L1237.5,1204.7 L1239.0,1204.7 L1240.5,1204.6 L1242.0,1204.4 L1243.5,1204.1 L1245.0,1203.6 L1246.5,1202.9 L1248.0,1202.1 L1249.5,1201.1 L1251.0,1199.7 L1252.5,1198.1 L1254.0,1196.2 L1255.5,1194.0 L1257.0,1191.3 L1258.5,1188.3 L1260.0,1184.9 L1261.5,1181.0 L1263.0,1176.6 L1264.5,1171.9 L1266.0,1166.7 L1267.5,1161.0 L1269.0,1155.0 L1270.5,1148.7 L1272.0,1142.0 L1273.5,1135.1 L1275.0,1128.1 L1276.5,1121.0 L1278.0,1113.9 L1279.5,1106.9 L1281.0,1100.1 L1282.5,1093.7 L1284.0,1087.8 L1285.5,1082.3 L1287.0,1077.6 L1288.5,1073.6 L1290.0,1070.4 L1291.5,1068.1 L1293.0,1066.7 L1294.5,1066.3 L1296.0,1066.9 L1297.5,1068.5 L1299.0,1071.0 L1300.5,1074.4 L1302.0,1078.6 L1303.5,1083.6 L1305.0,1089.2 L1306.5,1095.4 L1308.0,1102.1 L1309.5,1109.1 L1311.0,1116.3 L1312.5,1123.7 L1314.0,1131.1 L1315.5,1138.4 L1317.0,1145.6 L1318.5,1152.5 L1320.0,1159.1 L1321.5,1165.4 L1323.0,1171.3 L1324.5,1176.8 L1326.0,1181.8 L1327.5,1186.4 L1329.0,1190.6 L1330.5,1194.3 L1332.0,1197.7 L1333.5,1200.6 L1335.0,1203.2 L1336.5,1205.4 L1338.0,1207.3 L1339.5,1209.0 L1341.0,1210.4 L1342.5,1211.6 L1344.0,1212.6 L1345.5,1213.4 L1347.0,1214.0 L1348.5,1214.6 L1350.0,1215.0 L1351.5,1215.4 L1353.0,1215.7 L1354.5,1215.9 L1356.0,1216.1" fill="none" stroke="#2ea3e3" stroke-width="2.6" stroke-linejoin="round" stroke-linecap="round"/>
<rect x="21.0" y="1416.9" width="717.7" height="578.1" fill="none" stroke="#000" stroke-width="4.4"/>
<text x="20" y="1406.5" font-size="32.5" text-anchor="start" font-family="'Liberation Serif','Times New Roman',serif" letter-spacing="0.4">F1s</text>
<text transform="translate(686.5,1406.3) scale(0.9,0.965)" font-size="110" font-family="'Noto Sans CJK SC','Liberation Sans',sans-serif" font-weight="500" stroke="#000" stroke-width="1">c</text>
<line x1="112.9" y1="1993.2" x2="112.9" y2="1983.4" stroke="#000" stroke-width="3.6"/>
<line x1="296.95000000000005" y1="1993.2" x2="296.95000000000005" y2="1983.4" stroke="#000" stroke-width="3.6"/>
<line x1="481.0" y1="1993.2" x2="481.0" y2="1983.4" stroke="#000" stroke-width="3.6"/>
<line x1="665.0500000000001" y1="1993.2" x2="665.0500000000001" y2="1983.4" stroke="#000" stroke-width="3.6"/>
<line x1="204.925" y1="1993.2" x2="204.925" y2="1989.2" stroke="#000" stroke-width="3.6"/>
<line x1="388.975" y1="1993.2" x2="388.975" y2="1989.2" stroke="#000" stroke-width="3.6"/>
<line x1="573.025" y1="1993.2" x2="573.025" y2="1989.2" stroke="#000" stroke-width="3.6"/>
<text x="112.9" y="2026.5" font-size="24.5" text-anchor="middle" font-family="'Liberation Serif','Times New Roman',serif">695</text>
<text x="297.0" y="2026.5" font-size="24.5" text-anchor="middle" font-family="'Liberation Serif','Times New Roman',serif">690</text>
<text x="481.0" y="2026.5" font-size="24.5" text-anchor="middle" font-family="'Liberation Serif','Times New Roman',serif">685</text>
<text x="665.1" y="2026.5" font-size="24.5" text-anchor="middle" font-family="'Liberation Serif','Times New Roman',serif">680</text>
<text x="405" y="2055" font-size="30.4" text-anchor="middle" font-family="'Liberation Serif','Times New Roman',serif">Binding Energy (eV)</text>
<text x="367.5" y="1480" font-size="29.8" text-anchor="start" font-family="'Liberation Serif','Times New Roman',serif">Ce<tspan font-size="0.72em" dy="-0.5em">3+</tspan><tspan dy="0.36em" font-size="1em">&#8203;</tspan>-F</text>
<path d="M22.0,1904.6 L23.0,1904.2 L24.0,1904.0 L25.0,1903.8 L26.0,1903.7 L27.0,1903.6 L28.0,1903.8 L29.0,1903.7 L30.0,1903.6 L31.0,1903.7 L32.0,1903.8 L33.0,1904.0 L34.0,1904.0 L35.0,1904.1 L36.0,1903.9 L37.0,1903.6 L38.0,1903.5 L39.0,1903.4 L40.0,1903.3 L41.0,1903.3 L42.0,1903.6 L43.0,1903.5 L44.0,1903.5 L45.0,1903.5 L46.0,1903.6 L47.0,1903.4 L48.0,1903.3 L49.0,1903.4 L50.0,1903.5 L51.0,1903.7 L52.0,1903.6 L53.0,1903.7 L54.0,1903.7 L55.0,1903.4 L56.0,1903.3 L57.0,1903.4 L58.0,1903.7 L59.0,1903.9 L60.0,1904.2 L61.0,1904.5 L62.0,1904.8 L63.0,1904.7 L64.0,1904.8 L65.0,1905.1 L66.0,1905.2 L67.0,1905.4 L68.0,1905.6 L69.0,1905.8 L70.0,1906.2 L71.0,1906.6 L72.0,1906.9 L73.0,1907.5 L74.0,1907.9 L75.0,1907.8 L76.0,1908.0 L77.0,1908.0 L78.0,1908.0 L79.0,1907.9 L80.0,1908.3 L81.0,1908.6 L82.0,1909.0 L83.0,1909.5 L84.0,1909.9 L85.0,1910.1 L86.0,1910.2 L87.0,1910.4 L88.0,1910.5 L89.0,1911.1 L90.0,1911.2 L91.0,1911.6 L92.0,1912.0 L93.0,1912.4 L94.0,1912.5 L95.0,1913.0 L96.0,1913.2 L97.0,1913.5 L98.0,1913.5 L99.0,1913.9 L100.0,1914.0 L101.0,1914.2 L102.0,1914.5 L103.0,1914.9 L104.0,1915.0 L105.0,1915.6 L106.0,1915.9 L107.0,1916.0 L108.0,1916.1 L109.0,1916.3 L110.0,1916.5 L111.0,1916.8 L112.0,1917.1 L113.0,1917.7 L114.0,1918.1 L115.0,1918.4 L116.0,1918.9 L117.0,1919.2 L118.0,1919.4 L119.0,1920.0 L120.0,1920.4 L121.0,1920.5 L122.0,1920.8 L123.0,1921.2 L124.0,1921.4 L125.0,1921.6 L126.0,1921.9 L127.0,1922.1 L128.0,1922.4 L129.0,1922.6 L130.0,1922.8 L131.0,1923.1 L132.0,1923.4 L133.0,1923.7 L134.0,1923.9 L135.0,1924.3 L136.0,1924.6 L137.0,1925.0 L138.0,1925.1 L139.0,1925.5 L140.0,1925.5 L141.0,1925.7 L142.0,1925.7 L143.0,1925.7 L144.0,1925.7 L145.0,1925.8 L146.0,1925.8 L147.0,1926.0 L148.0,1926.1 L149.0,1926.0 L150.0,1926.0 L151.0,1926.2 L152.0,1926.3 L153.0,1926.3 L154.0,1926.5 L155.0,1926.5 L156.0,1926.3 L157.0,1926.3 L158.0,1926.3 L159.0,1926.1 L160.0,1926.1 L161.0,1926.1 L162.0,1926.1 L163.0,1926.3 L164.0,1926.4 L165.0,1926.5 L166.0,1926.6 L167.0,1926.6 L168.0,1926.6 L169.0,1926.7 L170.0,1926.6 L171.0,1926.7 L172.0,1926.6 L173.0,1926.5 L174.0,1926.5 L175.0,1926.7 L176.0,1926.5 L177.0,1926.7 L178.0,1926.7 L179.0,1926.8 L180.0,1926.7 L181.0,1926.8 L182.0,1926.8 L183.0,1926.8 L184.0,1927.0 L185.0,1927.1 L186.0,1926.9 L187.0,1927.1 L188.0,1927.2 L189.0,1927.0 L190.0,1927.1 L191.0,1927.2 L192.0,1927.1 L193.0,1927.2 L194.0,1927.2 L195.0,1927.0 L196.0,1926.9 L197.0,1927.0 L198.0,1927.2 L199.0,1927.3 L200.0,1927.7 L201.0,1927.9 L202.0,1927.9 L203.0,1927.9 L204.0,1927.6 L205.0,1927.4 L206.0,1927.3 L207.0,1927.4 L208.0,1927.6 L209.0,1927.8 L210.0,1927.8 L211.0,1927.8 L212.0,1927.9 L213.0,1927.9 L214.0,1928.0 L215.0,1928.1 L216.0,1928.5 L217.0,1928.7 L218.0,1928.7 L219.0,1928.6 L220.0,1928.8 L221.0,1928.6 L222.0,1928.6 L223.0,1928.7 L224.0,1928.9 L225.0,1929.1 L226.0,1929.2 L227.0,1929.3 L228.0,1929.3 L229.0,1929.3 L230.0,1929.1 L231.0,1929.3 L232.0,1929.3 L233.0,1929.5 L234.0,1929.6 L235.0,1929.7 L236.0,1929.7 L237.0,1929.8 L238.0,1929.7 L239.0,1929.7 L240.0,1929.7 L241.0,1929.6 L242.0,1929.6 L243.0,1929.8 L244.0,1929.8 L245.0,1930.1 L246.0,1929.9 L247.0,1930.0 L248.0,1929.9 L249.0,1929.9 L250.0,1929.9 L251.0,1930.2 L252.0,1930.2 L253.0,1930.2 L254.0,1930.6 L255.0,1930.5 L256.0,1930.5 L257.0,1930.5 L258.0,1930.5 L259.0,1930.1 L260.0,1930.1 L261.0,1930.3 L262.0,1930.5 L263.0,1930.6 L264.0,1930.8 L265.0,1931.0 L266.0,1930.9 L267.0,1931.0 L268.0,1931.0 L269.0,1931.0 L270.0,1931.0 L271.0,1930.7 L272.0,1930.4 L273.0,1930.4 L274.0,1930.3 L275.0,1930.1 L276.0,1930.3 L277.0,1930.3 L278.0,1930.6 L279.0,1930.7 L280.0,1930.8 L281.0,1931.0 L282.0,1931.0 L283.0,1930.9 L284.0,1930.8 L285.0,1931.0 L286.0,1930.8 L287.0,1930.9 L288.0,1930.8 L289.0,1930.7 L290.0,1930.7 L291.0,1930.8 L292.0,1930.9 L293.0,1930.9 L294.0,1931.1 L295.0,1931.1 L296.0,1931.3 L297.0,1930.9 L298.0,1930.9 L299.0,1930.8 L300.0,1930.9 L301.0,1930.8 L302.0,1931.1 L303.0,1931.1 L304.0,1931.4 L305.0,1931.6 L306.0,1931.7 L307.0,1931.7 L308.0,1931.9 L309.0,1931.9 L310.0,1932.0 L311.0,1931.9 L312.0,1932.0 L313.0,1931.9 L314.0,1931.8 L315.0,1931.5 L316.0,1931.7 L317.0,1931.7 L318.0,1932.1 L319.0,1932.3 L320.0,1932.4 L321.0,1932.3 L322.0,1932.4 L323.0,1932.4 L324.0,1932.3 L325.0,1932.2 L326.0,1932.3 L327.0,1932.4 L328.0,1932.2 L329.0,1932.4 L330.0,1932.5 L331.0,1932.6 L332.0,1932.4 L333.0,1932.4 L334.0,1932.2 L335.0,1931.9 L336.0,1931.8 L337.0,1931.6 L338.0,1931.6 L339.0,1931.4 L340.0,1931.8 L341.0,1931.7 L342.0,1931.9 L343.0,1932.0 L344.0,1931.9 L345.0,1931.5 L346.0,1931.4 L347.0,1931.3 L348.0,1931.2 L349.0,1931.4 L350.0,1931.7 L351.0,1931.6 L352.0,1931.6 L353.0,1931.7 L354.0,1931.6 L355.0,1931.3 L356.0,1931.4 L357.0,1931.4 L358.0,1931.2 L359.0,1931.2 L360.0,1931.4 L361.0,1931.2 L362.0,1931.3 L363.0,1931.4 L364.0,1931.6 L365.0,1931.5 L366.0,1931.7 L367.0,1931.3 L368.0,1931.2 L369.0,1931.1 L370.0,1931.1 L371.0,1931.1 L372.0,1931.5 L373.0,1931.6 L374.0,1931.7 L375.0,1932.0 L376.0,1931.9 L377.0,1932.0 L378.0,1932.0 L379.0,1932.2 L380.0,1932.4 L381.0,1933.0 L382.0,1933.2 L383.0,1933.4 L384.0,1933.7 L385.0,1933.8 L386.0,1934.0 L387.0,1934.2 L388.0,1934.7 L389.0,1935.1 L390.0,1935.6 L391.0,1936.0 L392.0,1936.7 L393.0,1936.9 L394.0,1937.4 L395.0,1937.6 L396.0,1937.9 L397.0,1938.0 L398.0,1938.1 L399.0,1937.8 L400.0,1937.4 L401.0,1937.0 L402.0,1936.2 L403.0,1935.6 L404.0,1934.9 L405.0,1934.0 L406.0,1933.1 L407.0,1932.3 L408.0,1931.1 L409.0,1930.1 L410.0,1929.0 L411.0,1927.7 L412.0,1926.1 L413.0,1924.7 L414.0,1923.3 L415.0,1921.8 L416.0,1920.3 L417.0,1918.8 L418.0,1916.9 L419.0,1914.7 L420.0,1912.3 L421.0,1909.8 L422.0,1907.3 L423.0,1904.4 L424.0,1901.6 L425.0,1898.6 L426.0,1895.4 L427.0,1891.9 L428.0,1888.2 L429.0,1884.3 L430.0,1880.1 L431.0,1875.5 L432.0,1871.1 L433.0,1866.5 L434.0,1861.7 L435.0,1856.7 L436.0,1851.3 L437.0,1845.6 L438.0,1839.6 L439.0,1833.4 L440.0,1827.1 L441.0,1820.5 L442.0,1813.5 L443.0,1806.5 L444.0,1799.2 L445.0,1791.5 L446.0,1783.8 L447.0,1776.2 L448.0,1768.3 L449.0,1760.1 L450.0,1752.0 L451.0,1743.6 L452.0,1734.8 L453.0,1725.8 L454.0,1716.9 L455.0,1707.8 L456.0,1698.4 L457.0,1689.3 L458.0,1680.3 L459.0,1671.2 L460.0,1662.1 L461.0,1653.0 L462.0,1644.1 L463.0,1634.9 L464.0,1625.6 L465.0,1616.6 L466.0,1607.8 L467.0,1598.9 L468.0,1590.3 L469.0,1582.2 L470.0,1574.0 L471.0,1566.1 L472.0,1558.4 L473.0,1551.0 L474.0,1543.6 L475.0,1536.8 L476.0,1530.2 L477.0,1523.7 L478.0,1517.6 L479.0,1511.8 L480.0,1506.3 L481.0,1501.5 L482.0,1496.8 L483.0,1492.6 L484.0,1488.6 L485.0,1485.0 L486.0,1481.8 L487.0,1479.1 L488.0,1476.5 L489.0,1474.4 L490.0,1472.5 L491.0,1470.7 L492.0,1469.3 L493.0,1468.4 L494.0,1467.8 L495.0,1467.5 L496.0,1467.5 L497.0,1467.5 L498.0,1467.6 L499.0,1467.9 L500.0,1468.4 L501.0,1469.2 L502.0,1470.5 L503.0,1472.1 L504.0,1473.9 L505.0,1475.9 L506.0,1478.4 L507.0,1481.2 L508.0,1484.1 L509.0,1487.7 L510.0,1491.9 L511.0,1495.9 L512.0,1500.5 L513.0,1505.5 L514.0,1510.6 L515.0,1516.3 L516.0,1522.3 L517.0,1528.3 L518.0,1535.0 L519.0,1541.7 L520.0,1548.9 L521.0,1556.1 L522.0,1563.9 L523.0,1571.6 L524.0,1579.9 L525.0,1588.1 L526.0,1596.6 L527.0,1605.2 L528.0,1614.0 L529.0,1622.8 L530.0,1631.6 L531.0,1640.7 L532.0,1649.6 L533.0,1658.9 L534.0,1668.1 L535.0,1677.5 L536.0,1686.8 L537.0,1695.9 L538.0,1704.6 L539.0,1713.6 L540.0,1722.4 L541.0,1731.1 L542.0,1739.8 L543.0,1748.6 L544.0,1756.9 L545.0,1764.9 L546.0,1773.0 L547.0,1781.1 L548.0,1788.7 L549.0,1796.2 L550.0,1803.6 L551.0,1810.7 L552.0,1817.3 L553.0,1823.8 L554.0,1830.1 L555.0,1836.1 L556.0,1842.0 L557.0,1847.6 L558.0,1853.2 L559.0,1858.4 L560.0,1863.2 L561.0,1867.8 L562.0,1872.1 L563.0,1876.1 L564.0,1880.2 L565.0,1884.1 L566.0,1887.8 L567.0,1891.1 L568.0,1894.1 L569.0,1896.9 L570.0,1899.6 L571.0,1901.9 L572.0,1904.2 L573.0,1906.6 L574.0,1908.9 L575.0,1910.9 L576.0,1912.8 L577.0,1914.5 L578.0,1915.9 L579.0,1917.5 L580.0,1918.7 L581.0,1920.0 L582.0,1921.4 L583.0,1922.5 L584.0,1923.2 L585.0,1924.4 L586.0,1925.1 L587.0,1925.8 L588.0,1926.5 L589.0,1927.1 L590.0,1927.4 L591.0,1928.1 L592.0,1928.9 L593.0,1929.6 L594.0,1930.5 L595.0,1931.3 L596.0,1931.8 L597.0,1932.2 L598.0,1932.5 L599.0,1932.4 L600.0,1932.6 L601.0,1932.7 L602.0,1932.6 L603.0,1932.3 L604.0,1932.3 L605.0,1931.9 L606.0,1931.6 L607.0,1931.2 L608.0,1931.2 L609.0,1931.2 L610.0,1931.1 L611.0,1931.0 L612.0,1930.9 L613.0,1930.4 L614.0,1929.9 L615.0,1929.5 L616.0,1929.4 L617.0,1929.3 L618.0,1929.3 L619.0,1929.1 L620.0,1929.4 L621.0,1929.3 L622.0,1929.3 L623.0,1929.5 L624.0,1929.7 L625.0,1929.9 L626.0,1930.3 L627.0,1930.6 L628.0,1930.9 L629.0,1931.3 L630.0,1931.7 L631.0,1931.8 L632.0,1932.0 L633.0,1932.1 L634.0,1932.4 L635.0,1932.7 L636.0,1932.9 L637.0,1933.1 L638.0,1933.4 L639.0,1933.5 L640.0,1933.4 L641.0,1933.4 L642.0,1933.2 L643.0,1933.1 L644.0,1933.0 L645.0,1933.1 L646.0,1933.1 L647.0,1933.1 L648.0,1933.0 L649.0,1933.1 L650.0,1932.9 L651.0,1933.0 L652.0,1932.9 L653.0,1933.0 L654.0,1932.8 L655.0,1933.0 L656.0,1932.9 L657.0,1933.0 L658.0,1932.9 L659.0,1932.9 L660.0,1932.8 L661.0,1932.9 L662.0,1932.8 L663.0,1932.8 L664.0,1932.8 L665.0,1932.7 L666.0,1932.3 L667.0,1932.5 L668.0,1932.6 L669.0,1932.5 L670.0,1932.5 L671.0,1932.8 L672.0,1932.9 L673.0,1932.7 L674.0,1933.1 L675.0,1933.1 L676.0,1932.9 L677.0,1932.9 L678.0,1932.8 L679.0,1932.7 L680.0,1932.5 L681.0,1932.6 L682.0,1932.5 L683.0,1932.7 L684.0,1932.7 L685.0,1932.8 L686.0,1932.7 L687.0,1932.9 L688.0,1932.6 L689.0,1932.6 L690.0,1932.6 L691.0,1932.6 L692.0,1932.6 L693.0,1933.1 L694.0,1933.1 L695.0,1933.1 L696.0,1933.1 L697.0,1933.1 L698.0,1932.6 L699.0,1932.7 L700.0,1932.6 L701.0,1932.3 L702.0,1932.1 L703.0,1932.3 L704.0,1932.1 L705.0,1932.2 L706.0,1932.5 L707.0,1932.6 L708.0,1932.6 L709.0,1932.4 L710.0,1932.4 L711.0,1932.5 L712.0,1932.4 L713.0,1932.3 L714.0,1932.3 L715.0,1932.5 L716.0,1932.3 L717.0,1932.3 L718.0,1932.4 L719.0,1932.6 L720.0,1932.4 L721.0,1932.4 L722.0,1932.3 L723.0,1932.4 L724.0,1932.5 L725.0,1932.5 L726.0,1932.7 L727.0,1932.9 L728.0,1932.9 L729.0,1932.8 L730.0,1932.9 L731.0,1932.9 L732.0,1933.0 L733.0,1932.9 L734.0,1932.9 L735.0,1932.9 L736.0,1932.9 L737.0,1932.9 L738.0,1933.0" fill="none" stroke="#000" stroke-width="2.4" stroke-linejoin="round" stroke-linecap="round"/>
<rect x="763.9" y="1462.8999999999999" width="730.8" height="538.0" fill="none" stroke="#000" stroke-width="4.2"/>
<text transform="translate(1426,1404.6) scale(0.98,1)" font-size="110" font-family="'Noto Sans CJK SC','Liberation Sans',sans-serif" font-weight="500" stroke="#000" stroke-width="1">d</text>
<line x1="847.5" y1="1999.5" x2="847.5" y2="1990.5" stroke="#000" stroke-width="3.2"/>
<line x1="955.0" y1="1999.5" x2="955.0" y2="1990.5" stroke="#000" stroke-width="3.2"/>
<line x1="1062.5" y1="1999.5" x2="1062.5" y2="1990.5" stroke="#000" stroke-width="3.2"/>
<line x1="1170.0" y1="1999.5" x2="1170.0" y2="1990.5" stroke="#000" stroke-width="3.2"/>
<line x1="1277.5" y1="1999.5" x2="1277.5" y2="1990.5" stroke="#000" stroke-width="3.2"/>
<line x1="1385.0" y1="1999.5" x2="1385.0" y2="1990.5" stroke="#000" stroke-width="3.2"/>
<line x1="793.75" y1="1999.5" x2="793.75" y2="1995.5" stroke="#000" stroke-width="3.2"/>
<line x1="901.25" y1="1999.5" x2="901.25" y2="1995.5" stroke="#000" stroke-width="3.2"/>
<line x1="1008.75" y1="1999.5" x2="1008.75" y2="1995.5" stroke="#000" stroke-width="3.2"/>
<line x1="1116.25" y1="1999.5" x2="1116.25" y2="1995.5" stroke="#000" stroke-width="3.2"/>
<line x1="1223.75" y1="1999.5" x2="1223.75" y2="1995.5" stroke="#000" stroke-width="3.2"/>
<line x1="1331.25" y1="1999.5" x2="1331.25" y2="1995.5" stroke="#000" stroke-width="3.2"/>
<line x1="1438.75" y1="1999.5" x2="1438.75" y2="1995.5" stroke="#000" stroke-width="3.2"/>
<text x="848.3" y="2030.4" font-size="23.6" text-anchor="middle" font-family="'Liberation Serif','Times New Roman',serif">1200</text>
<text x="955.8" y="2030.4" font-size="23.6" text-anchor="middle" font-family="'Liberation Serif','Times New Roman',serif">1000</text>
<text x="1063.3" y="2030.4" font-size="23.6" text-anchor="middle" font-family="'Liberation Serif','Times New Roman',serif">800</text>
<text x="1170.8" y="2030.4" font-size="23.6" text-anchor="middle" font-family="'Liberation Serif','Times New Roman',serif">600</text>
<text x="1278.3" y="2030.4" font-size="23.6" text-anchor="middle" font-family="'Liberation Serif','Times New Roman',serif">400</text>
<text x="1385.8" y="2030.4" font-size="23.6" text-anchor="middle" font-family="'Liberation Serif','Times New Roman',serif">200</text>
<text x="1493" y="2030.4" font-size="23.6" text-anchor="middle" font-family="'Liberation Serif','Times New Roman',serif">0</text>
<text x="1152" y="2057.2" font-size="27.8" text-anchor="middle" font-family="'Liberation Serif','Times New Roman',serif">Binding Energy (eV)</text>
<text x="768.5" y="1490" font-size="27.8" text-anchor="start" font-family="'Liberation Serif','Times New Roman',serif">Deionized water</text>
<text x="768.5" y="1717.5" font-size="27.8" text-anchor="start" font-family="'Liberation Serif','Times New Roman',serif">Fluoride solution</text>
<path d="M766.0,1490.0 L767.7,1494.0 L769.3,1495.8 L771.0,1499.0 L772.7,1500.7 L774.3,1501.4 L776.0,1505.0 L777.7,1506.5 L779.3,1507.8 L781.0,1509.2 L782.7,1511.2 L784.3,1512.8 L786.0,1514.0 L787.7,1514.5 L789.3,1515.8 L791.0,1517.2 L792.7,1519.1 L794.3,1520.2 L796.0,1521.0 L797.7,1520.5 L799.3,1520.8 L801.0,1522.2 L802.7,1522.9 L804.3,1522.2 L806.0,1522.1 L807.7,1523.4 L809.3,1522.8 L811.0,1523.7 L812.7,1524.4 L814.3,1524.1 L816.0,1524.0 L817.7,1523.4 L819.3,1523.1 L821.0,1521.6 L822.7,1521.2 L824.3,1520.3 L826.0,1520.0 L827.9,1519.9 L829.8,1519.7 L831.6,1519.9 L833.5,1520.0 L835.2,1522.3 L837.0,1525.0 L839.0,1528.8 L841.0,1532.5 L842.7,1533.1 L844.3,1533.8 L846.0,1535.0 L847.7,1533.8 L849.3,1536.1 L851.0,1535.7 L852.7,1535.6 L854.3,1536.8 L856.0,1537.5 L857.8,1538.1 L859.6,1539.1 L861.4,1538.4 L863.1,1539.6 L864.9,1540.1 L866.7,1539.5 L868.5,1541.0 L870.1,1539.7 L871.7,1540.1 L873.3,1539.6 L874.9,1539.2 L876.5,1538.3 L878.1,1537.6 L879.8,1536.8 L881.4,1536.9 L883.0,1535.0 L884.6,1534.8 L886.2,1534.6 L887.8,1532.8 L889.4,1533.9 L891.0,1532.5 L892.6,1531.7 L894.2,1531.7 L895.8,1532.7 L897.4,1530.6 L899.0,1530.4 L900.6,1531.3 L902.2,1529.4 L903.9,1529.4 L905.5,1529.6 L907.1,1529.2 L908.7,1528.9 L910.3,1528.4 L911.9,1528.7 L913.5,1527.5 L915.5,1521.0 L917.5,1527.5 L919.2,1527.7 L920.9,1527.0 L922.5,1525.8 L924.2,1525.4 L925.9,1524.2 L927.5,1525.4 L929.2,1523.4 L930.9,1524.6 L932.6,1524.8 L934.2,1522.6 L935.9,1522.4 L937.6,1522.1 L939.3,1522.5 L941.0,1521.0 L942.6,1521.0 L944.3,1520.4 L946.0,1520.1 L947.6,1520.6 L949.3,1518.8 L951.0,1519.0 L952.8,1519.0 L954.5,1519.2 L956.2,1519.5 L958.0,1518.2 L959.8,1519.7 L961.5,1519.3 L963.2,1519.5 L965.0,1519.0 L968.0,1511.0 L970.0,1516.8 L972.0,1522.5 L973.6,1522.8 L975.2,1524.6 L976.9,1526.7 L978.5,1527.5 L980.1,1527.5 L981.8,1527.5 L983.5,1528.6 L985.1,1528.8 L986.8,1527.5 L988.4,1528.7 L990.0,1526.3 L991.7,1526.3 L993.4,1528.0 L995.0,1527.5 L996.8,1521.1 L998.5,1515.0 L1001.0,1540.0 L1002.7,1540.3 L1004.3,1540.3 L1006.0,1540.0 L1008.0,1522.5 L1011.0,1574.0 L1013.5,1560.0 L1016.5,1556.0 L1018.2,1578.4 L1020.0,1601.0 L1021.8,1602.2 L1023.5,1602.5 L1025.1,1602.3 L1026.7,1601.1 L1028.3,1601.9 L1029.9,1601.6 L1031.5,1602.3 L1033.1,1600.3 L1034.8,1600.8 L1036.4,1600.2 L1038.0,1600.2 L1039.6,1601.0 L1041.2,1600.0 L1042.8,1599.2 L1044.4,1599.3 L1046.0,1599.0 L1047.8,1598.7 L1049.5,1597.5 L1051.1,1604.4 L1052.8,1612.3 L1054.4,1620.9 L1056.0,1627.5 L1057.9,1632.6 L1059.8,1636.7 L1061.6,1641.1 L1063.5,1646.0 L1065.2,1645.7 L1067.0,1644.6 L1068.8,1645.8 L1070.5,1645.2 L1072.2,1644.8 L1074.0,1643.7 L1075.8,1643.8 L1077.5,1644.3 L1079.2,1643.9 L1081.0,1643.5 L1082.7,1643.0 L1084.3,1643.4 L1086.0,1643.4 L1087.7,1642.2 L1089.3,1642.1 L1091.0,1641.6 L1092.7,1641.3 L1094.3,1642.2 L1096.0,1641.5 L1097.8,1642.0 L1099.7,1642.0 L1101.5,1641.3 L1103.3,1641.5 L1105.2,1642.3 L1107.0,1642.5 L1109.0,1644.8 L1111.0,1647.5 L1112.7,1648.6 L1114.3,1649.1 L1116.0,1650.9 L1117.7,1652.6 L1119.3,1653.4 L1121.0,1653.5 L1122.7,1654.3 L1124.3,1653.3 L1126.0,1653.6 L1127.7,1652.7 L1129.3,1653.4 L1131.0,1652.4 L1132.7,1652.2 L1134.3,1652.0 L1136.0,1652.7 L1137.7,1652.3 L1139.3,1652.1 L1141.0,1651.1 L1142.7,1651.8 L1144.3,1650.7 L1146.0,1652.3 L1147.7,1651.2 L1149.3,1651.3 L1151.0,1651.0 L1152.7,1650.8 L1154.3,1649.8 L1156.0,1649.9 L1157.7,1650.6 L1159.3,1651.4 L1161.0,1649.7 L1162.7,1649.8 L1164.3,1650.1 L1166.0,1649.1 L1167.7,1648.9 L1169.3,1649.6 L1171.0,1649.7 L1172.7,1649.4 L1174.3,1650.5 L1176.0,1649.3 L1177.7,1649.5 L1179.3,1650.2 L1181.0,1650.1 L1182.7,1648.1 L1184.3,1648.7 L1186.0,1649.5 L1187.7,1647.9 L1189.3,1648.0 L1191.0,1648.5 L1192.9,1648.1 L1194.8,1648.4 L1196.6,1648.9 L1198.5,1650.0 L1200.2,1653.4 L1201.8,1657.4 L1203.5,1660.0 L1205.6,1655.0 L1206.6,1593.0 L1207.8,1593.0 L1209.2,1665.0 L1211.0,1666.2 L1212.8,1665.6 L1214.6,1664.8 L1216.3,1666.2 L1218.1,1666.4 L1219.9,1667.1 L1221.7,1667.1 L1223.5,1667.5 L1226.0,1660.0 L1229.0,1671.0 L1230.7,1669.8 L1232.4,1671.1 L1234.1,1669.5 L1235.8,1670.3 L1237.5,1670.8 L1239.2,1670.7 L1240.8,1671.4 L1242.5,1669.0 L1244.2,1670.5 L1245.9,1670.6 L1247.6,1670.0 L1249.3,1670.5 L1251.0,1670.0 L1252.6,1669.1 L1254.2,1670.0 L1255.8,1669.7 L1257.5,1668.6 L1259.1,1668.6 L1260.7,1668.7 L1262.3,1668.3 L1263.9,1669.1 L1265.5,1668.4 L1267.1,1668.9 L1268.7,1668.6 L1270.4,1667.7 L1272.0,1667.4 L1273.6,1666.7 L1275.2,1666.6 L1276.8,1666.4 L1278.4,1666.9 L1280.0,1666.0 L1281.6,1666.4 L1283.3,1666.2 L1284.9,1665.6 L1286.5,1665.6 L1288.1,1666.4 L1289.7,1666.3 L1291.3,1664.7 L1292.9,1664.9 L1294.5,1664.6 L1296.2,1664.4 L1297.8,1665.3 L1299.4,1664.6 L1301.0,1664.0 L1302.6,1664.4 L1304.2,1664.4 L1305.9,1662.8 L1307.5,1662.6 L1309.1,1662.4 L1310.7,1662.7 L1312.3,1661.7 L1313.9,1661.8 L1315.6,1661.8 L1317.2,1661.5 L1318.8,1660.7 L1320.4,1659.6 L1322.0,1658.9 L1323.6,1660.1 L1325.3,1659.4 L1326.9,1658.3 L1328.5,1658.5 L1330.1,1661.1 L1331.8,1664.0 L1333.4,1666.1 L1335.0,1670.0 L1337.5,1667.5 L1338.8,1662.0 L1339.7,1581.0 L1340.7,1581.0 L1341.8,1675.0 L1343.4,1675.2 L1345.0,1674.6 L1346.7,1675.0 L1348.3,1675.7 L1349.9,1675.2 L1351.5,1675.7 L1353.2,1675.6 L1354.8,1675.5 L1356.4,1675.5 L1358.0,1676.7 L1359.6,1675.5 L1361.3,1676.6 L1362.9,1675.2 L1364.5,1676.2 L1366.1,1675.9 L1367.8,1675.5 L1369.4,1674.4 L1371.0,1676.0 L1373.0,1676.0 L1375.0,1674.0 L1376.7,1674.0 L1378.3,1674.8 L1380.0,1676.0 L1381.8,1680.6 L1383.5,1685.0 L1385.1,1684.9 L1386.8,1684.9 L1388.4,1684.4 L1390.0,1683.5 L1391.7,1684.8 L1393.3,1683.5 L1394.9,1684.1 L1396.5,1684.1 L1398.2,1684.3 L1399.8,1683.3 L1401.4,1683.1 L1403.1,1683.0 L1404.7,1681.9 L1406.3,1682.4 L1408.0,1682.1 L1409.6,1681.9 L1411.2,1682.5 L1412.8,1682.1 L1414.5,1683.1 L1416.1,1682.8 L1417.7,1680.7 L1419.4,1681.7 L1421.0,1681.5 L1423.0,1682.6 L1425.0,1685.0 L1427.0,1670.0 L1430.0,1676.0 L1432.5,1672.5 L1435.0,1682.5 L1436.8,1692.8 L1438.5,1702.5 L1440.1,1702.6 L1441.8,1703.1 L1443.4,1702.7 L1445.0,1703.0 L1446.7,1702.3 L1448.3,1701.0 L1449.9,1701.8 L1451.5,1702.0 L1453.2,1702.2 L1454.8,1701.9 L1456.4,1703.5 L1458.1,1702.4 L1459.7,1703.3 L1461.3,1702.3 L1463.0,1703.5 L1464.6,1701.8 L1466.2,1702.9 L1467.8,1701.7 L1469.5,1702.8 L1471.1,1703.5 L1472.7,1701.5 L1474.4,1702.0 L1476.0,1702.5 L1478.0,1701.3 L1480.0,1699.7 L1482.0,1698.5 L1484.0,1701.4 L1486.0,1706.0 L1487.6,1706.7 L1489.2,1706.0 L1490.9,1706.8 L1492.5,1706.0" fill="none" stroke="#2d3a66" stroke-width="2.4" stroke-linejoin="round" stroke-linecap="round"/>
<path d="M766.0,1732.5 L767.9,1734.7 L769.8,1735.8 L771.6,1738.3 L773.5,1740.0 L775.3,1740.6 L777.1,1743.6 L778.9,1743.8 L780.6,1746.3 L782.4,1747.8 L784.2,1748.9 L786.0,1751.0 L787.7,1753.3 L789.3,1751.9 L791.0,1753.1 L792.7,1754.1 L794.3,1753.3 L796.0,1755.5 L797.7,1755.2 L799.3,1756.5 L801.0,1756.5 L802.8,1756.3 L804.6,1756.6 L806.4,1758.3 L808.1,1758.2 L809.9,1758.4 L811.7,1759.0 L813.5,1759.0 L815.3,1758.6 L817.1,1756.9 L818.9,1755.5 L820.6,1755.1 L822.4,1754.4 L824.2,1753.4 L826.0,1754.0 L827.9,1753.2 L829.8,1752.9 L831.6,1752.9 L833.5,1752.5 L835.4,1757.0 L837.2,1761.0 L839.1,1765.5 L841.0,1770.0 L842.7,1770.0 L844.3,1769.4 L846.0,1769.6 L847.7,1770.0 L849.3,1769.6 L851.0,1770.0 L853.5,1766.5 L855.2,1768.7 L856.8,1771.4 L858.5,1774.0 L860.1,1774.5 L861.7,1773.6 L863.3,1772.9 L864.9,1772.5 L866.5,1772.5 L868.1,1773.6 L869.8,1770.1 L871.4,1772.0 L873.0,1771.6 L874.6,1771.7 L876.2,1770.2 L877.8,1771.8 L879.4,1770.9 L881.0,1770.0 L882.7,1769.4 L884.3,1769.0 L886.0,1767.9 L887.7,1767.8 L889.3,1767.1 L891.0,1767.2 L892.7,1766.3 L894.3,1765.5 L896.0,1765.4 L897.7,1764.8 L899.3,1764.0 L901.0,1762.4 L902.7,1763.4 L904.3,1761.5 L906.0,1761.1 L907.7,1761.0 L909.3,1760.9 L911.0,1760.0 L912.8,1755.3 L914.5,1749.0 L917.5,1759.0 L919.2,1757.5 L920.9,1759.0 L922.5,1758.6 L924.2,1756.9 L925.9,1756.6 L927.5,1756.0 L929.2,1755.5 L930.9,1754.6 L932.6,1753.9 L934.2,1754.4 L935.9,1754.2 L937.6,1754.7 L939.3,1752.5 L941.0,1751.4 L942.6,1752.3 L944.3,1751.5 L946.0,1751.6 L947.6,1750.7 L949.3,1749.7 L951.0,1750.0 L952.8,1749.7 L954.6,1750.8 L956.4,1750.6 L958.1,1750.0 L959.9,1751.2 L961.7,1750.0 L963.5,1751.0 L965.5,1748.2 L967.5,1746.0 L969.5,1749.1 L971.5,1751.2 L973.5,1755.0 L975.1,1754.5 L976.7,1755.4 L978.3,1755.5 L979.9,1755.6 L981.5,1755.6 L983.1,1755.4 L984.8,1755.8 L986.4,1758.3 L988.0,1756.2 L989.6,1757.7 L991.2,1756.6 L992.8,1758.0 L994.4,1758.1 L996.0,1757.5 L998.0,1762.8 L1000.0,1767.1 L1002.0,1772.5 L1004.0,1756.7 L1006.0,1742.5 L1007.7,1763.9 L1009.3,1783.4 L1011.0,1805.0 L1012.7,1785.1 L1014.3,1767.6 L1016.0,1747.5 L1018.0,1785.9 L1020.0,1822.5 L1021.8,1822.8 L1023.7,1822.9 L1025.5,1822.9 L1027.3,1823.7 L1029.2,1823.5 L1031.0,1824.0 L1032.9,1824.3 L1034.8,1826.0 L1036.6,1827.9 L1038.5,1829.0 L1040.5,1829.8 L1042.5,1832.5 L1044.2,1822.7 L1046.0,1814.0 L1047.7,1826.1 L1049.3,1839.0 L1051.0,1850.0 L1052.8,1854.9 L1054.7,1859.5 L1056.5,1865.4 L1058.3,1868.4 L1060.2,1873.3 L1062.0,1878.5 L1063.7,1878.8 L1065.5,1878.7 L1067.2,1878.1 L1068.9,1876.0 L1070.6,1877.8 L1072.4,1877.5 L1074.1,1876.9 L1075.8,1877.1 L1077.5,1877.3 L1079.3,1876.3 L1081.0,1876.0 L1082.7,1875.3 L1084.3,1874.7 L1086.0,1875.7 L1087.7,1875.1 L1089.3,1875.1 L1091.0,1874.7 L1092.7,1875.4 L1094.3,1875.6 L1096.0,1875.0 L1097.7,1875.7 L1099.3,1875.2 L1101.0,1876.8 L1102.7,1876.9 L1104.3,1875.6 L1106.0,1877.5 L1107.8,1880.2 L1109.6,1881.0 L1111.4,1883.9 L1113.1,1887.6 L1114.9,1889.7 L1116.7,1891.3 L1118.5,1894.0 L1120.2,1894.5 L1122.0,1896.0 L1122.8,1890.0 L1123.4,1840.0 L1124.4,1840.0 L1125.4,1896.0 L1127.1,1896.1 L1128.8,1894.8 L1130.5,1896.0 L1132.2,1895.6 L1133.9,1896.1 L1135.6,1895.5 L1137.3,1894.9 L1139.1,1895.6 L1140.8,1895.2 L1142.5,1894.5 L1144.2,1894.6 L1145.9,1894.6 L1147.6,1895.2 L1149.3,1895.5 L1151.0,1895.0 L1152.6,1894.8 L1154.3,1894.0 L1155.9,1894.4 L1157.5,1894.8 L1159.2,1895.0 L1160.8,1893.6 L1162.4,1894.2 L1164.1,1893.7 L1165.7,1892.5 L1167.3,1892.9 L1169.0,1893.2 L1170.6,1893.1 L1172.2,1893.0 L1173.9,1892.8 L1175.5,1893.2 L1177.2,1892.3 L1178.8,1891.8 L1180.4,1892.9 L1182.1,1892.1 L1183.7,1892.8 L1185.3,1891.7 L1187.0,1892.8 L1188.6,1891.2 L1190.2,1891.0 L1191.9,1892.1 L1193.5,1891.5 L1195.5,1893.2 L1197.5,1892.4 L1199.5,1893.5 L1201.2,1897.2 L1203.0,1899.0 L1205.5,1855.0 L1206.9,1855.0 L1209.2,1902.5 L1210.9,1903.8 L1212.6,1903.7 L1214.3,1903.4 L1215.9,1902.6 L1217.6,1903.3 L1219.3,1904.2 L1221.0,1905.0 L1222.8,1899.1 L1224.5,1892.5 L1227.5,1907.5 L1229.2,1907.3 L1230.9,1906.9 L1232.5,1907.2 L1234.2,1906.1 L1235.9,1907.2 L1237.6,1906.3 L1239.2,1907.5 L1240.9,1906.7 L1242.6,1906.1 L1244.3,1906.1 L1246.0,1905.4 L1247.6,1906.3 L1249.3,1905.5 L1251.0,1906.0 L1252.7,1905.8 L1254.3,1906.4 L1256.0,1905.7 L1257.7,1905.6 L1259.3,1906.8 L1261.0,1905.4 L1262.7,1905.5 L1264.3,1904.5 L1266.0,1903.8 L1267.7,1904.5 L1269.3,1903.5 L1271.0,1904.0 L1272.5,1899.0 L1274.5,1903.5 L1276.2,1901.4 L1277.8,1903.3 L1279.5,1902.9 L1281.1,1901.7 L1282.8,1902.9 L1284.4,1901.8 L1286.1,1901.2 L1287.8,1900.7 L1289.4,1901.7 L1291.1,1900.4 L1292.7,1900.1 L1294.4,1899.8 L1296.0,1899.4 L1297.7,1898.5 L1299.3,1898.8 L1301.0,1899.0 L1302.7,1898.1 L1304.3,1898.7 L1306.0,1897.2 L1307.7,1898.1 L1309.3,1897.0 L1311.0,1896.5 L1312.7,1896.6 L1314.3,1896.4 L1316.0,1896.1 L1317.7,1896.0 L1319.3,1895.5 L1321.0,1894.1 L1322.7,1894.3 L1324.3,1895.3 L1326.0,1894.0 L1327.8,1892.7 L1329.5,1891.5 L1331.3,1895.4 L1333.2,1902.3 L1335.0,1907.5 L1338.0,1905.0 L1338.8,1900.0 L1339.6,1784.0 L1340.8,1784.0 L1341.9,1917.5 L1343.5,1918.6 L1345.1,1918.4 L1346.8,1917.8 L1348.4,1918.0 L1350.0,1918.3 L1351.6,1918.0 L1353.2,1917.8 L1354.8,1919.2 L1356.5,1918.1 L1358.1,1919.0 L1359.7,1917.6 L1361.3,1918.1 L1362.9,1918.0 L1364.6,1919.0 L1366.2,1918.5 L1367.8,1918.6 L1369.4,1918.5 L1371.0,1919.2 L1372.6,1919.8 L1374.3,1919.0 L1375.9,1919.8 L1377.5,1919.5 L1380.3,1910.0 L1381.8,1911.0 L1383.5,1925.0 L1385.2,1924.9 L1387.0,1924.4 L1388.8,1924.9 L1390.5,1925.4 L1392.2,1922.9 L1394.0,1924.8 L1395.8,1925.4 L1397.5,1924.1 L1399.2,1924.6 L1401.0,1924.0 L1402.7,1924.5 L1404.3,1924.1 L1406.0,1923.8 L1407.7,1924.4 L1409.3,1924.2 L1411.0,1923.5 L1412.7,1923.7 L1414.3,1922.7 L1416.0,1923.0 L1417.7,1923.1 L1419.3,1922.9 L1421.0,1922.4 L1422.7,1923.5 L1424.3,1922.8 L1426.0,1922.5 L1429.0,1927.5 L1431.3,1901.0 L1433.8,1901.0 L1436.0,1930.0 L1438.0,1943.0 L1440.0,1945.0 L1441.8,1945.6 L1443.6,1944.4 L1445.3,1945.0 L1447.1,1945.0 L1448.9,1945.4 L1450.7,1946.7 L1452.4,1947.3 L1454.2,1946.0 L1456.0,1946.0 L1458.5,1942.5 L1461.0,1946.0 L1462.8,1946.0 L1464.6,1945.5 L1466.4,1945.1 L1468.2,1945.7 L1470.0,1945.0 L1472.0,1942.0 L1474.0,1945.5 L1476.0,1941.0 L1478.0,1946.0 L1481.0,1939.5 L1484.0,1948.0 L1485.7,1948.6 L1487.4,1949.0 L1489.1,1950.8 L1490.8,1951.1 L1492.5,1952.0" fill="none" stroke="#e63a40" stroke-width="2.4" stroke-linejoin="round" stroke-linecap="round"/>
<line x1="1008.5" y1="1522.5" x2="1017" y2="1512.5" stroke="#444" stroke-width="1.2"/>
<text x="1017.5" y="1513.5" font-size="14.6" text-anchor="start" font-family="'Liberation Serif','Times New Roman',serif" font-weight="bold" letter-spacing="0.3">Ce3d</text>
<line x1="1207" y1="1592.5" x2="1222.5" y2="1576" stroke="#444" stroke-width="1.2"/>
<text x="1223.5" y="1578.5" font-size="14.6" text-anchor="start" font-family="'Liberation Serif','Times New Roman',serif" font-weight="bold" letter-spacing="0.3">O1s</text>
<line x1="1340" y1="1581" x2="1349.5" y2="1567.5" stroke="#444" stroke-width="1.2"/>
<text x="1349.5" y="1568.5" font-size="14.6" text-anchor="start" font-family="'Liberation Serif','Times New Roman',serif" font-weight="bold" letter-spacing="0.3">C1s</text>
<line x1="1016" y1="1747.5" x2="1028.5" y2="1735" stroke="#444" stroke-width="1.2"/>
<text x="1029.5" y="1736.5" font-size="14.6" text-anchor="start" font-family="'Liberation Serif','Times New Roman',serif" font-weight="bold" letter-spacing="0.3">Ce3d</text>
<line x1="1123.5" y1="1840" x2="1137" y2="1830" stroke="#444" stroke-width="1.2"/>
<text x="1137" y="1831" font-size="14.6" text-anchor="start" font-family="'Liberation Serif','Times New Roman',serif" font-weight="bold" letter-spacing="0.3">F1s</text>
<line x1="1206" y1="1855" x2="1218.5" y2="1842.5" stroke="#444" stroke-width="1.2"/>
<text x="1219.5" y="1842.5" font-size="14.6" text-anchor="start" font-family="'Liberation Serif','Times New Roman',serif" font-weight="bold" letter-spacing="0.3">O1s</text>
<line x1="1272.5" y1="1899" x2="1279.5" y2="1887.5" stroke="#444" stroke-width="1.2"/>
<text x="1279.5" y="1885" font-size="14.6" text-anchor="start" font-family="'Liberation Serif','Times New Roman',serif" font-weight="bold" letter-spacing="0.3">Ce3d</text>
<line x1="1340" y1="1784" x2="1355" y2="1775" stroke="#444" stroke-width="1.2"/>
<text x="1356" y="1776" font-size="14.6" text-anchor="start" font-family="'Liberation Serif','Times New Roman',serif" font-weight="bold" letter-spacing="0.3">C1s</text>
</svg>
</body></html>
